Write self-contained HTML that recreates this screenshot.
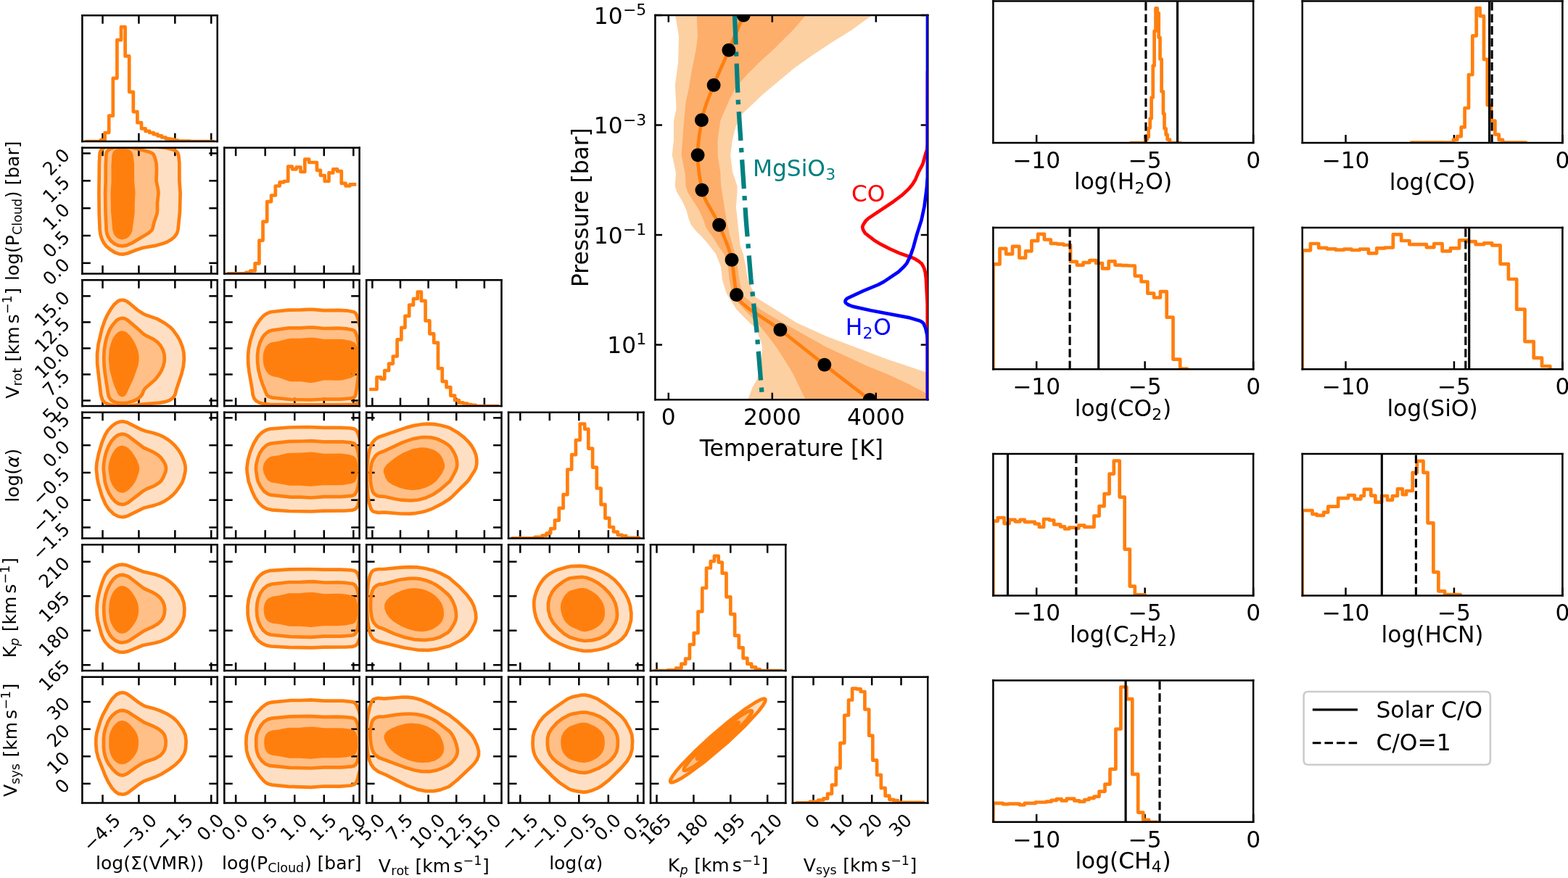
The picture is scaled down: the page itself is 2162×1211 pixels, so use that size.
<!DOCTYPE html>
<html><head><meta charset="utf-8"><title>Retrieval results</title>
<style>html,body{margin:0;padding:0;background:#fff;overflow:hidden;}svg{display:block;}</style>
</head><body>
<svg width="2162" height="1211" viewBox="0 0 2162 1211" version="1.1">
<defs>
<style type="text/css">*{stroke-linejoin: round; stroke-linecap: butt}</style>
</defs>
<g id="figure_1">
<g id="patch_1">
<path d="M0 1211L2162 1211L2162 0L0 0Z" style="fill: #ffffff"/>
</g>
<g id="axes_1">
<g id="patch_2">
<path d="M113.4 195.1L299.7 195.1L299.7 21.3L113.4 21.3Z" style="fill: #ffffff"/>
</g>
<g id="matplotlib.axis_1">
<g id="xtick_1">
<g id="line2d_1">

<g>
<path d="M0 0L0 -11.4" transform="translate(141.511339 195.1)" style="stroke: #000000; stroke-width: 2.5"/>
</g>
</g>
<g id="line2d_2">

<g>
<path d="M0 0L0 11.4" transform="translate(141.511339 21.3)" style="stroke: #000000; stroke-width: 2.5"/>
</g>
</g>
</g>
<g id="xtick_2">
<g id="line2d_3">
<g>
<path d="M0 0L0 -11.4" transform="translate(191.413125 195.1)" style="stroke: #000000; stroke-width: 2.5"/>
</g>
</g>
<g id="line2d_4">
<g>
<path d="M0 0L0 11.4" transform="translate(191.413125 21.3)" style="stroke: #000000; stroke-width: 2.5"/>
</g>
</g>
</g>
<g id="xtick_3">
<g id="line2d_5">
<g>
<path d="M0 0L0 -11.4" transform="translate(241.314911 195.1)" style="stroke: #000000; stroke-width: 2.5"/>
</g>
</g>
<g id="line2d_6">
<g>
<path d="M0 0L0 11.4" transform="translate(241.314911 21.3)" style="stroke: #000000; stroke-width: 2.5"/>
</g>
</g>
</g>
<g id="xtick_4">
<g id="line2d_7">
<g>
<path d="M0 0L0 -11.4" transform="translate(291.216696 195.1)" style="stroke: #000000; stroke-width: 2.5"/>
</g>
</g>
<g id="line2d_8">
<g>
<path d="M0 0L0 11.4" transform="translate(291.216696 21.3)" style="stroke: #000000; stroke-width: 2.5"/>
</g>
</g>
</g>
</g>
<g id="matplotlib.axis_2"/>
<g id="line2d_9">
<path d="M119.9 195.1L139 195.1L139 193.1L144.6 193.1L144.6 183L150.2 183L150.2 159.7L155.8 159.7L155.8 107.8L161.4 107.8L161.4 55.2L167 55.2L167 37.2L172.6 37.2L172.6 77.4L178.2 77.4L178.2 126.8L183.8 126.8L183.8 154.1L189.4 154.1L189.4 169.2L195 169.2L195 177.4L200.6 177.4L200.6 180.9L206.2 180.9L206.2 183L211.8 183L211.8 185.2L217.4 185.2L217.4 187.4L223 187.4L223 189.5L228.6 189.5L228.6 191.3L234.2 191.3L234.2 192.1L239.8 192.1L239.8 193.7L245.4 193.7L245.4 194.5L262 194.5L262 195.1L293.4 195.1" clip-path="url(#p1be38e4489)" style="fill: none; stroke: #ff7f0e; stroke-width: 4.7; stroke-linecap: square"/>
</g>
<g id="patch_3">
<path d="M113.4 195.1L113.4 21.3" style="fill: none; stroke: #000000; stroke-width: 2.5; stroke-linejoin: miter; stroke-linecap: square"/>
</g>
<g id="patch_4">
<path d="M299.7 195.1L299.7 21.3" style="fill: none; stroke: #000000; stroke-width: 2.5; stroke-linejoin: miter; stroke-linecap: square"/>
</g>
<g id="patch_5">
<path d="M113.4 195.1L299.7 195.1" style="fill: none; stroke: #000000; stroke-width: 2.5; stroke-linejoin: miter; stroke-linecap: square"/>
</g>
<g id="patch_6">
<path d="M113.4 21.3L299.7 21.3" style="fill: none; stroke: #000000; stroke-width: 2.5; stroke-linejoin: miter; stroke-linecap: square"/>
</g>
</g>
<g id="axes_2">
<g id="patch_7">
<path d="M113.4 377.6L299.7 377.6L299.7 203.8L113.4 203.8Z" style="fill: #ffffff"/>
</g>
<g id="QuadContourSet_1">
<path d="M160.7 199.3L173.4 199L198.6 201.6L216.9 202.6L228.9 204L236.4 205.7L241.7 207.7L245 210.6L246.3 214.3L247.2 223.3L247.4 249.6L248.6 266.1L247.9 292.3L245.5 316.3L244.6 320.1L243.2 323.1L240.3 326.8L236.4 330.2L231.2 333.3L225.9 335.5L215.4 338.6L197.1 341.8L187.8 344.8L175.7 349.5L171.2 350.6L165.2 350.5L159.9 348.9L153.2 345L147.2 340.1L143.7 335.8L140.5 329.8L138.6 323.8L137.7 317.1L136.7 294.6L136.4 266.8L136.9 224.8L137.6 211.3L138.3 209.1L139.6 206.8L144.2 203.2L150.2 201.1L160.6 199.3ZM165.5 202.3L157.7 203.4L152 205.3L148.6 207.6L147.5 209.1L146.6 211.3L145.7 224.1L145.7 249.6L145.1 264.6L145.5 293.8L146.8 318.6L147.7 323.1L149.6 327.6L153.6 332.8L158.4 336.6L164.4 339L169.7 339.4L176.4 337.9L184.7 333.8L204.8 321.6L207.7 319.3L209.4 317.3L210.6 314.8L212.3 307.3L216.6 294.6L217 290.1L217 279.6L218.5 266.1L218 261.6L215.5 249.6L216 233.1L215.5 225.6L213.8 218.1L211.5 212.8L209.8 211.3L206.5 209.8L188.4 205L175.7 202.7L165.9 202.3Z" clip-path="url(#p639ee60610)" style="fill: #ff7f0e; fill-opacity: 0.25"/>
<path d="M165.9 202.3L175.7 202.7L188.4 205L206.5 209.8L209.8 211.3L211.5 212.8L213.8 218.1L215.5 225.6L216 233.1L215.5 249.6L218 261.6L218.5 266.1L217 279.6L217 290.1L216.6 294.6L212.3 307.3L210.6 314.8L209.4 317.3L207.7 319.3L204.8 321.6L184.7 333.8L176.4 337.9L169.7 339.4L164.4 339L158.4 336.6L153.6 332.8L149.6 327.6L147.7 323.1L146.8 318.6L145.5 293.8L145.1 264.6L145.7 249.6L145.7 224.1L146.6 211.3L147.5 209.1L148.6 207.6L152 205.3L157.7 203.4L165.5 202.3ZM164.7 206.8L160.7 208.1L158.5 209.8L157.3 212.1L156.6 216.6L155.8 229.3L155.9 250.3L154.9 266.1L155.5 293.1L157.4 315.6L158.6 320.8L160.3 323.8L162.9 326.4L165.9 327.7L169.7 328L173.4 326.7L176.4 324.4L179 320.8L180.2 317.1L183.3 293.8L183.4 280.3L184.2 265.3L182.7 249.6L182.7 226.3L181 212.8L179.2 209.8L175.7 207.7L170.4 206.6L165.2 206.7Z" clip-path="url(#p639ee60610)" style="fill: #ff7f0e; fill-opacity: 0.5"/>
<path d="M165.2 206.7L170.4 206.6L175.7 207.7L179.2 209.8L181 212.8L182.7 226.3L182.7 249.6L184.2 265.3L183.4 280.3L183.3 293.8L180.2 317.1L179 320.8L176.4 324.4L173.4 326.7L169.7 328L165.9 327.7L162.9 326.4L160.3 323.8L158.6 320.8L157.4 315.6L155.5 293.1L154.9 266.1L155.9 250.3L155.8 229.3L156.6 216.6L157.3 212.1L158.5 209.8L160.7 208.1L164.7 206.8Z" clip-path="url(#p639ee60610)" style="fill: #ff7f0e"/>
</g>
<g id="matplotlib.axis_3">
<g id="xtick_5">
<g id="line2d_10">
<g>
<path d="M0 0L0 -11.4" transform="translate(141.511339 377.6)" style="stroke: #000000; stroke-width: 2.5"/>
</g>
</g>
<g id="line2d_11">
<g>
<path d="M0 0L0 11.4" transform="translate(141.511339 203.8)" style="stroke: #000000; stroke-width: 2.5"/>
</g>
</g>
</g>
<g id="xtick_6">
<g id="line2d_12">
<g>
<path d="M0 0L0 -11.4" transform="translate(191.413125 377.6)" style="stroke: #000000; stroke-width: 2.5"/>
</g>
</g>
<g id="line2d_13">
<g>
<path d="M0 0L0 11.4" transform="translate(191.413125 203.8)" style="stroke: #000000; stroke-width: 2.5"/>
</g>
</g>
</g>
<g id="xtick_7">
<g id="line2d_14">
<g>
<path d="M0 0L0 -11.4" transform="translate(241.314911 377.6)" style="stroke: #000000; stroke-width: 2.5"/>
</g>
</g>
<g id="line2d_15">
<g>
<path d="M0 0L0 11.4" transform="translate(241.314911 203.8)" style="stroke: #000000; stroke-width: 2.5"/>
</g>
</g>
</g>
<g id="xtick_8">
<g id="line2d_16">
<g>
<path d="M0 0L0 -11.4" transform="translate(291.216696 377.6)" style="stroke: #000000; stroke-width: 2.5"/>
</g>
</g>
<g id="line2d_17">
<g>
<path d="M0 0L0 11.4" transform="translate(291.216696 203.8)" style="stroke: #000000; stroke-width: 2.5"/>
</g>
</g>
</g>
</g>
<g id="matplotlib.axis_4">
<g id="ytick_1">
<g id="line2d_18">

<g>
<path d="M0 0L11.4 0" transform="translate(113.4 362.845538)" style="stroke: #000000; stroke-width: 2.5"/>
</g>
</g>
<g id="line2d_19">

<g>
<path d="M0 0L-11.4 0" transform="translate(299.7 362.845538)" style="stroke: #000000; stroke-width: 2.5"/>
</g>
</g>
<g id="text_1">
<text style="font-size: 25px; font-family: 'DejaVu Sans', sans-serif" transform="translate(69.610578 394.892776) rotate(-45)">0.0</text>
</g>
</g>
<g id="ytick_2">
<g id="line2d_20">
<g>
<path d="M0 0L11.4 0" transform="translate(113.4 325.013583)" style="stroke: #000000; stroke-width: 2.5"/>
</g>
</g>
<g id="line2d_21">
<g>
<path d="M0 0L-11.4 0" transform="translate(299.7 325.013583)" style="stroke: #000000; stroke-width: 2.5"/>
</g>
</g>
<g id="text_2">
<text style="font-size: 25px; font-family: 'DejaVu Sans', sans-serif" transform="translate(69.610578 357.060822) rotate(-45)">0.5</text>
</g>
</g>
<g id="ytick_3">
<g id="line2d_22">
<g>
<path d="M0 0L11.4 0" transform="translate(113.4 287.181628)" style="stroke: #000000; stroke-width: 2.5"/>
</g>
</g>
<g id="line2d_23">
<g>
<path d="M0 0L-11.4 0" transform="translate(299.7 287.181628)" style="stroke: #000000; stroke-width: 2.5"/>
</g>
</g>
<g id="text_3">
<text style="font-size: 25px; font-family: 'DejaVu Sans', sans-serif" transform="translate(69.610578 319.228867) rotate(-45)">1.0</text>
</g>
</g>
<g id="ytick_4">
<g id="line2d_24">
<g>
<path d="M0 0L11.4 0" transform="translate(113.4 249.349673)" style="stroke: #000000; stroke-width: 2.5"/>
</g>
</g>
<g id="line2d_25">
<g>
<path d="M0 0L-11.4 0" transform="translate(299.7 249.349673)" style="stroke: #000000; stroke-width: 2.5"/>
</g>
</g>
<g id="text_4">
<text style="font-size: 25px; font-family: 'DejaVu Sans', sans-serif" transform="translate(69.610578 281.396912) rotate(-45)">1.5</text>
</g>
</g>
<g id="ytick_5">
<g id="line2d_26">
<g>
<path d="M0 0L11.4 0" transform="translate(113.4 211.517719)" style="stroke: #000000; stroke-width: 2.5"/>
</g>
</g>
<g id="line2d_27">
<g>
<path d="M0 0L-11.4 0" transform="translate(299.7 211.517719)" style="stroke: #000000; stroke-width: 2.5"/>
</g>
</g>
<g id="text_5">
<text style="font-size: 25px; font-family: 'DejaVu Sans', sans-serif" transform="translate(69.610578 243.564957) rotate(-45)">2.0</text>
</g>
</g>
</g>
<g id="QuadContourSet_2">
<path d="M160.7 199.3L173.4 199L198.6 201.6L217.7 202.7L228.9 204L237.2 205.9L242.4 208.1L245 210.6L246.4 215.1L247.3 224.8L247.4 249.6L248.6 266.1L247.9 293.1L245.4 317.1L244.3 320.8L242.7 323.8L240.2 327L236.4 330.2L231.2 333.3L225.9 335.5L215.4 338.6L197.1 341.8L187.8 344.8L175.7 349.5L169.7 350.7L164.4 350.4L158.4 348.2L151.7 343.9L146.6 339.6L143.2 335.1L140.2 329.1L138.5 323.1L137.6 316.3L136.7 294.6L136.4 266.8L136.9 224.8L137.6 211.3L138.3 209.1L139.6 206.8L144.2 203.2L150.2 201.1L160.7 199.3Z" clip-path="url(#p639ee60610)" style="fill: none; stroke: #ff7f0e; stroke-width: 4.7"/>
<path d="M165.9 202.3L175.7 202.7L188.4 205L206.5 209.8L209.8 211.3L211.5 212.8L213.8 218.1L215.5 225.6L216 233.1L215.5 249.6L218 261.6L218.5 266.1L217 279.6L217 290.1L216.6 294.6L212.3 307.3L210.6 314.8L209.1 317.8L204.8 321.6L183.2 334.6L174.9 338.4L168.9 339.4L162.9 338.6L157.7 336.2L152.8 332.1L149.2 326.8L147.5 322.3L146.7 317.8L145.5 293.1L145.1 266.1L145.7 249.6L145.7 228.6L146.6 211.3L147.5 209.1L148.6 207.6L152.4 205.1L158.4 203.2L165.9 202.3Z" clip-path="url(#p639ee60610)" style="fill: none; stroke: #ff7f0e; stroke-width: 4.7"/>
<path d="M165.2 206.7L170.4 206.6L175.7 207.7L179.2 209.8L181 212.8L182.7 226.3L182.7 249.6L184.2 265.3L183.4 280.3L183.3 293.8L180.1 317.8L178.6 321.6L175.7 325.2L172.7 327.1L168.9 328.1L165.9 327.7L162.9 326.4L160.3 323.8L158.6 320.8L157.4 315.6L155.4 292.3L154.9 265.3L155.9 250.3L155.8 229.3L156.6 215.8L157.3 212.1L158.5 209.8L161.4 207.7L165.2 206.7Z" clip-path="url(#p639ee60610)" style="fill: none; stroke: #ff7f0e; stroke-width: 4.7"/>
</g>
<g id="patch_8">
<path d="M113.4 377.6L113.4 203.8" style="fill: none; stroke: #000000; stroke-width: 2.5; stroke-linejoin: miter; stroke-linecap: square"/>
</g>
<g id="patch_9">
<path d="M299.7 377.6L299.7 203.8" style="fill: none; stroke: #000000; stroke-width: 2.5; stroke-linejoin: miter; stroke-linecap: square"/>
</g>
<g id="patch_10">
<path d="M113.4 377.6L299.7 377.6" style="fill: none; stroke: #000000; stroke-width: 2.5; stroke-linejoin: miter; stroke-linecap: square"/>
</g>
<g id="patch_11">
<path d="M113.4 203.8L299.7 203.8" style="fill: none; stroke: #000000; stroke-width: 2.5; stroke-linejoin: miter; stroke-linecap: square"/>
</g>
</g>
<g id="axes_3">
<g id="patch_12">
<path d="M309.3 377.6L495.6 377.6L495.6 203.8L309.3 203.8Z" style="fill: #ffffff"/>
</g>
<g id="matplotlib.axis_5">
<g id="xtick_9">
<g id="line2d_28">
<g>
<path d="M0 0L0 -11.4" transform="translate(325.115629 377.6)" style="stroke: #000000; stroke-width: 2.5"/>
</g>
</g>
<g id="line2d_29">
<g>
<path d="M0 0L0 11.4" transform="translate(325.115629 203.8)" style="stroke: #000000; stroke-width: 2.5"/>
</g>
</g>
</g>
<g id="xtick_10">
<g id="line2d_30">
<g>
<path d="M0 0L0 -11.4" transform="translate(365.668524 377.6)" style="stroke: #000000; stroke-width: 2.5"/>
</g>
</g>
<g id="line2d_31">
<g>
<path d="M0 0L0 11.4" transform="translate(365.668524 203.8)" style="stroke: #000000; stroke-width: 2.5"/>
</g>
</g>
</g>
<g id="xtick_11">
<g id="line2d_32">
<g>
<path d="M0 0L0 -11.4" transform="translate(406.221419 377.6)" style="stroke: #000000; stroke-width: 2.5"/>
</g>
</g>
<g id="line2d_33">
<g>
<path d="M0 0L0 11.4" transform="translate(406.221419 203.8)" style="stroke: #000000; stroke-width: 2.5"/>
</g>
</g>
</g>
<g id="xtick_12">
<g id="line2d_34">
<g>
<path d="M0 0L0 -11.4" transform="translate(446.774314 377.6)" style="stroke: #000000; stroke-width: 2.5"/>
</g>
</g>
<g id="line2d_35">
<g>
<path d="M0 0L0 11.4" transform="translate(446.774314 203.8)" style="stroke: #000000; stroke-width: 2.5"/>
</g>
</g>
</g>
<g id="xtick_13">
<g id="line2d_36">
<g>
<path d="M0 0L0 -11.4" transform="translate(487.327209 377.6)" style="stroke: #000000; stroke-width: 2.5"/>
</g>
</g>
<g id="line2d_37">
<g>
<path d="M0 0L0 11.4" transform="translate(487.327209 203.8)" style="stroke: #000000; stroke-width: 2.5"/>
</g>
</g>
</g>
</g>
<g id="matplotlib.axis_6"/>
<g id="line2d_38">
<path d="M315.5 377.4L339.3 377.4L339.3 375.9L345.1 375.9L345.1 373.5L351.6 373.5L351.6 363.4L357.4 363.4L357.4 331.6L362.5 331.6L362.5 305.6L368.2 305.6L368.2 278.1L374 278.1L374 269.5L379.8 269.5L379.8 256.5L385.6 256.5L385.6 251.4L391.4 251.4L391.4 250L397.2 250L397.2 229.7L402.9 229.7L402.9 233.3L408.7 233.3L408.7 230.5L414.5 230.5L414.5 237L420.3 237L420.3 219.6L426.1 219.6L426.1 224L436.9 224L436.9 234.8L441.9 234.8L441.9 242L447.7 242L447.7 250L453.5 250L453.5 238.4L459.3 238.4L459.3 233.3L465.1 233.3L465.1 236.2L470.8 236.2L470.8 252.9L476.6 252.9L476.6 256.5L482.4 256.5L482.4 254.3L488.9 254.3" clip-path="url(#p97ba4817ba)" style="fill: none; stroke: #ff7f0e; stroke-width: 4.7; stroke-linecap: square"/>
</g>
<g id="patch_13">
<path d="M309.3 377.6L309.3 203.8" style="fill: none; stroke: #000000; stroke-width: 2.5; stroke-linejoin: miter; stroke-linecap: square"/>
</g>
<g id="patch_14">
<path d="M495.6 377.6L495.6 203.8" style="fill: none; stroke: #000000; stroke-width: 2.5; stroke-linejoin: miter; stroke-linecap: square"/>
</g>
<g id="patch_15">
<path d="M309.3 377.6L495.6 377.6" style="fill: none; stroke: #000000; stroke-width: 2.5; stroke-linejoin: miter; stroke-linecap: square"/>
</g>
<g id="patch_16">
<path d="M309.3 203.8L495.6 203.8" style="fill: none; stroke: #000000; stroke-width: 2.5; stroke-linejoin: miter; stroke-linecap: square"/>
</g>
</g>
<g id="axes_4">
<g id="patch_17">
<path d="M113.4 560.1L299.7 560.1L299.7 386.3L113.4 386.3Z" style="fill: #ffffff"/>
</g>
<g id="QuadContourSet_3">
<path d="M165.9 414L169.7 413.8L174.2 415.3L177.9 417.8L189.6 427.6L196.7 432.3L201.2 434.5L216.9 439.9L227.4 445.9L234.2 450.8L238.1 454.6L245.1 464.3L248.8 471.1L252 480.1L253.7 489.8L253.6 499.6L251.9 510.1L248.9 520.5L243.2 537.2L241 545.3L239 548.3L236.5 550.5L234 552L230 553.5L224.4 554.9L216.2 556L199 557.3L176.4 560L166.7 560.4L159.2 559.8L149.4 557.7L144.1 555L141 551.3L139.1 544.5L134.1 501.8L134 488.3L135.6 474.8L140.6 453.1L144.6 441.8L147.6 435.1L151.9 427.6L157.4 420.1L161.4 416.2L165.8 414.1ZM168 438.8L163.7 440L159.2 443.4L153.3 450.8L150.5 456.1L147 465.8L144.7 475.6L143.5 486.1L143.3 497.3L143.8 507.1L145.2 518.3L149.2 543.8L150.7 548.3L153.4 552L157.7 554.5L164.4 556L171.2 556.1L178.7 554.9L185.1 552.8L190.5 549.8L194.6 546L196.2 543.8L197.8 539.3L199.7 536.2L202.7 533.1L213.2 524.2L217 519.8L220.6 514.5L223.4 509.3L225.4 504.1L226.6 498.8L226.9 493.6L226.2 487.6L224.5 482.3L221.6 477.1L217.7 472.4L211.7 467.9L201.9 463.2L197.7 460.6L189.6 453.1L175.7 441.4L171.9 439.4L168.2 438.8Z" clip-path="url(#paacbe56d17)" style="fill: #ff7f0e; fill-opacity: 0.25"/>
<path d="M168.2 438.8L171.9 439.4L175.7 441.4L189.6 453.1L197.7 460.6L201.9 463.2L211.7 467.9L217.7 472.4L221.6 477.1L224.5 482.3L226.2 487.6L226.9 493.6L226.6 498.8L225.4 504.1L223.4 509.3L220.6 514.5L217 519.8L213.2 524.2L202.7 533.1L199.7 536.2L197.8 539.3L196.2 543.8L194.6 546L190.5 549.8L185.1 552.8L178.7 554.9L171.2 556.1L164.4 556L157.7 554.5L153.4 552L150.7 548.3L149.2 543.8L145.2 518.3L143.8 507.1L143.3 497.3L143.5 486.1L144.7 475.6L147 465.8L150.5 456.1L153.3 450.8L159.2 443.4L163.7 440L168 438.8ZM166.2 459.1L163.7 460.4L160.7 463.3L158 467.3L155.7 472.6L154.1 477.8L152.7 484.6L152.2 497.3L152.8 504.8L154.3 513L159 529.5L165.2 543.3L167.4 544.8L169.7 544.7L171.2 543.8L172.2 542.3L178.8 528.8L184.4 515.3L188.2 503.3L189 498.1L189.2 492.8L188.5 486.8L186.8 480.8L184.2 474.8L180.3 468.1L176.8 463.6L173.4 460.5L169.7 458.8L166.7 458.9Z" clip-path="url(#paacbe56d17)" style="fill: #ff7f0e; fill-opacity: 0.5"/>
<path d="M166.7 458.9L169.7 458.8L173.4 460.5L176.8 463.6L180.3 468.1L184.2 474.8L186.8 480.8L188.5 486.8L189.2 492.8L189 498.1L188.2 503.3L184.4 515.3L178.8 528.8L172.2 542.3L171.2 543.8L169.7 544.7L167.4 544.8L165.2 543.3L159 529.5L154.3 513L152.8 504.8L152.2 497.3L152.7 484.6L154.1 477.8L155.7 472.6L158 467.3L160.7 463.3L163.7 460.4L166.2 459.1Z" clip-path="url(#paacbe56d17)" style="fill: #ff7f0e"/>
</g>
<g id="matplotlib.axis_7">
<g id="xtick_14">
<g id="line2d_39">
<g>
<path d="M0 0L0 -11.4" transform="translate(141.511339 560.1)" style="stroke: #000000; stroke-width: 2.5"/>
</g>
</g>
<g id="line2d_40">
<g>
<path d="M0 0L0 11.4" transform="translate(141.511339 386.3)" style="stroke: #000000; stroke-width: 2.5"/>
</g>
</g>
</g>
<g id="xtick_15">
<g id="line2d_41">
<g>
<path d="M0 0L0 -11.4" transform="translate(191.413125 560.1)" style="stroke: #000000; stroke-width: 2.5"/>
</g>
</g>
<g id="line2d_42">
<g>
<path d="M0 0L0 11.4" transform="translate(191.413125 386.3)" style="stroke: #000000; stroke-width: 2.5"/>
</g>
</g>
</g>
<g id="xtick_16">
<g id="line2d_43">
<g>
<path d="M0 0L0 -11.4" transform="translate(241.314911 560.1)" style="stroke: #000000; stroke-width: 2.5"/>
</g>
</g>
<g id="line2d_44">
<g>
<path d="M0 0L0 11.4" transform="translate(241.314911 386.3)" style="stroke: #000000; stroke-width: 2.5"/>
</g>
</g>
</g>
<g id="xtick_17">
<g id="line2d_45">
<g>
<path d="M0 0L0 -11.4" transform="translate(291.216696 560.1)" style="stroke: #000000; stroke-width: 2.5"/>
</g>
</g>
<g id="line2d_46">
<g>
<path d="M0 0L0 11.4" transform="translate(291.216696 386.3)" style="stroke: #000000; stroke-width: 2.5"/>
</g>
</g>
</g>
</g>
<g id="matplotlib.axis_8">
<g id="ytick_6">
<g id="line2d_47">
<g>
<path d="M0 0L11.4 0" transform="translate(113.4 552.462023)" style="stroke: #000000; stroke-width: 2.5"/>
</g>
</g>
<g id="line2d_48">
<g>
<path d="M0 0L-11.4 0" transform="translate(299.7 552.462023)" style="stroke: #000000; stroke-width: 2.5"/>
</g>
</g>
<g id="text_6">
<text style="font-size: 25px; font-family: 'DejaVu Sans', sans-serif" transform="translate(69.610578 584.509262) rotate(-45)">5.0</text>
</g>
</g>
<g id="ytick_7">
<g id="line2d_49">
<g>
<path d="M0 0L11.4 0" transform="translate(113.4 516.433831)" style="stroke: #000000; stroke-width: 2.5"/>
</g>
</g>
<g id="line2d_50">
<g>
<path d="M0 0L-11.4 0" transform="translate(299.7 516.433831)" style="stroke: #000000; stroke-width: 2.5"/>
</g>
</g>
<g id="text_7">
<text style="font-size: 25px; font-family: 'DejaVu Sans', sans-serif" transform="translate(69.610578 548.48107) rotate(-45)">7.5</text>
</g>
</g>
<g id="ytick_8">
<g id="line2d_51">
<g>
<path d="M0 0L11.4 0" transform="translate(113.4 480.405638)" style="stroke: #000000; stroke-width: 2.5"/>
</g>
</g>
<g id="line2d_52">
<g>
<path d="M0 0L-11.4 0" transform="translate(299.7 480.405638)" style="stroke: #000000; stroke-width: 2.5"/>
</g>
</g>
<g id="text_8">
<text style="font-size: 25px; font-family: 'DejaVu Sans', sans-serif" transform="translate(58.363161 523.700294) rotate(-45)">10.0</text>
</g>
</g>
<g id="ytick_9">
<g id="line2d_53">
<g>
<path d="M0 0L11.4 0" transform="translate(113.4 444.377446)" style="stroke: #000000; stroke-width: 2.5"/>
</g>
</g>
<g id="line2d_54">
<g>
<path d="M0 0L-11.4 0" transform="translate(299.7 444.377446)" style="stroke: #000000; stroke-width: 2.5"/>
</g>
</g>
<g id="text_9">
<text style="font-size: 25px; font-family: 'DejaVu Sans', sans-serif" transform="translate(58.363161 487.672102) rotate(-45)">12.5</text>
</g>
</g>
<g id="ytick_10">
<g id="line2d_55">
<g>
<path d="M0 0L11.4 0" transform="translate(113.4 408.349254)" style="stroke: #000000; stroke-width: 2.5"/>
</g>
</g>
<g id="line2d_56">
<g>
<path d="M0 0L-11.4 0" transform="translate(299.7 408.349254)" style="stroke: #000000; stroke-width: 2.5"/>
</g>
</g>
<g id="text_10">
<text style="font-size: 25px; font-family: 'DejaVu Sans', sans-serif" transform="translate(58.363161 451.64391) rotate(-45)">15.0</text>
</g>
</g>
</g>
<g id="QuadContourSet_4">
<path d="M165.9 414L169.7 413.8L174.2 415.3L177.9 417.8L189.6 427.6L196.7 432.3L201.2 434.5L216.9 439.9L227.4 445.9L234.2 450.8L238.1 454.6L244.1 462.8L248.1 469.6L251.6 478.6L253.4 486.8L253.8 495.8L252.8 505.6L250.3 516L243.2 537.2L241.4 544.5L238.3 549L234 552L228.2 554.1L219.9 555.6L198.9 557.3L176.4 560L168.2 560.4L159.2 559.8L149.4 557.7L144.1 555L141 551.3L139.1 544.5L134.1 501.8L134 488.3L135.6 474.8L140.6 453.1L144.6 441.8L147.6 435.1L152.9 426.1L157.7 419.7L162.2 415.7L165.9 414Z" clip-path="url(#paacbe56d17)" style="fill: none; stroke: #ff7f0e; stroke-width: 4.7"/>
<path d="M168.2 438.8L171.9 439.4L175.7 441.4L189.6 453.1L197.7 460.6L201.9 463.2L211.7 467.9L217.7 472.4L221.6 477.1L224.5 482.3L226.4 488.3L226.9 494.3L226.5 499.6L225.2 504.8L223.1 510.1L220.2 515.3L216.9 519.9L213.2 524.2L200.2 535.5L198.1 538.5L196.2 543.8L193.9 546.8L189.5 550.5L183.1 553.5L175.7 555.6L168.2 556.2L161.4 555.6L156.2 553.8L152.6 551.3L150.3 547.5L149.2 543.8L144.7 514.5L143.6 504.1L143.2 494.3L143.7 483.1L145.3 472.6L147.4 464.3L151.2 454.6L154.7 448.9L159.9 442.7L163.7 440L168.2 438.8Z" clip-path="url(#paacbe56d17)" style="fill: none; stroke: #ff7f0e; stroke-width: 4.7"/>
<path d="M166.7 458.9L169.7 458.8L173.4 460.5L177.2 463.9L180.8 468.8L184.2 474.8L187.1 481.6L188.7 487.6L189.3 493.6L189 498.8L187.8 504.8L182 521.3L171.9 542.9L170.4 544.4L168.2 544.9L166.7 544.5L165 543L159.9 531.7L157.5 525L153.5 509.3L152.1 495.1L153 483.1L154.3 477.1L156.3 471.1L158.4 466.6L161.1 462.8L163.7 460.4L166.7 458.9Z" clip-path="url(#paacbe56d17)" style="fill: none; stroke: #ff7f0e; stroke-width: 4.7"/>
</g>
<g id="patch_18">
<path d="M113.4 560.1L113.4 386.3" style="fill: none; stroke: #000000; stroke-width: 2.5; stroke-linejoin: miter; stroke-linecap: square"/>
</g>
<g id="patch_19">
<path d="M299.7 560.1L299.7 386.3" style="fill: none; stroke: #000000; stroke-width: 2.5; stroke-linejoin: miter; stroke-linecap: square"/>
</g>
<g id="patch_20">
<path d="M113.4 560.1L299.7 560.1" style="fill: none; stroke: #000000; stroke-width: 2.5; stroke-linejoin: miter; stroke-linecap: square"/>
</g>
<g id="patch_21">
<path d="M113.4 386.3L299.7 386.3" style="fill: none; stroke: #000000; stroke-width: 2.5; stroke-linejoin: miter; stroke-linecap: square"/>
</g>
</g>
<g id="axes_5">
<g id="patch_22">
<path d="M309.3 560.1L495.6 560.1L495.6 386.3L309.3 386.3Z" style="fill: #ffffff"/>
</g>
<g id="QuadContourSet_5">
<path d="M424.8 426.8L431.6 426.8L447.3 428.1L469.8 427.9L481.8 428.9L486.3 429.6L488.6 430.6L490.2 432.1L492 435.1L494.1 441.1L496.5 451.6L498.5 470.3L499.4 492.1L498.8 516L497.4 545.3L496.5 551.3L495.3 554.3L493.1 556.5L490.1 557.6L487.1 558L427.1 558.6L370.1 557.8L362.6 556.8L356.6 555L352.8 552.7L350.1 549L348.6 544.5L347.6 536.3L343.3 511.6L342.1 500.3L342 490.6L343.2 478.6L345.6 468.1L350.2 454.6L353.8 447.8L358.3 441.1L362.6 436.2L367.1 432.8L371.6 430.8L375.3 430L397.8 427.6L414.3 427.4L424.7 426.8ZM425.8 451.6L414.3 452.3L398.6 452.4L374.6 455.6L370.8 457L367.8 458.9L364.8 461.7L361.8 465.7L358.4 472.6L356.1 480.8L355 489.8L355 498.8L356.1 508.6L358.5 519L361.3 528L365.6 538.5L367.1 543.2L369.3 546.1L373.8 548.1L397.1 550.8L428.6 551.5L447.3 550.5L470.6 550.6L480.3 549.9L486.3 548.9L489.3 546.9L490.6 543.8L494.2 517.5L495.4 494.3L495.1 483.1L494.2 473.3L492.7 465.1L490.8 459.6L489.3 457.1L487.1 455.3L479.6 453.7L466.8 452.8L446.6 453L432.3 451.7L426.3 451.5Z" clip-path="url(#pcf2dee9362)" style="fill: #ff7f0e; fill-opacity: 0.25"/>
<path d="M426.3 451.5L432.3 451.7L446.6 453L466.8 452.8L479.6 453.7L487.1 455.3L489.3 457.1L490.8 459.6L492.7 465.1L494.2 473.3L495.1 483.1L495.4 494.3L494.2 517.5L490.6 543.8L489.3 546.9L486.3 548.9L480.3 549.9L470.6 550.6L447.3 550.5L428.6 551.5L397.1 550.8L373.8 548.1L369.3 546.1L367.1 543.2L365.6 538.5L361.3 528L358.5 519L356.1 508.6L355 498.8L355 489.8L356.1 480.8L358.4 472.6L361.8 465.7L364.8 461.7L367.8 458.9L370.8 457L374.6 455.6L398.6 452.4L414.3 452.3L425.8 451.6ZM425.1 468.1L414.3 469.2L398.6 469.4L385.1 472.8L376.8 474L373.8 475L369.9 477.8L366.7 483.1L365.1 489.8L365 497.3L366.2 504.1L368.6 509.9L371.6 513.9L375.3 516.3L385.1 518.5L394.8 522.3L399.3 523.4L413.6 523.6L424.8 525.4L430.1 525.5L446.6 521.9L463.8 522.5L471.3 522L479.6 520.3L485.6 518L487.1 516.8L488.6 514.6L490.4 508.6L491.6 498.3L491.4 487.6L490.4 480.8L488.9 476.3L487.1 474.1L483.3 472.4L477.3 471.1L470.6 470.2L463.1 470L447.3 470.4L432.3 468.2L425.6 468Z" clip-path="url(#pcf2dee9362)" style="fill: #ff7f0e; fill-opacity: 0.5"/>
<path d="M425.6 468L432.3 468.2L447.3 470.4L463.1 470L470.6 470.2L477.3 471.1L483.3 472.4L487.1 474.1L488.9 476.3L490.4 480.8L491.4 487.6L491.6 498.3L490.4 508.6L488.6 514.6L487.1 516.8L485.6 518L479.6 520.3L471.3 522L463.8 522.5L446.6 521.9L430.1 525.5L424.8 525.4L413.6 523.6L399.3 523.4L394.8 522.3L385.1 518.5L375.3 516.3L371.6 513.9L368.6 509.9L366.2 504.1L365 497.3L365.1 489.8L366.7 483.1L369.9 477.8L373.8 475L376.8 474L385.1 472.8L398.6 469.4L414.3 469.2L425.1 468.1Z" clip-path="url(#pcf2dee9362)" style="fill: #ff7f0e"/>
</g>
<g id="matplotlib.axis_9">
<g id="xtick_18">
<g id="line2d_57">
<g>
<path d="M0 0L0 -11.4" transform="translate(325.115629 560.1)" style="stroke: #000000; stroke-width: 2.5"/>
</g>
</g>
<g id="line2d_58">
<g>
<path d="M0 0L0 11.4" transform="translate(325.115629 386.3)" style="stroke: #000000; stroke-width: 2.5"/>
</g>
</g>
</g>
<g id="xtick_19">
<g id="line2d_59">
<g>
<path d="M0 0L0 -11.4" transform="translate(365.668524 560.1)" style="stroke: #000000; stroke-width: 2.5"/>
</g>
</g>
<g id="line2d_60">
<g>
<path d="M0 0L0 11.4" transform="translate(365.668524 386.3)" style="stroke: #000000; stroke-width: 2.5"/>
</g>
</g>
</g>
<g id="xtick_20">
<g id="line2d_61">
<g>
<path d="M0 0L0 -11.4" transform="translate(406.221419 560.1)" style="stroke: #000000; stroke-width: 2.5"/>
</g>
</g>
<g id="line2d_62">
<g>
<path d="M0 0L0 11.4" transform="translate(406.221419 386.3)" style="stroke: #000000; stroke-width: 2.5"/>
</g>
</g>
</g>
<g id="xtick_21">
<g id="line2d_63">
<g>
<path d="M0 0L0 -11.4" transform="translate(446.774314 560.1)" style="stroke: #000000; stroke-width: 2.5"/>
</g>
</g>
<g id="line2d_64">
<g>
<path d="M0 0L0 11.4" transform="translate(446.774314 386.3)" style="stroke: #000000; stroke-width: 2.5"/>
</g>
</g>
</g>
<g id="xtick_22">
<g id="line2d_65">
<g>
<path d="M0 0L0 -11.4" transform="translate(487.327209 560.1)" style="stroke: #000000; stroke-width: 2.5"/>
</g>
</g>
<g id="line2d_66">
<g>
<path d="M0 0L0 11.4" transform="translate(487.327209 386.3)" style="stroke: #000000; stroke-width: 2.5"/>
</g>
</g>
</g>
</g>
<g id="matplotlib.axis_10">
<g id="ytick_11">
<g id="line2d_67">
<g>
<path d="M0 0L11.4 0" transform="translate(309.3 552.462023)" style="stroke: #000000; stroke-width: 2.5"/>
</g>
</g>
<g id="line2d_68">
<g>
<path d="M0 0L-11.4 0" transform="translate(495.6 552.462023)" style="stroke: #000000; stroke-width: 2.5"/>
</g>
</g>
</g>
<g id="ytick_12">
<g id="line2d_69">
<g>
<path d="M0 0L11.4 0" transform="translate(309.3 516.433831)" style="stroke: #000000; stroke-width: 2.5"/>
</g>
</g>
<g id="line2d_70">
<g>
<path d="M0 0L-11.4 0" transform="translate(495.6 516.433831)" style="stroke: #000000; stroke-width: 2.5"/>
</g>
</g>
</g>
<g id="ytick_13">
<g id="line2d_71">
<g>
<path d="M0 0L11.4 0" transform="translate(309.3 480.405638)" style="stroke: #000000; stroke-width: 2.5"/>
</g>
</g>
<g id="line2d_72">
<g>
<path d="M0 0L-11.4 0" transform="translate(495.6 480.405638)" style="stroke: #000000; stroke-width: 2.5"/>
</g>
</g>
</g>
<g id="ytick_14">
<g id="line2d_73">
<g>
<path d="M0 0L11.4 0" transform="translate(309.3 444.377446)" style="stroke: #000000; stroke-width: 2.5"/>
</g>
</g>
<g id="line2d_74">
<g>
<path d="M0 0L-11.4 0" transform="translate(495.6 444.377446)" style="stroke: #000000; stroke-width: 2.5"/>
</g>
</g>
</g>
<g id="ytick_15">
<g id="line2d_75">
<g>
<path d="M0 0L11.4 0" transform="translate(309.3 408.349254)" style="stroke: #000000; stroke-width: 2.5"/>
</g>
</g>
<g id="line2d_76">
<g>
<path d="M0 0L-11.4 0" transform="translate(495.6 408.349254)" style="stroke: #000000; stroke-width: 2.5"/>
</g>
</g>
</g>
</g>
<g id="QuadContourSet_6">
<path d="M424.8 426.8L431.6 426.8L446.6 428.1L466.8 427.9L480.3 428.7L487.8 430.2L490.1 431.9L491.6 434.1L494.3 441.8L497 455.3L498.7 472.6L499.4 492.1L498.9 515.3L497.3 546.8L495.7 553.5L494.6 555.2L492.3 556.9L487.8 557.9L470.6 558.3L401.6 558.4L371.6 557.8L363.3 556.9L357.3 555.3L352.9 552.8L350.5 549.8L348.6 544.5L347.6 536.3L343.4 512.3L342.2 501.1L342 491.3L342.8 481.6L345 470.3L350.2 454.6L353.3 448.6L358.1 441.4L362.6 436.2L367.1 432.8L371.6 430.8L375.3 430L397.8 427.6L414.3 427.4L424.8 426.8Z" clip-path="url(#pcf2dee9362)" style="fill: none; stroke: #ff7f0e; stroke-width: 4.7"/>
<path d="M426.3 451.5L432.3 451.7L446.6 453L466.1 452.7L477.3 453.4L486.3 455L488.6 456.3L490.1 458.2L492.5 464.3L494.3 474.1L495.2 486.1L495.3 500.3L494 519.8L490.8 543L489.8 546L487.8 548.3L481.8 549.7L469.8 550.6L447.3 550.5L428.6 551.5L400.8 551L374.6 548.3L370.3 546.8L367.8 544.5L361.6 528.8L358.9 520.5L356.4 510.1L355.1 500.3L354.9 490.6L356.1 480.8L358.4 472.6L361.8 465.7L364.8 461.7L367.8 458.9L370.8 457L374.6 455.6L398.6 452.4L414.3 452.3L426.3 451.5Z" clip-path="url(#pcf2dee9362)" style="fill: none; stroke: #ff7f0e; stroke-width: 4.7"/>
<path d="M425.6 468L432.3 468.2L447.3 470.4L463.8 470L472.1 470.4L481.8 472L487.1 474.1L488.9 476.3L490.2 480.1L491.3 486.1L491.6 492.8L490.8 506.3L489.3 512.8L487.8 515.8L486.3 517.4L483.3 519L472.8 521.8L464.6 522.5L446.6 521.9L433.1 525.1L427.8 525.6L414.3 523.7L403.1 523.8L398.6 523.3L385.1 518.5L376.1 516.6L372.3 514.6L369.3 511.1L367.2 507.1L365.6 501.8L364.9 495.8L365.1 489.8L366.2 484.6L368.2 480.1L370.8 476.9L373.1 475.3L376.1 474.2L385.1 472.8L397.8 469.6L403.1 469.1L414.3 469.2L425.6 468Z" clip-path="url(#pcf2dee9362)" style="fill: none; stroke: #ff7f0e; stroke-width: 4.7"/>
</g>
<g id="patch_23">
<path d="M309.3 560.1L309.3 386.3" style="fill: none; stroke: #000000; stroke-width: 2.5; stroke-linejoin: miter; stroke-linecap: square"/>
</g>
<g id="patch_24">
<path d="M495.6 560.1L495.6 386.3" style="fill: none; stroke: #000000; stroke-width: 2.5; stroke-linejoin: miter; stroke-linecap: square"/>
</g>
<g id="patch_25">
<path d="M309.3 560.1L495.6 560.1" style="fill: none; stroke: #000000; stroke-width: 2.5; stroke-linejoin: miter; stroke-linecap: square"/>
</g>
<g id="patch_26">
<path d="M309.3 386.3L495.6 386.3" style="fill: none; stroke: #000000; stroke-width: 2.5; stroke-linejoin: miter; stroke-linecap: square"/>
</g>
</g>
<g id="axes_6">
<g id="patch_27">
<path d="M505.2 560.1L691.5 560.1L691.5 386.3L505.2 386.3Z" style="fill: #ffffff"/>
</g>
<g id="matplotlib.axis_11">
<g id="xtick_23">
<g id="line2d_77">
<g>
<path d="M0 0L0 -11.4" transform="translate(513.387313 560.1)" style="stroke: #000000; stroke-width: 2.5"/>
</g>
</g>
<g id="line2d_78">
<g>
<path d="M0 0L0 11.4" transform="translate(513.387313 386.3)" style="stroke: #000000; stroke-width: 2.5"/>
</g>
</g>
</g>
<g id="xtick_24">
<g id="line2d_79">
<g>
<path d="M0 0L0 -11.4" transform="translate(552.006716 560.1)" style="stroke: #000000; stroke-width: 2.5"/>
</g>
</g>
<g id="line2d_80">
<g>
<path d="M0 0L0 11.4" transform="translate(552.006716 386.3)" style="stroke: #000000; stroke-width: 2.5"/>
</g>
</g>
</g>
<g id="xtick_25">
<g id="line2d_81">
<g>
<path d="M0 0L0 -11.4" transform="translate(590.626119 560.1)" style="stroke: #000000; stroke-width: 2.5"/>
</g>
</g>
<g id="line2d_82">
<g>
<path d="M0 0L0 11.4" transform="translate(590.626119 386.3)" style="stroke: #000000; stroke-width: 2.5"/>
</g>
</g>
</g>
<g id="xtick_26">
<g id="line2d_83">
<g>
<path d="M0 0L0 -11.4" transform="translate(629.245522 560.1)" style="stroke: #000000; stroke-width: 2.5"/>
</g>
</g>
<g id="line2d_84">
<g>
<path d="M0 0L0 11.4" transform="translate(629.245522 386.3)" style="stroke: #000000; stroke-width: 2.5"/>
</g>
</g>
</g>
<g id="xtick_27">
<g id="line2d_85">
<g>
<path d="M0 0L0 -11.4" transform="translate(667.864925 560.1)" style="stroke: #000000; stroke-width: 2.5"/>
</g>
</g>
<g id="line2d_86">
<g>
<path d="M0 0L0 11.4" transform="translate(667.864925 386.3)" style="stroke: #000000; stroke-width: 2.5"/>
</g>
</g>
</g>
</g>
<g id="matplotlib.axis_12"/>
<g id="line2d_87">
<path d="M511.5 537L519.5 537L519.5 520.4L525.2 520.4L525.2 522.6L530.3 522.6L530.3 511L536.1 511L536.1 501.6L541.8 501.6L541.8 491.5L547.6 491.5L547.6 468.4L553.4 468.4L553.4 451.8L558.5 451.8L558.5 435.9L564.2 435.9L564.2 420.7L570 420.7L570 412L575.8 412L575.8 402.6L580.9 402.6L580.9 414.9L586.6 414.9L586.6 442.4L592.4 442.4L592.4 460.4L598.2 460.4L598.2 472.7L604 472.7L604 508.1L609.8 508.1L609.8 526.2L615.5 526.2L615.5 534.1L621.3 534.1L621.3 545.7L627.1 545.7L627.1 552.2L632.9 552.2L632.9 555.4L638.7 555.4L638.7 556.5L644.5 556.5L644.5 558L650.2 558L650.2 558.9L656 558.9L656 560L685.6 560" clip-path="url(#p2f7e1b8e32)" style="fill: none; stroke: #ff7f0e; stroke-width: 4.7; stroke-linecap: square"/>
</g>
<g id="patch_28">
<path d="M505.2 560.1L505.2 386.3" style="fill: none; stroke: #000000; stroke-width: 2.5; stroke-linejoin: miter; stroke-linecap: square"/>
</g>
<g id="patch_29">
<path d="M691.5 560.1L691.5 386.3" style="fill: none; stroke: #000000; stroke-width: 2.5; stroke-linejoin: miter; stroke-linecap: square"/>
</g>
<g id="patch_30">
<path d="M505.2 560.1L691.5 560.1" style="fill: none; stroke: #000000; stroke-width: 2.5; stroke-linejoin: miter; stroke-linecap: square"/>
</g>
<g id="patch_31">
<path d="M505.2 386.3L691.5 386.3" style="fill: none; stroke: #000000; stroke-width: 2.5; stroke-linejoin: miter; stroke-linecap: square"/>
</g>
</g>
<g id="axes_7">
<g id="patch_32">
<path d="M113.4 742.6L299.7 742.6L299.7 568.8L113.4 568.8Z" style="fill: #ffffff"/>
</g>
<g id="QuadContourSet_7">
<path d="M165.9 581.5L170.4 581.4L175.7 582.8L195.6 592.8L200.4 594.5L211.7 597.2L218.4 599.4L225.2 602.4L231.9 606.5L236.4 610.1L240.9 614.4L248.5 624.3L250.9 628.8L253.4 634.8L255 640L255.7 645.3L254.8 653.5L253 661L251.2 665.5L243 677.5L238.9 682L234.2 686.3L227.4 690.9L220.7 694.2L213.2 696.9L197.8 700.8L191.1 703.8L177.2 711.1L171.2 713L167.4 713.2L164.4 712.7L158.4 710.1L151.7 704.3L146.2 697L143.5 691.8L140.9 685L135.6 667L134.2 660.3L132.8 647.5L133.3 639.3L136.2 625L140.7 610L144.7 600.3L148.8 593.5L154.7 587.3L159.9 583.6L165.7 581.5ZM166.8 598.8L162.2 600.3L157.7 603.8L153.7 608.5L149.7 615.3L146.6 622.8L144.6 630.3L143.1 640L142.7 647.5L144.7 664.8L147.8 674.5L151.3 682L155.4 688.2L159.9 692.7L164.4 695.2L169.7 695.7L174.2 694.5L177.9 692.4L198.9 676.2L213.2 669.8L219.8 665.5L222.7 662.5L224.9 658.8L228.4 650.5L229 646L228.2 641.5L225.6 636.3L221.7 631L217.7 627.4L211.7 623.7L198 617.5L176.4 601.2L171.9 599.2L167.4 598.7Z" clip-path="url(#pd17db7706b)" style="fill: #ff7f0e; fill-opacity: 0.25"/>
<path d="M167.4 598.7L171.9 599.2L176.4 601.2L198 617.5L211.7 623.7L217.7 627.4L221.7 631L225.6 636.3L228.2 641.5L229 646L228.4 650.5L224.9 658.8L222.7 662.5L219.8 665.5L213.2 669.8L198.9 676.2L177.9 692.4L174.2 694.5L169.7 695.7L164.4 695.2L159.9 692.7L155.4 688.2L151.3 682L147.8 674.5L144.7 664.8L142.7 647.5L143.1 640L144.6 630.3L146.6 622.8L149.7 615.3L153.7 608.5L157.7 603.8L162.2 600.3L166.8 598.8ZM165.2 617.5L162.2 619.4L159.9 621.8L155.8 628.8L152.4 640L151.8 644.5L151.9 649L154.4 662.5L156 666.3L158.4 670.4L161.4 674.1L164.4 676.4L167.4 677.4L171.2 676.9L174.2 675.3L177.2 672.7L184.1 664L185.9 660.3L189.1 651.3L189.9 645.3L188.9 640.8L186.7 635.5L182.9 628.8L178.7 623.1L174.9 619.5L171.9 617.7L168.9 616.9L165.9 617.3Z" clip-path="url(#pd17db7706b)" style="fill: #ff7f0e; fill-opacity: 0.5"/>
<path d="M165.9 617.3L168.9 616.9L171.9 617.7L174.9 619.5L178.7 623.1L182.9 628.8L186.7 635.5L188.9 640.8L189.9 645.3L189.1 651.3L185.9 660.3L184.1 664L177.2 672.7L174.2 675.3L171.2 676.9L167.4 677.4L164.4 676.4L161.4 674.1L158.4 670.4L156 666.3L154.4 662.5L151.9 649L151.8 644.5L152.4 640L155.8 628.8L159.9 621.8L162.2 619.4L165.2 617.5Z" clip-path="url(#pd17db7706b)" style="fill: #ff7f0e"/>
</g>
<g id="matplotlib.axis_13">
<g id="xtick_28">
<g id="line2d_88">
<g>
<path d="M0 0L0 -11.4" transform="translate(141.511339 742.6)" style="stroke: #000000; stroke-width: 2.5"/>
</g>
</g>
<g id="line2d_89">
<g>
<path d="M0 0L0 11.4" transform="translate(141.511339 568.8)" style="stroke: #000000; stroke-width: 2.5"/>
</g>
</g>
</g>
<g id="xtick_29">
<g id="line2d_90">
<g>
<path d="M0 0L0 -11.4" transform="translate(191.413125 742.6)" style="stroke: #000000; stroke-width: 2.5"/>
</g>
</g>
<g id="line2d_91">
<g>
<path d="M0 0L0 11.4" transform="translate(191.413125 568.8)" style="stroke: #000000; stroke-width: 2.5"/>
</g>
</g>
</g>
<g id="xtick_30">
<g id="line2d_92">
<g>
<path d="M0 0L0 -11.4" transform="translate(241.314911 742.6)" style="stroke: #000000; stroke-width: 2.5"/>
</g>
</g>
<g id="line2d_93">
<g>
<path d="M0 0L0 11.4" transform="translate(241.314911 568.8)" style="stroke: #000000; stroke-width: 2.5"/>
</g>
</g>
</g>
<g id="xtick_31">
<g id="line2d_94">
<g>
<path d="M0 0L0 -11.4" transform="translate(291.216696 742.6)" style="stroke: #000000; stroke-width: 2.5"/>
</g>
</g>
<g id="line2d_95">
<g>
<path d="M0 0L0 11.4" transform="translate(291.216696 568.8)" style="stroke: #000000; stroke-width: 2.5"/>
</g>
</g>
</g>
</g>
<g id="matplotlib.axis_14">
<g id="ytick_16">
<g id="line2d_96">
<g>
<path d="M0 0L11.4 0" transform="translate(113.4 727.486957)" style="stroke: #000000; stroke-width: 2.5"/>
</g>
</g>
<g id="line2d_97">
<g>
<path d="M0 0L-11.4 0" transform="translate(299.7 727.486957)" style="stroke: #000000; stroke-width: 2.5"/>
</g>
</g>
<g id="text_11">
<text style="font-size: 25px; font-family: 'DejaVu Sans', sans-serif" transform="translate(54.797244 774.34753) rotate(-45)">−1.5</text>
</g>
</g>
<g id="ytick_17">
<g id="line2d_98">
<g>
<path d="M0 0L11.4 0" transform="translate(113.4 689.704348)" style="stroke: #000000; stroke-width: 2.5"/>
</g>
</g>
<g id="line2d_99">
<g>
<path d="M0 0L-11.4 0" transform="translate(299.7 689.704348)" style="stroke: #000000; stroke-width: 2.5"/>
</g>
</g>
<g id="text_12">
<text style="font-size: 25px; font-family: 'DejaVu Sans', sans-serif" transform="translate(54.797244 736.564921) rotate(-45)">−1.0</text>
</g>
</g>
<g id="ytick_18">
<g id="line2d_100">
<g>
<path d="M0 0L11.4 0" transform="translate(113.4 651.921739)" style="stroke: #000000; stroke-width: 2.5"/>
</g>
</g>
<g id="line2d_101">
<g>
<path d="M0 0L-11.4 0" transform="translate(299.7 651.921739)" style="stroke: #000000; stroke-width: 2.5"/>
</g>
</g>
<g id="text_13">
<text style="font-size: 25px; font-family: 'DejaVu Sans', sans-serif" transform="translate(54.797244 698.782312) rotate(-45)">−0.5</text>
</g>
</g>
<g id="ytick_19">
<g id="line2d_102">
<g>
<path d="M0 0L11.4 0" transform="translate(113.4 614.13913)" style="stroke: #000000; stroke-width: 2.5"/>
</g>
</g>
<g id="line2d_103">
<g>
<path d="M0 0L-11.4 0" transform="translate(299.7 614.13913)" style="stroke: #000000; stroke-width: 2.5"/>
</g>
</g>
<g id="text_14">
<text style="font-size: 25px; font-family: 'DejaVu Sans', sans-serif" transform="translate(69.610578 646.186369) rotate(-45)">0.0</text>
</g>
</g>
<g id="ytick_20">
<g id="line2d_104">
<g>
<path d="M0 0L11.4 0" transform="translate(113.4 576.356522)" style="stroke: #000000; stroke-width: 2.5"/>
</g>
</g>
<g id="line2d_105">
<g>
<path d="M0 0L-11.4 0" transform="translate(299.7 576.356522)" style="stroke: #000000; stroke-width: 2.5"/>
</g>
</g>
<g id="text_15">
<text style="font-size: 25px; font-family: 'DejaVu Sans', sans-serif" transform="translate(69.610578 608.40376) rotate(-45)">0.5</text>
</g>
</g>
</g>
<g id="QuadContourSet_8">
<path d="M165.9 581.5L170.4 581.4L175.7 582.8L195.6 592.8L200.4 594.5L211.7 597.2L218.4 599.4L225.2 602.4L231.9 606.5L236.4 610.1L241 614.5L245.4 619.8L248.9 625L251.6 630.3L253.9 636.3L255.3 641.5L255.7 646L255.4 650.5L253.4 659.5L251.2 665.5L247.4 671.5L242.4 678.3L238.2 682.8L233.4 686.9L226.7 691.3L219.9 694.6L213.2 696.9L197.8 700.8L176.4 711.4L172.7 712.7L168.9 713.2L162.9 712.3L156.9 709L150.2 702.6L145.4 695.5L140.6 684.3L135.4 666.3L134.1 659.5L132.8 646.8L133.4 638.5L136.2 625L140.7 610L144.7 600.3L148.8 593.5L154.7 587.3L159.9 583.6L165.9 581.5Z" clip-path="url(#pd17db7706b)" style="fill: none; stroke: #ff7f0e; stroke-width: 4.7"/>
<path d="M167.4 598.7L171.9 599.2L176.4 601.2L198 617.5L211.7 623.7L217.7 627.4L221.7 631L225.6 636.3L228.2 641.5L229 646L228.4 650.5L224.9 658.8L222.7 662.5L219.8 665.5L213.2 669.8L202 674.5L198.2 676.7L176.4 693.3L171.9 695.3L168.2 695.8L163.7 694.9L159.2 692.1L154.7 687.2L150.4 680.5L147.5 673.8L144.7 664.8L142.7 646.8L143.1 640L144.6 630.3L146.6 622.8L149.7 615.3L153.7 608.5L158.4 603.1L162.9 600L167.4 598.7Z" clip-path="url(#pd17db7706b)" style="fill: none; stroke: #ff7f0e; stroke-width: 4.7"/>
<path d="M165.9 617.3L168.9 616.9L171.9 617.7L174.9 619.5L178.7 623.1L182.9 628.8L186.7 635.5L188.9 640.8L189.9 645.3L189.8 648.3L188.9 652L185.6 661L183.6 664.8L179.6 670L175.7 674.1L171.9 676.6L168.9 677.4L165.9 677L162.9 675.4L159.9 672.4L156.8 667.8L154 661L151.8 647.5L151.9 643L152.7 638.5L154.4 632.5L156.5 627.3L160.7 620.9L162.9 618.8L165.9 617.3Z" clip-path="url(#pd17db7706b)" style="fill: none; stroke: #ff7f0e; stroke-width: 4.7"/>
</g>
<g id="patch_33">
<path d="M113.4 742.6L113.4 568.8" style="fill: none; stroke: #000000; stroke-width: 2.5; stroke-linejoin: miter; stroke-linecap: square"/>
</g>
<g id="patch_34">
<path d="M299.7 742.6L299.7 568.8" style="fill: none; stroke: #000000; stroke-width: 2.5; stroke-linejoin: miter; stroke-linecap: square"/>
</g>
<g id="patch_35">
<path d="M113.4 742.6L299.7 742.6" style="fill: none; stroke: #000000; stroke-width: 2.5; stroke-linejoin: miter; stroke-linecap: square"/>
</g>
<g id="patch_36">
<path d="M113.4 568.8L299.7 568.8" style="fill: none; stroke: #000000; stroke-width: 2.5; stroke-linejoin: miter; stroke-linecap: square"/>
</g>
</g>
<g id="axes_8">
<g id="patch_37">
<path d="M309.3 742.6L495.6 742.6L495.6 568.8L309.3 568.8Z" style="fill: #ffffff"/>
</g>
<g id="QuadContourSet_9">
<path d="M424.1 589L447.3 589.9L469.8 589.8L484.8 590.7L487.8 591.3L490.1 592.5L491.7 594.3L493.4 597.3L495.6 604L497.3 613L498.7 625L499.6 639.3L499.2 662.5L497.9 676.8L496.4 686.5L493.5 697L491.8 700L490.1 702L487.8 703.2L485.6 703.7L472.8 704.6L447.3 704.6L426.3 705.5L398.6 705L371.6 702.8L364.8 700.3L358.5 695.5L353.2 688.8L348.1 679L342.4 662.5L340.5 649.8L340.6 642.3L342.7 631L346.6 619L351 609.3L356.6 601.1L360.3 597.3L364.1 594.6L368.6 592.5L372.3 591.6L398.6 589.5L423.9 589ZM418.4 608.5L398.6 608.9L374.6 611.5L370.8 612.5L367.8 613.9L362.6 618.5L359 623.5L356 630.3L353.7 638.5L352.9 646L353.3 652L355.5 663.3L357.8 668.5L361.6 674.5L366.3 679.5L371.6 682.2L376.1 683.2L397.1 685.5L428.6 686.5L446.6 685.1L464.6 685.3L474.3 685L484.8 683.8L488.6 682.5L490.1 681L491.6 678.4L494 670L495.1 663.3L495.8 653.5L495.8 638.5L494.9 629.5L493.5 622L491.9 616.8L490.1 613.4L488.6 612L486.3 611L474.3 609.5L446.6 609.4L429.3 608.1L418.8 608.5Z" clip-path="url(#pf4d4a8c978)" style="fill: #ff7f0e; fill-opacity: 0.25"/>
<path d="M418.8 608.5L429.3 608.1L446.6 609.4L474.3 609.5L486.3 611L488.6 612L490.1 613.4L491.9 616.8L493.5 622L494.9 629.5L495.8 638.5L495.8 653.5L495.1 663.3L494 670L491.6 678.4L490.1 681L488.6 682.5L484.8 683.8L474.3 685L464.6 685.3L446.6 685.1L428.6 686.5L397.1 685.5L376.1 683.2L371.6 682.2L366.3 679.5L361.6 674.5L357.8 668.5L355.5 663.3L353.3 652L352.9 646L353.7 638.5L356 630.3L359 623.5L362.6 618.5L367.8 613.9L370.8 612.5L374.6 611.5L398.6 608.9L418.4 608.5ZM419.3 626.5L397.1 627.4L385.1 630.3L376.1 631.6L373.1 632.6L370.8 634L368.5 636.3L366.3 639.9L365.2 643L364.9 646.8L365.5 650.5L367.1 654.4L370 659.5L372.3 661.8L376.8 663.5L385.1 664.6L395.6 666.9L401.6 667.5L413.6 667.5L428.6 668.5L446.6 666.6L465.3 666.9L475.1 666.3L485.6 664.2L487.8 662.8L489.3 660.2L491.3 651.3L491.5 643.8L490.1 636.1L488.6 633L487.1 631.5L484.8 630.4L481.1 629.4L470.6 627.9L446.6 628.1L429.3 625.9L419.6 626.5Z" clip-path="url(#pf4d4a8c978)" style="fill: #ff7f0e; fill-opacity: 0.5"/>
<path d="M419.6 626.5L429.3 625.9L446.6 628.1L470.6 627.9L481.1 629.4L484.8 630.4L487.1 631.5L488.6 633L490.1 636.1L491.5 643.8L491.3 651.3L489.3 660.2L487.8 662.8L485.6 664.2L475.1 666.3L465.3 666.9L446.6 666.6L428.6 668.5L413.6 667.5L401.6 667.5L395.6 666.9L385.1 664.6L376.8 663.5L372.3 661.8L370 659.5L367.1 654.4L365.5 650.5L364.9 646.8L365.2 643L366.3 639.9L368.5 636.3L370.8 634L373.1 632.6L376.1 631.6L385.1 630.3L397.1 627.4L419.3 626.5Z" clip-path="url(#pf4d4a8c978)" style="fill: #ff7f0e"/>
</g>
<g id="matplotlib.axis_15">
<g id="xtick_32">
<g id="line2d_106">
<g>
<path d="M0 0L0 -11.4" transform="translate(325.115629 742.6)" style="stroke: #000000; stroke-width: 2.5"/>
</g>
</g>
<g id="line2d_107">
<g>
<path d="M0 0L0 11.4" transform="translate(325.115629 568.8)" style="stroke: #000000; stroke-width: 2.5"/>
</g>
</g>
</g>
<g id="xtick_33">
<g id="line2d_108">
<g>
<path d="M0 0L0 -11.4" transform="translate(365.668524 742.6)" style="stroke: #000000; stroke-width: 2.5"/>
</g>
</g>
<g id="line2d_109">
<g>
<path d="M0 0L0 11.4" transform="translate(365.668524 568.8)" style="stroke: #000000; stroke-width: 2.5"/>
</g>
</g>
</g>
<g id="xtick_34">
<g id="line2d_110">
<g>
<path d="M0 0L0 -11.4" transform="translate(406.221419 742.6)" style="stroke: #000000; stroke-width: 2.5"/>
</g>
</g>
<g id="line2d_111">
<g>
<path d="M0 0L0 11.4" transform="translate(406.221419 568.8)" style="stroke: #000000; stroke-width: 2.5"/>
</g>
</g>
</g>
<g id="xtick_35">
<g id="line2d_112">
<g>
<path d="M0 0L0 -11.4" transform="translate(446.774314 742.6)" style="stroke: #000000; stroke-width: 2.5"/>
</g>
</g>
<g id="line2d_113">
<g>
<path d="M0 0L0 11.4" transform="translate(446.774314 568.8)" style="stroke: #000000; stroke-width: 2.5"/>
</g>
</g>
</g>
<g id="xtick_36">
<g id="line2d_114">
<g>
<path d="M0 0L0 -11.4" transform="translate(487.327209 742.6)" style="stroke: #000000; stroke-width: 2.5"/>
</g>
</g>
<g id="line2d_115">
<g>
<path d="M0 0L0 11.4" transform="translate(487.327209 568.8)" style="stroke: #000000; stroke-width: 2.5"/>
</g>
</g>
</g>
</g>
<g id="matplotlib.axis_16">
<g id="ytick_21">
<g id="line2d_116">
<g>
<path d="M0 0L11.4 0" transform="translate(309.3 727.486957)" style="stroke: #000000; stroke-width: 2.5"/>
</g>
</g>
<g id="line2d_117">
<g>
<path d="M0 0L-11.4 0" transform="translate(495.6 727.486957)" style="stroke: #000000; stroke-width: 2.5"/>
</g>
</g>
</g>
<g id="ytick_22">
<g id="line2d_118">
<g>
<path d="M0 0L11.4 0" transform="translate(309.3 689.704348)" style="stroke: #000000; stroke-width: 2.5"/>
</g>
</g>
<g id="line2d_119">
<g>
<path d="M0 0L-11.4 0" transform="translate(495.6 689.704348)" style="stroke: #000000; stroke-width: 2.5"/>
</g>
</g>
</g>
<g id="ytick_23">
<g id="line2d_120">
<g>
<path d="M0 0L11.4 0" transform="translate(309.3 651.921739)" style="stroke: #000000; stroke-width: 2.5"/>
</g>
</g>
<g id="line2d_121">
<g>
<path d="M0 0L-11.4 0" transform="translate(495.6 651.921739)" style="stroke: #000000; stroke-width: 2.5"/>
</g>
</g>
</g>
<g id="ytick_24">
<g id="line2d_122">
<g>
<path d="M0 0L11.4 0" transform="translate(309.3 614.13913)" style="stroke: #000000; stroke-width: 2.5"/>
</g>
</g>
<g id="line2d_123">
<g>
<path d="M0 0L-11.4 0" transform="translate(495.6 614.13913)" style="stroke: #000000; stroke-width: 2.5"/>
</g>
</g>
</g>
<g id="ytick_25">
<g id="line2d_124">
<g>
<path d="M0 0L11.4 0" transform="translate(309.3 576.356522)" style="stroke: #000000; stroke-width: 2.5"/>
</g>
</g>
<g id="line2d_125">
<g>
<path d="M0 0L-11.4 0" transform="translate(495.6 576.356522)" style="stroke: #000000; stroke-width: 2.5"/>
</g>
</g>
</g>
</g>
<g id="QuadContourSet_10">
<path d="M424.1 589L447.3 589.9L469.8 589.8L482.6 590.5L488.6 591.6L490.8 593.1L492.3 595.1L494 598.8L495.6 604L497.9 617.5L499.4 635.5L499.6 652L498.8 668.5L496.4 686.5L493.5 697L491.6 700.5L489.3 702.6L485.6 703.7L475.8 704.5L446.6 704.7L428.6 705.5L399.3 705L374.6 703.3L367.8 701.7L361.8 698.4L356.6 693.4L351.8 686.5L347.2 676.8L342.7 664L340.7 651.3L340.4 645.3L341.8 634.8L344.9 623.5L349.5 612.3L354.8 603.3L358.7 598.8L362.6 595.6L367.1 593.1L371.6 591.7L398.6 589.5L424.1 589Z" clip-path="url(#pf4d4a8c978)" style="fill: none; stroke: #ff7f0e; stroke-width: 4.7"/>
<path d="M418.8 608.5L429.3 608.1L446.6 609.4L472.8 609.4L484.8 610.7L487.1 611.2L489.3 612.6L491.9 616.8L494 624.3L495.5 635.5L496 646L495.4 660.3L494.3 668.5L491.9 677.5L489.3 681.9L487.1 683.2L484.8 683.8L470.6 685.2L446.6 685.1L428.6 686.5L414.3 685.7L400.8 685.7L373.1 682.7L368.6 680.9L364.1 677.5L360.1 672.3L356.1 664.8L354.6 659.5L352.9 647.5L353.3 640.8L355.5 631.8L358.2 625L361.8 619.4L367.1 614.4L370.1 612.8L373.8 611.6L398.6 608.9L418.8 608.5Z" clip-path="url(#pf4d4a8c978)" style="fill: none; stroke: #ff7f0e; stroke-width: 4.7"/>
<path d="M419.6 626.5L429.3 625.9L446.6 628.1L469.8 627.9L479.6 629.1L486.3 631L488.6 633L489.9 635.5L491.5 643.8L491 652.8L489.9 658L488.6 661.8L487.1 663.4L484.8 664.5L475.1 666.3L465.3 666.9L446.6 666.6L428.6 668.5L414.3 667.5L398.6 667.3L385.1 664.6L376.8 663.5L373.1 662.2L370.8 660.5L368.6 657.3L366 652L364.9 647.5L365.1 643.8L366.2 640L368.5 636.3L370.8 634L373.1 632.6L376.1 631.6L385.1 630.3L397.1 627.4L419.6 626.5Z" clip-path="url(#pf4d4a8c978)" style="fill: none; stroke: #ff7f0e; stroke-width: 4.7"/>
</g>
<g id="patch_38">
<path d="M309.3 742.6L309.3 568.8" style="fill: none; stroke: #000000; stroke-width: 2.5; stroke-linejoin: miter; stroke-linecap: square"/>
</g>
<g id="patch_39">
<path d="M495.6 742.6L495.6 568.8" style="fill: none; stroke: #000000; stroke-width: 2.5; stroke-linejoin: miter; stroke-linecap: square"/>
</g>
<g id="patch_40">
<path d="M309.3 742.6L495.6 742.6" style="fill: none; stroke: #000000; stroke-width: 2.5; stroke-linejoin: miter; stroke-linecap: square"/>
</g>
<g id="patch_41">
<path d="M309.3 568.8L495.6 568.8" style="fill: none; stroke: #000000; stroke-width: 2.5; stroke-linejoin: miter; stroke-linecap: square"/>
</g>
</g>
<g id="axes_9">
<g id="patch_42">
<path d="M505.2 742.6L691.5 742.6L691.5 568.8L505.2 568.8Z" style="fill: #ffffff"/>
</g>
<g id="QuadContourSet_11">
<path d="M581.7 585.2L589.2 584.7L596 584.9L602.7 585.6L609.5 587L620 590.1L633.5 598.2L639.1 602.5L643.8 607L648.3 612.3L651.9 617.5L654.6 622.8L656.4 628L657.3 633.3L657.4 639.3L656.6 643.8L654.9 648.3L645.8 662.5L632.8 676L620.7 687.4L607.2 696.1L596.7 701.3L584.7 705.5L572 708L557 708.7L530 706.8L521.7 707.1L516.5 706.3L513.5 704.6L511.7 702.3L509.9 697.8L508.5 691.8L507.1 682.8L505.7 663.3L506.1 642.3L507.9 628L510.8 616L514.2 609.4L518.7 605L522.5 602.8L557 590.8L569.7 587.2L581 585.3ZM580.3 603.3L570.5 605L560 608.3L548 613.3L528.5 622.6L521.7 625.3L517.8 628.8L514.3 634L512.1 640L511 646.8L510.7 661L511.5 669.3L513.7 677.5L515 679.9L517.2 682.2L521.7 684.4L529.2 684.8L551.7 689.4L562.2 690.4L572 690.1L581 688.5L590 685.5L599 680.9L607.2 675.1L617.7 666.4L620.7 663.1L628 649.8L630.1 643L629.9 635.5L627.8 628L623.4 619.8L618.5 614.1L608.7 608L601.2 605L591.5 603.2L581 603.2Z" clip-path="url(#pb583dfc140)" style="fill: #ff7f0e; fill-opacity: 0.25"/>
<path d="M581 603.2L591.5 603.2L601.2 605L608.7 608L618.5 614.1L623.4 619.8L627.8 628L629.9 635.5L630.1 643L628 649.8L620.7 663.1L617.7 666.4L607.2 675.1L599 680.9L590 685.5L581 688.5L572 690.1L562.2 690.4L551.7 689.4L529.2 684.8L521.7 684.4L517.2 682.2L515 679.9L513.7 677.5L511.5 669.3L510.7 661L511 646.8L512.1 640L514.3 634L517.8 628.8L521.7 625.3L528.5 622.6L548 613.3L560 608.3L570.5 605L580.3 603.3ZM578.1 619.8L571.2 621.1L564.5 623.3L557.7 626.3L551 630.1L542.7 635.8L535.6 641.5L532.5 645.3L531.1 649L531.6 652.8L534.7 660.3L537.2 663.3L540.4 665.5L548.7 669.4L557.7 672.2L566 673.5L573.5 673.4L579.5 672.4L586.2 670.3L592.2 667.6L597.7 664L601.4 660.3L607.9 651.3L609.9 647.5L610.7 643.8L610.4 639.3L608.2 633.3L605.3 628.8L602 625.6L596.7 622.4L591.5 620.6L585.5 619.6L578.7 619.7Z" clip-path="url(#pb583dfc140)" style="fill: #ff7f0e; fill-opacity: 0.5"/>
<path d="M578.7 619.7L585.5 619.6L591.5 620.6L596.7 622.4L602 625.6L605.3 628.8L608.2 633.3L610.4 639.3L610.7 643.8L609.9 647.5L607.9 651.3L601.4 660.3L597.7 664L592.2 667.6L586.2 670.3L579.5 672.4L573.5 673.4L566 673.5L557.7 672.2L548.7 669.4L540.4 665.5L537.2 663.3L534.7 660.3L531.6 652.8L531.1 649L532.5 645.3L535.6 641.5L542.7 635.8L551 630.1L557.7 626.3L564.5 623.3L571.2 621.1L578.1 619.8Z" clip-path="url(#pb583dfc140)" style="fill: #ff7f0e"/>
</g>
<g id="matplotlib.axis_17">
<g id="xtick_37">
<g id="line2d_126">
<g>
<path d="M0 0L0 -11.4" transform="translate(513.387313 742.6)" style="stroke: #000000; stroke-width: 2.5"/>
</g>
</g>
<g id="line2d_127">
<g>
<path d="M0 0L0 11.4" transform="translate(513.387313 568.8)" style="stroke: #000000; stroke-width: 2.5"/>
</g>
</g>
</g>
<g id="xtick_38">
<g id="line2d_128">
<g>
<path d="M0 0L0 -11.4" transform="translate(552.006716 742.6)" style="stroke: #000000; stroke-width: 2.5"/>
</g>
</g>
<g id="line2d_129">
<g>
<path d="M0 0L0 11.4" transform="translate(552.006716 568.8)" style="stroke: #000000; stroke-width: 2.5"/>
</g>
</g>
</g>
<g id="xtick_39">
<g id="line2d_130">
<g>
<path d="M0 0L0 -11.4" transform="translate(590.626119 742.6)" style="stroke: #000000; stroke-width: 2.5"/>
</g>
</g>
<g id="line2d_131">
<g>
<path d="M0 0L0 11.4" transform="translate(590.626119 568.8)" style="stroke: #000000; stroke-width: 2.5"/>
</g>
</g>
</g>
<g id="xtick_40">
<g id="line2d_132">
<g>
<path d="M0 0L0 -11.4" transform="translate(629.245522 742.6)" style="stroke: #000000; stroke-width: 2.5"/>
</g>
</g>
<g id="line2d_133">
<g>
<path d="M0 0L0 11.4" transform="translate(629.245522 568.8)" style="stroke: #000000; stroke-width: 2.5"/>
</g>
</g>
</g>
<g id="xtick_41">
<g id="line2d_134">
<g>
<path d="M0 0L0 -11.4" transform="translate(667.864925 742.6)" style="stroke: #000000; stroke-width: 2.5"/>
</g>
</g>
<g id="line2d_135">
<g>
<path d="M0 0L0 11.4" transform="translate(667.864925 568.8)" style="stroke: #000000; stroke-width: 2.5"/>
</g>
</g>
</g>
</g>
<g id="matplotlib.axis_18">
<g id="ytick_26">
<g id="line2d_136">
<g>
<path d="M0 0L11.4 0" transform="translate(505.2 727.486957)" style="stroke: #000000; stroke-width: 2.5"/>
</g>
</g>
<g id="line2d_137">
<g>
<path d="M0 0L-11.4 0" transform="translate(691.5 727.486957)" style="stroke: #000000; stroke-width: 2.5"/>
</g>
</g>
</g>
<g id="ytick_27">
<g id="line2d_138">
<g>
<path d="M0 0L11.4 0" transform="translate(505.2 689.704348)" style="stroke: #000000; stroke-width: 2.5"/>
</g>
</g>
<g id="line2d_139">
<g>
<path d="M0 0L-11.4 0" transform="translate(691.5 689.704348)" style="stroke: #000000; stroke-width: 2.5"/>
</g>
</g>
</g>
<g id="ytick_28">
<g id="line2d_140">
<g>
<path d="M0 0L11.4 0" transform="translate(505.2 651.921739)" style="stroke: #000000; stroke-width: 2.5"/>
</g>
</g>
<g id="line2d_141">
<g>
<path d="M0 0L-11.4 0" transform="translate(691.5 651.921739)" style="stroke: #000000; stroke-width: 2.5"/>
</g>
</g>
</g>
<g id="ytick_29">
<g id="line2d_142">
<g>
<path d="M0 0L11.4 0" transform="translate(505.2 614.13913)" style="stroke: #000000; stroke-width: 2.5"/>
</g>
</g>
<g id="line2d_143">
<g>
<path d="M0 0L-11.4 0" transform="translate(691.5 614.13913)" style="stroke: #000000; stroke-width: 2.5"/>
</g>
</g>
</g>
<g id="ytick_30">
<g id="line2d_144">
<g>
<path d="M0 0L11.4 0" transform="translate(505.2 576.356522)" style="stroke: #000000; stroke-width: 2.5"/>
</g>
</g>
<g id="line2d_145">
<g>
<path d="M0 0L-11.4 0" transform="translate(691.5 576.356522)" style="stroke: #000000; stroke-width: 2.5"/>
</g>
</g>
</g>
</g>
<g id="QuadContourSet_12">
<path d="M581.7 585.2L590.7 584.7L599 585.1L607.2 586.5L617.7 589.3L621.5 590.9L630.5 596.2L640.2 603.6L645.9 609.3L650.5 615.3L653.9 621.3L656.2 627.3L657.3 633.3L657.3 640L656.2 645.3L654.1 649.8L647.4 660.3L643.9 664.8L622.2 686.1L618.5 689.1L608.7 695.2L595.2 702L588.5 704.4L581 706.5L573.5 707.8L565.2 708.6L552.5 708.5L529.2 706.7L521.7 707.1L515 705.7L512.7 703.8L511.4 701.5L508.6 692.5L506.9 681.3L505.7 663.3L505.9 647.5L507.1 633.3L509.5 620.5L512.7 611.8L516.5 606.9L519.5 604.5L522.5 602.8L560.7 589.6L571.2 586.9L581.7 585.2Z" clip-path="url(#pb583dfc140)" style="fill: none; stroke: #ff7f0e; stroke-width: 4.7"/>
<path d="M581 603.2L587.7 603L593.7 603.4L599.7 604.6L605 606.3L610.2 608.8L617.7 613.5L620.7 616.2L623.8 620.5L626.8 625.8L628.9 631L630.1 637L630.2 642.3L629.5 646L628 649.8L622 661L620 664L606.5 675.7L597.5 681.8L587 686.7L576.5 689.5L566 690.4L554 689.7L545 688.2L529.2 684.8L521.7 684.4L519.5 683.5L516.5 681.6L515 679.9L513.7 677.5L511.8 670.8L510.8 663.3L510.7 652L511.2 645.3L512.3 639.3L514.2 634.2L517.2 629.5L520.2 626.4L522.5 624.9L529.2 622.3L554.7 610.4L569 605.4L581 603.2Z" clip-path="url(#pb583dfc140)" style="fill: none; stroke: #ff7f0e; stroke-width: 4.7"/>
<path d="M578.7 619.7L584 619.5L588.5 620L596.7 622.4L600.5 624.5L603.5 626.9L605.9 629.5L608.2 633.3L610.5 640L610.8 643L610.3 646L607.4 652L599.7 662.2L593.7 666.7L585.5 670.6L577.2 672.9L569 673.7L560.7 672.9L551.7 670.5L541.8 666.3L536.4 662.5L533.9 658.8L531.1 650.5L531.7 646.8L534.9 642.3L545.7 633.6L557 626.6L568.2 621.9L578.7 619.7Z" clip-path="url(#pb583dfc140)" style="fill: none; stroke: #ff7f0e; stroke-width: 4.7"/>
</g>
<g id="patch_43">
<path d="M505.2 742.6L505.2 568.8" style="fill: none; stroke: #000000; stroke-width: 2.5; stroke-linejoin: miter; stroke-linecap: square"/>
</g>
<g id="patch_44">
<path d="M691.5 742.6L691.5 568.8" style="fill: none; stroke: #000000; stroke-width: 2.5; stroke-linejoin: miter; stroke-linecap: square"/>
</g>
<g id="patch_45">
<path d="M505.2 742.6L691.5 742.6" style="fill: none; stroke: #000000; stroke-width: 2.5; stroke-linejoin: miter; stroke-linecap: square"/>
</g>
<g id="patch_46">
<path d="M505.2 568.8L691.5 568.8" style="fill: none; stroke: #000000; stroke-width: 2.5; stroke-linejoin: miter; stroke-linecap: square"/>
</g>
</g>
<g id="axes_10">
<g id="patch_47">
<path d="M701.1 742.6L887.4 742.6L887.4 568.8L701.1 568.8Z" style="fill: #ffffff"/>
</g>
<g id="matplotlib.axis_19">
<g id="xtick_42">
<g id="line2d_146">
<g>
<path d="M0 0L0 -11.4" transform="translate(717.3 742.6)" style="stroke: #000000; stroke-width: 2.5"/>
</g>
</g>
<g id="line2d_147">
<g>
<path d="M0 0L0 11.4" transform="translate(717.3 568.8)" style="stroke: #000000; stroke-width: 2.5"/>
</g>
</g>
</g>
<g id="xtick_43">
<g id="line2d_148">
<g>
<path d="M0 0L0 -11.4" transform="translate(757.8 742.6)" style="stroke: #000000; stroke-width: 2.5"/>
</g>
</g>
<g id="line2d_149">
<g>
<path d="M0 0L0 11.4" transform="translate(757.8 568.8)" style="stroke: #000000; stroke-width: 2.5"/>
</g>
</g>
</g>
<g id="xtick_44">
<g id="line2d_150">
<g>
<path d="M0 0L0 -11.4" transform="translate(798.3 742.6)" style="stroke: #000000; stroke-width: 2.5"/>
</g>
</g>
<g id="line2d_151">
<g>
<path d="M0 0L0 11.4" transform="translate(798.3 568.8)" style="stroke: #000000; stroke-width: 2.5"/>
</g>
</g>
</g>
<g id="xtick_45">
<g id="line2d_152">
<g>
<path d="M0 0L0 -11.4" transform="translate(838.8 742.6)" style="stroke: #000000; stroke-width: 2.5"/>
</g>
</g>
<g id="line2d_153">
<g>
<path d="M0 0L0 11.4" transform="translate(838.8 568.8)" style="stroke: #000000; stroke-width: 2.5"/>
</g>
</g>
</g>
<g id="xtick_46">
<g id="line2d_154">
<g>
<path d="M0 0L0 -11.4" transform="translate(879.3 742.6)" style="stroke: #000000; stroke-width: 2.5"/>
</g>
</g>
<g id="line2d_155">
<g>
<path d="M0 0L0 11.4" transform="translate(879.3 568.8)" style="stroke: #000000; stroke-width: 2.5"/>
</g>
</g>
</g>
</g>
<g id="matplotlib.axis_20"/>
<g id="line2d_156">
<path d="M707.2 742.4L737.6 742.4L737.6 740.9L747.7 740.9L747.7 738.5L753.5 738.5L753.5 735.6L759.2 735.6L759.2 729.1L765 729.1L765 717.6L770.8 717.6L770.8 700.9L776.6 700.9L776.6 682.2L782.4 682.2L782.4 647.5L788.2 647.5L788.2 627.2L793.9 627.2L793.9 607L799.7 607L799.7 584.6L806.2 584.6L806.2 591.8L811.3 591.8L811.3 618.6L817.1 618.6L817.1 644.6L822.8 644.6L822.8 673.5L828.6 673.5L828.6 695.9L834.4 695.9L834.4 714.7L840.2 714.7L840.2 727L846 727L846 733.5L851.7 733.5L851.7 737.8L857.5 737.8L857.5 739.2L863.3 739.2L863.3 741.8L880.6 741.8" clip-path="url(#p5c2c47b434)" style="fill: none; stroke: #ff7f0e; stroke-width: 4.7; stroke-linecap: square"/>
</g>
<g id="patch_48">
<path d="M701.1 742.6L701.1 568.8" style="fill: none; stroke: #000000; stroke-width: 2.5; stroke-linejoin: miter; stroke-linecap: square"/>
</g>
<g id="patch_49">
<path d="M887.4 742.6L887.4 568.8" style="fill: none; stroke: #000000; stroke-width: 2.5; stroke-linejoin: miter; stroke-linecap: square"/>
</g>
<g id="patch_50">
<path d="M701.1 742.6L887.4 742.6" style="fill: none; stroke: #000000; stroke-width: 2.5; stroke-linejoin: miter; stroke-linecap: square"/>
</g>
<g id="patch_51">
<path d="M701.1 568.8L887.4 568.8" style="fill: none; stroke: #000000; stroke-width: 2.5; stroke-linejoin: miter; stroke-linecap: square"/>
</g>
</g>
<g id="axes_11">
<g id="patch_52">
<path d="M113.4 925.1L299.7 925.1L299.7 751.3L113.4 751.3Z" style="fill: #ffffff"/>
</g>
<g id="QuadContourSet_13">
<path d="M164.4 779L169.7 778.7L174.9 779.6L198.2 788.8L212.4 791.9L218.4 793.6L224.4 796.1L229.7 799L234.9 802.9L239.1 806.8L243.8 812L247.5 817.3L250.4 822.5L252.5 827.8L253.8 833L254.3 837.5L253.9 848.8L252.9 853.3L251.3 857.8L247.9 863.8L243.8 869.8L240.5 873.5L236.4 877.1L229.7 881.2L222.2 884.4L213.9 886.7L197.2 890L177.2 898.1L172.7 899.4L165.9 899.7L159.9 897.9L152.4 893.1L146.2 887L142.4 881L139.2 872.8L135 857L133.8 848L133.6 836.8L134.8 826.3L138.5 811.3L143.1 797.8L146.8 791L151.7 785.8L157.7 781.6L164.4 779ZM164.6 793.3L159.9 795.6L155.4 800L151.3 806L147.5 814.3L145.2 821.8L143.7 830.8L143.2 840.5L143.6 851L144.8 858.5L147.5 867.5L150.6 874.3L153.8 878.8L158.4 883L162.9 885.4L167.4 886.3L172.7 885.8L179.4 882.9L198.9 869.9L212.4 863.7L219.2 859.3L222.8 855.5L225.4 851L226.9 845L227.1 839L226.2 833.8L224.3 829.3L221.1 824.8L216.9 821L211.7 817.7L198.2 811.5L180.9 798L176.4 795L170.4 792.9L165.2 793.1Z" clip-path="url(#pd31951fc2e)" style="fill: #ff7f0e; fill-opacity: 0.25"/>
<path d="M165.2 793.1L170.4 792.9L176.4 795L180.9 798L198.2 811.5L211.7 817.7L216.9 821L221.1 824.8L224.3 829.3L226.2 833.8L227.1 839L226.9 845L225.4 851L222.8 855.5L219.2 859.3L212.4 863.7L198.9 869.9L179.4 882.9L172.7 885.8L167.4 886.3L162.9 885.4L158.4 883L153.8 878.8L150.6 874.3L147.5 867.5L144.8 858.5L143.6 851L143.2 840.5L143.7 830.8L145.2 821.8L147.5 814.3L151.3 806L155.4 800L159.9 795.6L164.6 793.3ZM166.4 810.5L163.7 811.8L160.7 814.3L157.9 818L155.4 823.3L153.7 828.5L152.7 833.8L152.5 845.8L153.2 851.8L154.4 856.3L156.3 860.8L159.2 865.6L161.4 868.3L164.4 870.5L167.4 871.5L170.4 871.3L173.4 870L177.2 866.9L181.6 861.5L185.1 856.3L186.8 852.5L187.9 848.8L188.7 843.5L188.8 839L188 833.8L186.5 829.3L183.4 823.3L179.9 818L176.4 814.2L173.4 811.8L169.7 810.4L166.7 810.5Z" clip-path="url(#pd31951fc2e)" style="fill: #ff7f0e; fill-opacity: 0.5"/>
<path d="M166.7 810.5L169.7 810.4L173.4 811.8L176.4 814.2L179.9 818L183.4 823.3L186.5 829.3L188 833.8L188.8 839L188.7 843.5L187.9 848.8L186.8 852.5L185.1 856.3L181.6 861.5L177.2 866.9L173.4 870L170.4 871.3L167.4 871.5L164.4 870.5L161.4 868.3L159.2 865.6L156.3 860.8L154.4 856.3L153.2 851.8L152.5 845.8L152.7 833.8L153.7 828.5L155.4 823.3L157.9 818L160.7 814.3L163.7 811.8L166.4 810.5Z" clip-path="url(#pd31951fc2e)" style="fill: #ff7f0e"/>
</g>
<g id="matplotlib.axis_21">
<g id="xtick_47">
<g id="line2d_157">
<g>
<path d="M0 0L0 -11.4" transform="translate(141.511339 925.1)" style="stroke: #000000; stroke-width: 2.5"/>
</g>
</g>
<g id="line2d_158">
<g>
<path d="M0 0L0 11.4" transform="translate(141.511339 751.3)" style="stroke: #000000; stroke-width: 2.5"/>
</g>
</g>
</g>
<g id="xtick_48">
<g id="line2d_159">
<g>
<path d="M0 0L0 -11.4" transform="translate(191.413125 925.1)" style="stroke: #000000; stroke-width: 2.5"/>
</g>
</g>
<g id="line2d_160">
<g>
<path d="M0 0L0 11.4" transform="translate(191.413125 751.3)" style="stroke: #000000; stroke-width: 2.5"/>
</g>
</g>
</g>
<g id="xtick_49">
<g id="line2d_161">
<g>
<path d="M0 0L0 -11.4" transform="translate(241.314911 925.1)" style="stroke: #000000; stroke-width: 2.5"/>
</g>
</g>
<g id="line2d_162">
<g>
<path d="M0 0L0 11.4" transform="translate(241.314911 751.3)" style="stroke: #000000; stroke-width: 2.5"/>
</g>
</g>
</g>
<g id="xtick_50">
<g id="line2d_163">
<g>
<path d="M0 0L0 -11.4" transform="translate(291.216696 925.1)" style="stroke: #000000; stroke-width: 2.5"/>
</g>
</g>
<g id="line2d_164">
<g>
<path d="M0 0L0 11.4" transform="translate(291.216696 751.3)" style="stroke: #000000; stroke-width: 2.5"/>
</g>
</g>
</g>
</g>
<g id="matplotlib.axis_22">
<g id="ytick_31">
<g id="line2d_165">
<g>
<path d="M0 0L11.4 0" transform="translate(113.4 917.18561)" style="stroke: #000000; stroke-width: 2.5"/>
</g>
</g>
<g id="line2d_166">
<g>
<path d="M0 0L-11.4 0" transform="translate(299.7 917.18561)" style="stroke: #000000; stroke-width: 2.5"/>
</g>
</g>
<g id="text_16">
<text style="font-size: 25px; font-family: 'DejaVu Sans', sans-serif" transform="translate(63.981345 954.862082) rotate(-45)">165</text>
</g>
</g>
<g id="ytick_32">
<g id="line2d_167">
<g>
<path d="M0 0L11.4 0" transform="translate(113.4 869.699271)" style="stroke: #000000; stroke-width: 2.5"/>
</g>
</g>
<g id="line2d_168">
<g>
<path d="M0 0L-11.4 0" transform="translate(299.7 869.699271)" style="stroke: #000000; stroke-width: 2.5"/>
</g>
</g>
<g id="text_17">
<text style="font-size: 25px; font-family: 'DejaVu Sans', sans-serif" transform="translate(63.981345 907.375743) rotate(-45)">180</text>
</g>
</g>
<g id="ytick_33">
<g id="line2d_169">
<g>
<path d="M0 0L11.4 0" transform="translate(113.4 822.212933)" style="stroke: #000000; stroke-width: 2.5"/>
</g>
</g>
<g id="line2d_170">
<g>
<path d="M0 0L-11.4 0" transform="translate(299.7 822.212933)" style="stroke: #000000; stroke-width: 2.5"/>
</g>
</g>
<g id="text_18">
<text style="font-size: 25px; font-family: 'DejaVu Sans', sans-serif" transform="translate(63.981345 859.889404) rotate(-45)">195</text>
</g>
</g>
<g id="ytick_34">
<g id="line2d_171">
<g>
<path d="M0 0L11.4 0" transform="translate(113.4 774.726594)" style="stroke: #000000; stroke-width: 2.5"/>
</g>
</g>
<g id="line2d_172">
<g>
<path d="M0 0L-11.4 0" transform="translate(299.7 774.726594)" style="stroke: #000000; stroke-width: 2.5"/>
</g>
</g>
<g id="text_19">
<text style="font-size: 25px; font-family: 'DejaVu Sans', sans-serif" transform="translate(63.981345 812.403065) rotate(-45)">210</text>
</g>
</g>
</g>
<g id="QuadContourSet_14">
<path d="M164.4 779L169.7 778.7L174.9 779.6L197.4 788.5L213.9 792.2L222.2 795.1L228.9 798.5L234.9 802.9L240.6 808.3L245.5 814.3L250.4 822.5L253.3 830.8L254.4 839L253.9 848.8L251.9 856.3L247.9 863.8L241.9 872L235.7 877.6L229.7 881.2L222.2 884.4L213.9 886.7L197.2 890L177.2 898.1L170.4 899.7L164.4 899.4L158.4 897.2L150.9 891.9L145.1 885.5L142.4 881L139.9 875L134.7 855.5L133.8 848.8L133.5 840.5L133.9 833L134.8 826.3L137 816.5L140.8 803.8L143.1 797.8L145.8 792.5L149.3 788L153.9 784L159.2 780.8L164.4 779Z" clip-path="url(#pd31951fc2e)" style="fill: none; stroke: #ff7f0e; stroke-width: 4.7"/>
<path d="M165.2 793.1L170.4 792.9L176.4 795L180.9 798L198.2 811.5L211.7 817.7L216.9 821L221.1 824.8L224.3 829.3L226.4 834.5L227.2 839.8L226.7 846.5L225.1 851.8L222.2 856.3L218.4 859.9L211.7 864.1L198.9 869.9L178.7 883.3L174.2 885.3L168.9 886.3L164.4 885.8L159.2 883.5L154.7 879.7L151.1 875L148.1 869L145.4 860.8L143.9 853.3L143.3 845.8L143.2 836.8L144 828.5L145.8 819.5L148.4 812L152.2 804.5L156.2 799.1L160.7 795.1L165.2 793.1Z" clip-path="url(#pd31951fc2e)" style="fill: none; stroke: #ff7f0e; stroke-width: 4.7"/>
<path d="M166.7 810.5L169.7 810.4L173.4 811.8L177.2 814.9L180.4 818.8L183.9 824L186.5 829.3L188.2 834.5L188.8 839.8L188.7 844.3L187.8 849.5L186.5 853.3L184.2 857.8L179.8 863.8L175.7 868.3L171.9 870.8L168.9 871.5L165.9 871.2L162.9 869.6L160.1 866.8L157.5 863L155.2 858.5L153.7 854L152.4 843.5L153 832.3L154.1 827L156 821.8L157.9 818L160.7 814.3L163.7 811.8L166.7 810.5Z" clip-path="url(#pd31951fc2e)" style="fill: none; stroke: #ff7f0e; stroke-width: 4.7"/>
</g>
<g id="patch_53">
<path d="M113.4 925.1L113.4 751.3" style="fill: none; stroke: #000000; stroke-width: 2.5; stroke-linejoin: miter; stroke-linecap: square"/>
</g>
<g id="patch_54">
<path d="M299.7 925.1L299.7 751.3" style="fill: none; stroke: #000000; stroke-width: 2.5; stroke-linejoin: miter; stroke-linecap: square"/>
</g>
<g id="patch_55">
<path d="M113.4 925.1L299.7 925.1" style="fill: none; stroke: #000000; stroke-width: 2.5; stroke-linejoin: miter; stroke-linecap: square"/>
</g>
<g id="patch_56">
<path d="M113.4 751.3L299.7 751.3" style="fill: none; stroke: #000000; stroke-width: 2.5; stroke-linejoin: miter; stroke-linecap: square"/>
</g>
</g>
<g id="axes_12">
<g id="patch_57">
<path d="M309.3 925.1L495.6 925.1L495.6 751.3L309.3 751.3Z" style="fill: #ffffff"/>
</g>
<g id="QuadContourSet_15">
<path d="M424.8 785L447.3 785.7L470.6 785.7L484.8 786.4L487.8 786.9L490.1 787.9L491.8 789.5L493.6 792.5L495.6 798.5L497.3 807.5L498.7 820.3L499.4 832.3L499.2 854.8L498 869L496.5 878L493.8 886.1L492.3 888.5L490.1 890.6L485.6 891.9L472.8 892.6L446.6 892.6L426.3 893.3L397.8 892.9L371.6 891.2L364.1 889L358.1 885.3L352.5 879.5L348.6 872.8L344.9 863L342.5 854L341.5 843.5L341.7 833.8L343.4 824L346.4 814.3L351 803.8L355.9 796.3L359.6 792.7L363.3 790.1L367.1 788.4L372.3 787.1L398.6 785.4L424.5 785ZM423.4 802.3L414.3 802.9L399.3 803L375.3 805.6L369.3 807.4L364.1 811.3L360 816.5L357 822.5L354.9 830L353.9 837.5L354.1 846.5L355.2 854L357.6 860.8L361.1 866.9L365.6 872L370.8 874.9L375.3 875.9L395.6 877.8L428.6 878.8L446.6 877.6L474.3 877.5L484.8 876.5L488.6 875.3L490.1 874L491.6 871.6L493.5 865.3L494.9 857.8L495.5 851L495.5 832.3L493.7 817.3L492.3 812.2L490.5 808.3L489.3 806.9L487.1 805.4L477.3 803.9L466.1 803.3L446.6 803.5L431.6 802.2L424.1 802.3Z" clip-path="url(#p104d18492d)" style="fill: #ff7f0e; fill-opacity: 0.25"/>
<path d="M424.1 802.3L431.6 802.2L446.6 803.5L466.1 803.3L477.3 803.9L487.1 805.4L489.3 806.9L490.5 808.3L492.3 812.2L493.7 817.3L495.5 832.3L495.5 851L494.9 857.8L493.5 865.3L491.6 871.6L490.1 874L488.6 875.3L484.8 876.5L474.3 877.5L446.6 877.6L428.6 878.8L395.6 877.8L375.3 875.9L370.8 874.9L365.6 872L361.1 866.9L357.6 860.8L355.2 854L354.1 846.5L353.9 837.5L354.9 830L357 822.5L360 816.5L364.1 811.3L369.3 807.4L375.3 805.6L399.3 803L414.3 802.9L423.4 802.3ZM422.8 819.5L414.3 820.4L397.8 820.7L385.1 823.7L376.1 825.1L371.6 827L369.3 829.3L367.6 832.3L366.4 836L366 839.8L366.2 844.3L367.1 848.9L368.6 852.3L370.8 854.9L373.1 856.4L376.1 857.3L384.3 858.4L395.6 860.9L400.8 861.5L414.3 861.5L428.6 862.6L446.6 860.6L464.6 860.9L474.3 860.4L485.6 858.2L487.8 856.8L489.6 854L491 846.5L491 836L489.5 828.5L488.6 826.5L487.1 824.9L481.8 823L471.3 821.4L463.8 821.1L447.3 821.5L431.6 819.4L423.3 819.5Z" clip-path="url(#p104d18492d)" style="fill: #ff7f0e; fill-opacity: 0.5"/>
<path d="M423.3 819.5L431.6 819.4L447.3 821.5L463.8 821.1L471.3 821.4L481.8 823L487.1 824.9L488.6 826.5L489.5 828.5L491 836L491 846.5L489.6 854L487.8 856.8L485.6 858.2L474.3 860.4L464.6 860.9L446.6 860.6L428.6 862.6L414.3 861.5L400.8 861.5L395.6 860.9L384.3 858.4L376.1 857.3L373.1 856.4L370.8 854.9L368.6 852.3L367.1 848.9L366.2 844.3L366 839.8L366.4 836L367.6 832.3L369.3 829.3L371.6 827L376.1 825.1L385.1 823.7L397.8 820.7L414.3 820.4L422.8 819.5Z" clip-path="url(#p104d18492d)" style="fill: #ff7f0e"/>
</g>
<g id="matplotlib.axis_23">
<g id="xtick_51">
<g id="line2d_173">
<g>
<path d="M0 0L0 -11.4" transform="translate(325.115629 925.1)" style="stroke: #000000; stroke-width: 2.5"/>
</g>
</g>
<g id="line2d_174">
<g>
<path d="M0 0L0 11.4" transform="translate(325.115629 751.3)" style="stroke: #000000; stroke-width: 2.5"/>
</g>
</g>
</g>
<g id="xtick_52">
<g id="line2d_175">
<g>
<path d="M0 0L0 -11.4" transform="translate(365.668524 925.1)" style="stroke: #000000; stroke-width: 2.5"/>
</g>
</g>
<g id="line2d_176">
<g>
<path d="M0 0L0 11.4" transform="translate(365.668524 751.3)" style="stroke: #000000; stroke-width: 2.5"/>
</g>
</g>
</g>
<g id="xtick_53">
<g id="line2d_177">
<g>
<path d="M0 0L0 -11.4" transform="translate(406.221419 925.1)" style="stroke: #000000; stroke-width: 2.5"/>
</g>
</g>
<g id="line2d_178">
<g>
<path d="M0 0L0 11.4" transform="translate(406.221419 751.3)" style="stroke: #000000; stroke-width: 2.5"/>
</g>
</g>
</g>
<g id="xtick_54">
<g id="line2d_179">
<g>
<path d="M0 0L0 -11.4" transform="translate(446.774314 925.1)" style="stroke: #000000; stroke-width: 2.5"/>
</g>
</g>
<g id="line2d_180">
<g>
<path d="M0 0L0 11.4" transform="translate(446.774314 751.3)" style="stroke: #000000; stroke-width: 2.5"/>
</g>
</g>
</g>
<g id="xtick_55">
<g id="line2d_181">
<g>
<path d="M0 0L0 -11.4" transform="translate(487.327209 925.1)" style="stroke: #000000; stroke-width: 2.5"/>
</g>
</g>
<g id="line2d_182">
<g>
<path d="M0 0L0 11.4" transform="translate(487.327209 751.3)" style="stroke: #000000; stroke-width: 2.5"/>
</g>
</g>
</g>
</g>
<g id="matplotlib.axis_24">
<g id="ytick_35">
<g id="line2d_183">
<g>
<path d="M0 0L11.4 0" transform="translate(309.3 917.18561)" style="stroke: #000000; stroke-width: 2.5"/>
</g>
</g>
<g id="line2d_184">
<g>
<path d="M0 0L-11.4 0" transform="translate(495.6 917.18561)" style="stroke: #000000; stroke-width: 2.5"/>
</g>
</g>
</g>
<g id="ytick_36">
<g id="line2d_185">
<g>
<path d="M0 0L11.4 0" transform="translate(309.3 869.699271)" style="stroke: #000000; stroke-width: 2.5"/>
</g>
</g>
<g id="line2d_186">
<g>
<path d="M0 0L-11.4 0" transform="translate(495.6 869.699271)" style="stroke: #000000; stroke-width: 2.5"/>
</g>
</g>
</g>
<g id="ytick_37">
<g id="line2d_187">
<g>
<path d="M0 0L11.4 0" transform="translate(309.3 822.212933)" style="stroke: #000000; stroke-width: 2.5"/>
</g>
</g>
<g id="line2d_188">
<g>
<path d="M0 0L-11.4 0" transform="translate(495.6 822.212933)" style="stroke: #000000; stroke-width: 2.5"/>
</g>
</g>
</g>
<g id="ytick_38">
<g id="line2d_189">
<g>
<path d="M0 0L11.4 0" transform="translate(309.3 774.726594)" style="stroke: #000000; stroke-width: 2.5"/>
</g>
</g>
<g id="line2d_190">
<g>
<path d="M0 0L-11.4 0" transform="translate(495.6 774.726594)" style="stroke: #000000; stroke-width: 2.5"/>
</g>
</g>
</g>
</g>
<g id="QuadContourSet_16">
<path d="M424.8 785L447.3 785.7L469.8 785.7L484.1 786.3L489.3 787.4L491.6 789.2L492.9 791L494.2 794L495.8 799.3L498 813.5L499.4 831.5L499.4 850.3L498 868.3L496.4 878.8L493.7 886.3L492.3 888.5L490.1 890.6L486.3 891.8L476.6 892.5L446.6 892.6L429.3 893.3L398.6 892.9L373.8 891.5L367.1 890.1L361.1 887.4L355.8 883.3L351 877.3L347 869L342.8 855.5L341.6 847.3L341.5 836.8L342.7 827L345.6 816.5L350.3 805.3L355.3 797L358.8 793.3L362.6 790.5L367.1 788.4L371.6 787.2L398.6 785.4L424.8 785Z" clip-path="url(#p104d18492d)" style="fill: none; stroke: #ff7f0e; stroke-width: 4.7"/>
<path d="M424.1 802.3L431.6 802.2L447.3 803.5L464.6 803.3L474.3 803.6L485.6 805L487.8 805.8L489.3 806.9L492 811.3L494 818.8L495.2 827.8L495.7 840.5L495.4 852.5L494.1 862.3L492 870.5L490.8 873L489.3 874.8L487.1 876L484.8 876.5L470.6 877.7L446.6 877.6L428.6 878.8L400.1 878.1L373.1 875.5L367.8 873.5L363.3 869.8L359.1 863.8L355.8 856.3L354.4 849.5L353.9 840.5L354.5 832.3L356.2 824.8L359.1 818L363.3 812.1L368.6 807.8L374.6 805.7L398.6 803L414.3 802.9L424.1 802.3Z" clip-path="url(#p104d18492d)" style="fill: none; stroke: #ff7f0e; stroke-width: 4.7"/>
<path d="M423.3 819.5L431.6 819.4L447.3 821.5L463.8 821.1L471.3 821.4L480.3 822.7L486.3 824.5L487.8 825.6L489.3 827.9L490.9 835.3L490.9 847.3L490.2 851.8L489.2 854.8L487.8 856.8L485.6 858.2L475.8 860.2L465.3 860.9L446.6 860.6L428.6 862.6L414.3 861.5L398.6 861.3L385.1 858.5L376.1 857.3L372.3 856L369.9 854L367.8 850.9L366.5 846.5L366 841.3L366.3 836.8L367.2 833L369.3 829.3L371.6 827.1L376.1 825.1L385.1 823.7L397.8 820.7L414.3 820.4L423.3 819.5Z" clip-path="url(#p104d18492d)" style="fill: none; stroke: #ff7f0e; stroke-width: 4.7"/>
</g>
<g id="patch_58">
<path d="M309.3 925.1L309.3 751.3" style="fill: none; stroke: #000000; stroke-width: 2.5; stroke-linejoin: miter; stroke-linecap: square"/>
</g>
<g id="patch_59">
<path d="M495.6 925.1L495.6 751.3" style="fill: none; stroke: #000000; stroke-width: 2.5; stroke-linejoin: miter; stroke-linecap: square"/>
</g>
<g id="patch_60">
<path d="M309.3 925.1L495.6 925.1" style="fill: none; stroke: #000000; stroke-width: 2.5; stroke-linejoin: miter; stroke-linecap: square"/>
</g>
<g id="patch_61">
<path d="M309.3 751.3L495.6 751.3" style="fill: none; stroke: #000000; stroke-width: 2.5; stroke-linejoin: miter; stroke-linecap: square"/>
</g>
</g>
<g id="axes_13">
<g id="patch_62">
<path d="M505.2 925.1L691.5 925.1L691.5 751.3L505.2 751.3Z" style="fill: #ffffff"/>
</g>
<g id="QuadContourSet_17">
<path d="M550.2 782.8L567.5 782.1L582.5 783.3L590 784.8L597.5 786.8L604.2 789.3L611.7 792.8L621.5 798.5L637.6 813.5L647.2 824.8L651 830.8L653.4 836L655.1 841.3L656.2 847.3L656.4 851.8L656 855.5L654.2 860.8L651.3 866.8L648 872L644.8 875.8L640.6 879.5L635.7 883L620.7 890.7L605.7 894.8L595.2 896.4L582.5 896.8L569 895.5L554.7 892.8L522.5 885.3L518.7 883.8L515 881.3L512.7 878.8L510.8 875L508.6 866.8L507 857L506.2 847.3L505.8 833L506.2 820.3L507.2 809L508.6 799.3L510.8 791.8L513.5 787.7L515.7 786.4L518.7 785.5L522.5 785L530 784.9L550.2 782.8ZM564.3 797.8L551.7 799.5L529.2 805.3L522.5 806.1L519.5 807.4L516.4 809.8L514.2 812.8L513 815.8L511.8 821L511.1 827L511.1 840.5L511.9 848L513 853.3L515.7 859.3L521 864.5L529.2 867.7L545 874.7L556.2 878.6L567.5 881.4L578 882.7L587.7 882.8L597.5 881.5L605.7 879L614 874.8L620 870.1L625.5 861.5L628.6 854L629.1 847.3L627.7 838.3L624.6 830L620 822.3L611 813.9L602.7 807.8L593.7 802.9L584.7 799.7L575 798L564.5 797.8Z" clip-path="url(#pd84e1abe8b)" style="fill: #ff7f0e; fill-opacity: 0.25"/>
<path d="M564.5 797.8L575 798L584.7 799.7L593.7 802.9L602.7 807.8L611 813.9L620 822.3L624.6 830L627.7 838.3L629.1 847.3L628.6 854L625.5 861.5L620 870.1L614 874.8L605.7 879L597.5 881.5L587.7 882.8L578 882.7L567.5 881.4L556.2 878.6L545 874.7L529.2 867.7L521 864.5L515.7 859.3L513 853.3L511.9 848L511.1 840.5L511.1 827L511.8 821L513 815.8L514.2 812.8L516.4 809.8L519.5 807.4L522.5 806.1L529.2 805.3L551.7 799.5L564.3 797.8ZM563.6 814.3L556.2 816.1L549.5 818.7L542.7 822.4L537.6 826.3L534.3 830L532.6 833.8L532.4 838.3L533.7 842.8L537.1 848.8L541.3 853.3L547.5 857.8L555.5 862.1L563.7 865.6L572 868L579.5 868.9L587 868.4L593 866.8L598.2 864.3L603.5 860.5L607.1 856.3L609.1 851.8L609.8 847.3L609.4 841.3L607.7 835.3L604.8 830L601 825.5L596 821.4L590 817.9L584 815.6L577.2 814.1L570.5 813.7L563.7 814.3Z" clip-path="url(#pd84e1abe8b)" style="fill: #ff7f0e; fill-opacity: 0.5"/>
<path d="M563.7 814.3L570.5 813.7L577.2 814.1L584 815.6L590 817.9L596 821.4L601 825.5L604.8 830L607.7 835.3L609.4 841.3L609.8 847.3L609.1 851.8L607.1 856.3L603.5 860.5L598.2 864.3L593 866.8L587 868.4L579.5 868.9L572 868L563.7 865.6L555.5 862.1L547.5 857.8L541.3 853.3L537.1 848.8L533.7 842.8L532.4 838.3L532.6 833.8L534.3 830L537.6 826.3L542.7 822.4L549.5 818.7L556.2 816.1L563.6 814.3Z" clip-path="url(#pd84e1abe8b)" style="fill: #ff7f0e"/>
</g>
<g id="matplotlib.axis_25">
<g id="xtick_56">
<g id="line2d_191">
<g>
<path d="M0 0L0 -11.4" transform="translate(513.387313 925.1)" style="stroke: #000000; stroke-width: 2.5"/>
</g>
</g>
<g id="line2d_192">
<g>
<path d="M0 0L0 11.4" transform="translate(513.387313 751.3)" style="stroke: #000000; stroke-width: 2.5"/>
</g>
</g>
</g>
<g id="xtick_57">
<g id="line2d_193">
<g>
<path d="M0 0L0 -11.4" transform="translate(552.006716 925.1)" style="stroke: #000000; stroke-width: 2.5"/>
</g>
</g>
<g id="line2d_194">
<g>
<path d="M0 0L0 11.4" transform="translate(552.006716 751.3)" style="stroke: #000000; stroke-width: 2.5"/>
</g>
</g>
</g>
<g id="xtick_58">
<g id="line2d_195">
<g>
<path d="M0 0L0 -11.4" transform="translate(590.626119 925.1)" style="stroke: #000000; stroke-width: 2.5"/>
</g>
</g>
<g id="line2d_196">
<g>
<path d="M0 0L0 11.4" transform="translate(590.626119 751.3)" style="stroke: #000000; stroke-width: 2.5"/>
</g>
</g>
</g>
<g id="xtick_59">
<g id="line2d_197">
<g>
<path d="M0 0L0 -11.4" transform="translate(629.245522 925.1)" style="stroke: #000000; stroke-width: 2.5"/>
</g>
</g>
<g id="line2d_198">
<g>
<path d="M0 0L0 11.4" transform="translate(629.245522 751.3)" style="stroke: #000000; stroke-width: 2.5"/>
</g>
</g>
</g>
<g id="xtick_60">
<g id="line2d_199">
<g>
<path d="M0 0L0 -11.4" transform="translate(667.864925 925.1)" style="stroke: #000000; stroke-width: 2.5"/>
</g>
</g>
<g id="line2d_200">
<g>
<path d="M0 0L0 11.4" transform="translate(667.864925 751.3)" style="stroke: #000000; stroke-width: 2.5"/>
</g>
</g>
</g>
</g>
<g id="matplotlib.axis_26">
<g id="ytick_39">
<g id="line2d_201">
<g>
<path d="M0 0L11.4 0" transform="translate(505.2 917.18561)" style="stroke: #000000; stroke-width: 2.5"/>
</g>
</g>
<g id="line2d_202">
<g>
<path d="M0 0L-11.4 0" transform="translate(691.5 917.18561)" style="stroke: #000000; stroke-width: 2.5"/>
</g>
</g>
</g>
<g id="ytick_40">
<g id="line2d_203">
<g>
<path d="M0 0L11.4 0" transform="translate(505.2 869.699271)" style="stroke: #000000; stroke-width: 2.5"/>
</g>
</g>
<g id="line2d_204">
<g>
<path d="M0 0L-11.4 0" transform="translate(691.5 869.699271)" style="stroke: #000000; stroke-width: 2.5"/>
</g>
</g>
</g>
<g id="ytick_41">
<g id="line2d_205">
<g>
<path d="M0 0L11.4 0" transform="translate(505.2 822.212933)" style="stroke: #000000; stroke-width: 2.5"/>
</g>
</g>
<g id="line2d_206">
<g>
<path d="M0 0L-11.4 0" transform="translate(691.5 822.212933)" style="stroke: #000000; stroke-width: 2.5"/>
</g>
</g>
</g>
<g id="ytick_42">
<g id="line2d_207">
<g>
<path d="M0 0L11.4 0" transform="translate(505.2 774.726594)" style="stroke: #000000; stroke-width: 2.5"/>
</g>
</g>
<g id="line2d_208">
<g>
<path d="M0 0L-11.4 0" transform="translate(691.5 774.726594)" style="stroke: #000000; stroke-width: 2.5"/>
</g>
</g>
</g>
</g>
<g id="QuadContourSet_18">
<path d="M550.2 782.8L563 782.1L575 782.4L586.2 784L597.5 786.8L607.2 790.6L619.2 796.9L633.9 809.8L643.7 820.3L649.7 828.5L653.4 836L655.8 845L656.4 852.5L655.1 858.5L650.4 868.3L644.8 875.8L640.6 879.5L635.7 883L620 891L604.2 895.1L590 896.8L575 896.3L557.7 893.5L521.7 885L517.2 882.9L514.2 880.6L511.4 876.5L509.2 869.8L507.1 857.8L506.2 846.5L505.8 832.3L506.4 818L508 803L510.2 793.3L512.7 788.5L515 786.7L517.2 785.9L521.7 785L529.2 785L550.2 782.8Z" clip-path="url(#pd84e1abe8b)" style="fill: none; stroke: #ff7f0e; stroke-width: 4.7"/>
<path d="M564.5 797.8L572.7 797.8L580.2 798.7L587.7 800.6L594.5 803.2L601.2 806.8L608 811.5L617.7 819.9L621.2 824L624.6 830L627.3 836.8L628.7 843.5L629 851L627.9 856.3L625.5 861.5L620.8 869L617 872.8L607.2 878.4L597.5 881.5L585.5 882.8L572 882.1L558.5 879.3L543.5 874.1L528.9 867.5L521.7 865L518.7 862.7L515.7 859.3L513.7 855.5L512.3 850.3L511.3 842.8L510.9 833.8L511.2 826.3L512.1 819.5L513.5 814.6L515.7 810.5L519.5 807.4L522.5 806.1L529.2 805.3L551.7 799.5L564.5 797.8Z" clip-path="url(#pd84e1abe8b)" style="fill: none; stroke: #ff7f0e; stroke-width: 4.7"/>
<path d="M563.7 814.3L569.7 813.7L575 813.8L580.2 814.6L585.5 816L590.7 818.3L595.2 820.9L599.4 824L603 827.8L606.2 832.3L608.2 836.8L609.4 841.3L609.8 846.5L609.3 851L608 854.8L606 857.8L602.7 861.1L596 865.5L589.2 867.9L581.7 868.9L573.5 868.2L563.7 865.6L553.2 861L544.1 855.5L538.3 850.3L534.7 845L532.5 839L532.6 833.8L534.9 829.3L539.3 824.8L546.5 820.2L555.5 816.4L563.7 814.3Z" clip-path="url(#pd84e1abe8b)" style="fill: none; stroke: #ff7f0e; stroke-width: 4.7"/>
</g>
<g id="patch_63">
<path d="M505.2 925.1L505.2 751.3" style="fill: none; stroke: #000000; stroke-width: 2.5; stroke-linejoin: miter; stroke-linecap: square"/>
</g>
<g id="patch_64">
<path d="M691.5 925.1L691.5 751.3" style="fill: none; stroke: #000000; stroke-width: 2.5; stroke-linejoin: miter; stroke-linecap: square"/>
</g>
<g id="patch_65">
<path d="M505.2 925.1L691.5 925.1" style="fill: none; stroke: #000000; stroke-width: 2.5; stroke-linejoin: miter; stroke-linecap: square"/>
</g>
<g id="patch_66">
<path d="M505.2 751.3L691.5 751.3" style="fill: none; stroke: #000000; stroke-width: 2.5; stroke-linejoin: miter; stroke-linecap: square"/>
</g>
</g>
<g id="axes_14">
<g id="patch_67">
<path d="M701.1 925.1L887.4 925.1L887.4 751.3L701.1 751.3Z" style="fill: #ffffff"/>
</g>
<g id="QuadContourSet_19">
<path d="M786.6 781.2L801.6 780.7L810.6 781.9L824.9 786.2L831.6 789.2L838.4 793L843.6 796.7L848.1 800.6L856.8 810.5L863.5 821L866.3 827L868.1 832.3L870.2 843.5L870.5 849.5L870.2 854.8L868.9 860.8L866.6 867.5L864.2 872.8L861.8 876.5L858.6 880.3L855.1 883.3L845.9 889.1L833.1 894.1L826.4 895.9L819.6 897.1L811.4 897.8L805.4 897.7L790.4 894.9L781.4 892L765.6 884.6L757.1 878.8L750.5 872L742.6 860L738.8 851L737.4 845L736.4 838.3L736.2 832.3L736.7 826.3L738 820.3L739.8 815L742.6 809L746.1 803L749.6 798.5L752.9 795.2L761.1 789.4L766.4 786.9L772.4 784.7L786.1 781.3ZM794.5 796.3L786.6 797.3L779.9 800.2L770.9 806.2L763.6 813.5L758.9 821L756.4 828.5L755.7 836L756.7 844.3L759.1 852.5L763 859.3L771 868.3L779.9 875.5L786.6 879.4L798.6 882.8L805.4 883.9L812.1 883.7L821.9 882L829.4 879.3L836.6 875L842 869.8L847.4 861.5L850.2 854.8L851 847.3L850.1 838.3L847.6 830L842.9 821.8L836.6 814.3L827.9 806.5L819.6 801.3L809.9 797.2L803.1 795.8L794.9 796.3Z" clip-path="url(#p919ea310ab)" style="fill: #ff7f0e; fill-opacity: 0.25"/>
<path d="M794.9 796.3L803.1 795.8L809.9 797.2L819.6 801.3L827.9 806.5L836.6 814.3L842.9 821.8L847.6 830L850.1 838.3L851 847.3L850.2 854.8L847.4 861.5L842 869.8L836.6 875L829.4 879.3L821.9 882L812.1 883.7L805.4 883.9L798.6 882.8L786.6 879.4L779.9 875.5L771 868.3L763 859.3L759.1 852.5L756.7 844.3L755.7 836L756.4 828.5L758.9 821L763.6 813.5L770.9 806.2L779.9 800.2L786.6 797.3L794.5 796.3ZM799.1 813.5L787.4 816.7L784.4 818.6L781.2 821.8L778.2 826.3L776 831.5L775.3 836.8L775.8 842.8L777.2 848L779.5 853.3L782.2 857L785.9 860.6L789.6 862.9L800.9 867.9L805.4 868.8L809.9 868.5L815.1 866.8L820.4 864.2L824.9 860.9L828.3 857L830.4 853.3L831.4 849.5L831.7 844.3L831.2 839L829.7 833.8L827.4 829.3L824 824.8L820 821L813.6 816.8L808.4 814.3L803.9 813.3L799.4 813.5Z" clip-path="url(#p919ea310ab)" style="fill: #ff7f0e; fill-opacity: 0.5"/>
<path d="M799.4 813.5L803.9 813.3L808.4 814.3L813.6 816.8L820 821L824 824.8L827.4 829.3L829.7 833.8L831.2 839L831.7 844.3L831.4 849.5L830.4 853.3L828.3 857L824.9 860.9L820.4 864.2L815.1 866.8L809.9 868.5L805.4 868.8L800.9 867.9L789.6 862.9L785.9 860.6L782.2 857L779.5 853.3L777.2 848L775.8 842.8L775.3 836.8L776 831.5L778.2 826.3L781.2 821.8L784.4 818.6L787.4 816.7L799.1 813.5Z" clip-path="url(#p919ea310ab)" style="fill: #ff7f0e"/>
</g>
<g id="matplotlib.axis_27">
<g id="xtick_61">
<g id="line2d_209">
<g>
<path d="M0 0L0 -11.4" transform="translate(717.3 925.1)" style="stroke: #000000; stroke-width: 2.5"/>
</g>
</g>
<g id="line2d_210">
<g>
<path d="M0 0L0 11.4" transform="translate(717.3 751.3)" style="stroke: #000000; stroke-width: 2.5"/>
</g>
</g>
</g>
<g id="xtick_62">
<g id="line2d_211">
<g>
<path d="M0 0L0 -11.4" transform="translate(757.8 925.1)" style="stroke: #000000; stroke-width: 2.5"/>
</g>
</g>
<g id="line2d_212">
<g>
<path d="M0 0L0 11.4" transform="translate(757.8 751.3)" style="stroke: #000000; stroke-width: 2.5"/>
</g>
</g>
</g>
<g id="xtick_63">
<g id="line2d_213">
<g>
<path d="M0 0L0 -11.4" transform="translate(798.3 925.1)" style="stroke: #000000; stroke-width: 2.5"/>
</g>
</g>
<g id="line2d_214">
<g>
<path d="M0 0L0 11.4" transform="translate(798.3 751.3)" style="stroke: #000000; stroke-width: 2.5"/>
</g>
</g>
</g>
<g id="xtick_64">
<g id="line2d_215">
<g>
<path d="M0 0L0 -11.4" transform="translate(838.8 925.1)" style="stroke: #000000; stroke-width: 2.5"/>
</g>
</g>
<g id="line2d_216">
<g>
<path d="M0 0L0 11.4" transform="translate(838.8 751.3)" style="stroke: #000000; stroke-width: 2.5"/>
</g>
</g>
</g>
<g id="xtick_65">
<g id="line2d_217">
<g>
<path d="M0 0L0 -11.4" transform="translate(879.3 925.1)" style="stroke: #000000; stroke-width: 2.5"/>
</g>
</g>
<g id="line2d_218">
<g>
<path d="M0 0L0 11.4" transform="translate(879.3 751.3)" style="stroke: #000000; stroke-width: 2.5"/>
</g>
</g>
</g>
</g>
<g id="matplotlib.axis_28">
<g id="ytick_43">
<g id="line2d_219">
<g>
<path d="M0 0L11.4 0" transform="translate(701.1 917.18561)" style="stroke: #000000; stroke-width: 2.5"/>
</g>
</g>
<g id="line2d_220">
<g>
<path d="M0 0L-11.4 0" transform="translate(887.4 917.18561)" style="stroke: #000000; stroke-width: 2.5"/>
</g>
</g>
</g>
<g id="ytick_44">
<g id="line2d_221">
<g>
<path d="M0 0L11.4 0" transform="translate(701.1 869.699271)" style="stroke: #000000; stroke-width: 2.5"/>
</g>
</g>
<g id="line2d_222">
<g>
<path d="M0 0L-11.4 0" transform="translate(887.4 869.699271)" style="stroke: #000000; stroke-width: 2.5"/>
</g>
</g>
</g>
<g id="ytick_45">
<g id="line2d_223">
<g>
<path d="M0 0L11.4 0" transform="translate(701.1 822.212933)" style="stroke: #000000; stroke-width: 2.5"/>
</g>
</g>
<g id="line2d_224">
<g>
<path d="M0 0L-11.4 0" transform="translate(887.4 822.212933)" style="stroke: #000000; stroke-width: 2.5"/>
</g>
</g>
</g>
<g id="ytick_46">
<g id="line2d_225">
<g>
<path d="M0 0L11.4 0" transform="translate(701.1 774.726594)" style="stroke: #000000; stroke-width: 2.5"/>
</g>
</g>
<g id="line2d_226">
<g>
<path d="M0 0L-11.4 0" transform="translate(887.4 774.726594)" style="stroke: #000000; stroke-width: 2.5"/>
</g>
</g>
</g>
</g>
<g id="QuadContourSet_20">
<path d="M786.6 781.2L800.1 780.7L807.6 781.3L820.4 784.6L830.1 788.5L839.1 793.5L847.4 799.9L854.4 807.5L861.4 817.3L866 826.3L868.9 835.3L870.4 845.8L870.1 855.5L867.1 866L862.9 875L857.8 881L850.4 886.6L839.1 892L830.9 894.7L824.1 896.3L817.4 897.3L809.1 897.9L803.9 897.6L797.9 896.5L788.1 894.3L782.9 892.6L770.9 887.3L762.6 882.8L757.1 878.8L752.4 874.3L748.8 869.8L744.4 863L741.1 857L738.8 851L737 842.8L736.2 835.3L736.4 828.5L737.5 822.5L739.6 815.8L742.6 809L745.6 803.8L749.6 798.5L753.6 794.6L758.9 790.7L764.1 787.9L770.1 785.4L780.6 782.4L786.6 781.2Z" clip-path="url(#p919ea310ab)" style="fill: none; stroke: #ff7f0e; stroke-width: 4.7"/>
<path d="M794.9 796.3L802.4 795.8L808.4 796.7L816.6 799.8L824.9 804.4L832.7 810.5L840 818L844.9 824.8L848.5 832.3L850.2 839L851 847.3L850.5 853.3L848.6 859.3L844.2 866.8L839.2 872.8L833.9 876.9L826.4 880.6L816.6 883.1L806.1 884L798.6 882.8L785.9 879.1L777.6 873.9L769.4 866.6L762.5 858.5L758.5 851L756.1 841.3L755.9 832.3L757.7 824L761.4 816.5L764.8 812L768.4 808.3L776.9 802L782.1 799L785.9 797.5L794.9 796.3Z" clip-path="url(#p919ea310ab)" style="fill: none; stroke: #ff7f0e; stroke-width: 4.7"/>
<path d="M799.4 813.5L803.9 813.3L808.4 814.3L813.6 816.8L820 821L824 824.8L827.4 829.3L829.7 833.8L831.2 839L831.7 844.3L831.4 849.5L830.1 854L827.9 857.7L824.1 861.5L819.6 864.6L814.4 867.1L809.1 868.6L804.6 868.8L800.9 867.9L789.6 862.9L785.9 860.6L782.2 857L779.5 853.3L777.2 848L775.8 842.8L775.3 836.8L776 831.5L778.2 826.3L781.2 821.8L784.4 818.6L787.4 816.7L799.4 813.5Z" clip-path="url(#p919ea310ab)" style="fill: none; stroke: #ff7f0e; stroke-width: 4.7"/>
</g>
<g id="patch_68">
<path d="M701.1 925.1L701.1 751.3" style="fill: none; stroke: #000000; stroke-width: 2.5; stroke-linejoin: miter; stroke-linecap: square"/>
</g>
<g id="patch_69">
<path d="M887.4 925.1L887.4 751.3" style="fill: none; stroke: #000000; stroke-width: 2.5; stroke-linejoin: miter; stroke-linecap: square"/>
</g>
<g id="patch_70">
<path d="M701.1 925.1L887.4 925.1" style="fill: none; stroke: #000000; stroke-width: 2.5; stroke-linejoin: miter; stroke-linecap: square"/>
</g>
<g id="patch_71">
<path d="M701.1 751.3L887.4 751.3" style="fill: none; stroke: #000000; stroke-width: 2.5; stroke-linejoin: miter; stroke-linecap: square"/>
</g>
</g>
<g id="axes_15">
<g id="patch_72">
<path d="M897 925.1L1083.3 925.1L1083.3 751.3L897 751.3Z" style="fill: #ffffff"/>
</g>
<g id="matplotlib.axis_29">
<g id="xtick_66">
<g id="line2d_227">
<g>
<path d="M0 0L0 -11.4" transform="translate(905.483607 925.1)" style="stroke: #000000; stroke-width: 2.5"/>
</g>
</g>
<g id="line2d_228">
<g>
<path d="M0 0L0 11.4" transform="translate(905.483607 751.3)" style="stroke: #000000; stroke-width: 2.5"/>
</g>
</g>
</g>
<g id="xtick_67">
<g id="line2d_229">
<g>
<path d="M0 0L0 -11.4" transform="translate(956.385246 925.1)" style="stroke: #000000; stroke-width: 2.5"/>
</g>
</g>
<g id="line2d_230">
<g>
<path d="M0 0L0 11.4" transform="translate(956.385246 751.3)" style="stroke: #000000; stroke-width: 2.5"/>
</g>
</g>
</g>
<g id="xtick_68">
<g id="line2d_231">
<g>
<path d="M0 0L0 -11.4" transform="translate(1007.286885 925.1)" style="stroke: #000000; stroke-width: 2.5"/>
</g>
</g>
<g id="line2d_232">
<g>
<path d="M0 0L0 11.4" transform="translate(1007.286885 751.3)" style="stroke: #000000; stroke-width: 2.5"/>
</g>
</g>
</g>
<g id="xtick_69">
<g id="line2d_233">
<g>
<path d="M0 0L0 -11.4" transform="translate(1058.188525 925.1)" style="stroke: #000000; stroke-width: 2.5"/>
</g>
</g>
<g id="line2d_234">
<g>
<path d="M0 0L0 11.4" transform="translate(1058.188525 751.3)" style="stroke: #000000; stroke-width: 2.5"/>
</g>
</g>
</g>
</g>
<g id="matplotlib.axis_30"/>
<g id="line2d_235">
<path d="M903.2 925.1L920.6 925.1L920.6 924.4L932.1 924.4L932.1 921.5L939.4 921.5L939.4 915.7L945.1 915.7L945.1 908.5L950.9 908.5L950.9 889L956.7 889L956.7 873.1L962.5 873.1L962.5 843.5L968.3 843.5L968.3 811L974 811L974 783.5L979.8 783.5L979.8 774.1L984.9 774.1L984.9 766.9L990.7 766.9L990.7 775.6L995.7 775.6L995.7 790.7L1001.5 790.7L1001.5 823.3L1007.3 823.3L1007.3 847.1L1013.1 847.1L1013.1 876.7L1018.8 876.7L1018.8 893.3L1024.6 893.3L1024.6 907.8L1030.4 907.8L1030.4 915.7L1036.2 915.7L1036.2 920.1L1042 920.1L1042 923L1047.7 923L1047.7 925.1L1076.6 925.1" clip-path="url(#p958466ab37)" style="fill: none; stroke: #ff7f0e; stroke-width: 4.7; stroke-linecap: square"/>
</g>
<g id="patch_73">
<path d="M897 925.1L897 751.3" style="fill: none; stroke: #000000; stroke-width: 2.5; stroke-linejoin: miter; stroke-linecap: square"/>
</g>
<g id="patch_74">
<path d="M1083.3 925.1L1083.3 751.3" style="fill: none; stroke: #000000; stroke-width: 2.5; stroke-linejoin: miter; stroke-linecap: square"/>
</g>
<g id="patch_75">
<path d="M897 925.1L1083.3 925.1" style="fill: none; stroke: #000000; stroke-width: 2.5; stroke-linejoin: miter; stroke-linecap: square"/>
</g>
<g id="patch_76">
<path d="M897 751.3L1083.3 751.3" style="fill: none; stroke: #000000; stroke-width: 2.5; stroke-linejoin: miter; stroke-linecap: square"/>
</g>
</g>
<g id="axes_16">
<g id="patch_77">
<path d="M113.4 1107.6L299.7 1107.6L299.7 933.8L113.4 933.8Z" style="fill: #ffffff"/>
</g>
<g id="QuadContourSet_21">
<path d="M165.9 955.5L169.7 955.3L174.2 956.6L178.7 959.4L191.4 969.1L197.3 972.8L201.2 974.4L213.2 977.6L221.4 980.5L229.7 984.3L237.2 988.9L244.3 995.3L251.9 1005.8L255.4 1013.3L256.5 1020.8L256.1 1031.3L254.3 1038.8L250 1046.3L243.2 1053.5L233.4 1061L221.4 1068.3L214.7 1071.5L201.9 1075.9L196.7 1078.4L177.9 1092.4L171.9 1095.4L168.9 1095.8L165.9 1095.6L160.7 1093.2L155.6 1088.3L150.4 1080.8L146 1071.8L136.3 1047.8L133.5 1038L132.4 1029L132.4 1018.5L133.3 1011.8L137.8 996L141.6 986.3L148.9 972.8L154.8 963.8L160.7 957.9L165.8 955.5ZM164.5 980.3L159.2 983.1L154.7 987L150.7 992.3L147.7 998.3L144.6 1007.3L143.3 1014L142.8 1021.5L143 1032L143.9 1038.8L145.7 1045.5L148.5 1051.5L151.9 1056.8L157.7 1063.6L162.2 1067.3L166.7 1069.2L171.2 1069L175.7 1066.9L187.4 1058.3L195.9 1053L200.6 1050.8L213.9 1046.3L221.2 1041.8L224.8 1038L227.2 1033.5L228.4 1028.3L228.6 1020.8L227.7 1016.3L226 1012.5L222.8 1008.8L218.4 1005.4L211.7 1001.7L198.9 996.5L175.7 981.6L170.4 979.9L165.2 980.1Z" clip-path="url(#pf7a11a838c)" style="fill: #ff7f0e; fill-opacity: 0.25"/>
<path d="M165.2 980.1L170.4 979.9L175.7 981.6L198.9 996.5L211.7 1001.7L218.4 1005.4L222.8 1008.8L226 1012.5L227.7 1016.3L228.6 1020.8L228.4 1028.3L227.2 1033.5L224.8 1038L221.2 1041.8L213.9 1046.3L200.6 1050.8L195.9 1053L187.4 1058.3L175.7 1066.9L171.2 1069L166.7 1069.2L162.2 1067.3L157.7 1063.6L151.9 1056.8L148.5 1051.5L145.7 1045.5L143.9 1038.8L143 1032L142.8 1021.5L143.3 1014L144.6 1007.3L147.7 998.3L150.7 992.3L154.7 987L159.2 983.1L164.5 980.3ZM165.2 996.8L162.2 998.6L159.2 1001.8L156 1006.5L154 1011L152.5 1019.3L152.8 1032L153.6 1036.5L155.2 1041L157.3 1044.8L159.9 1048L162.9 1050.3L165.9 1051.5L168.9 1051.8L171.9 1051.2L175.7 1049.3L179.3 1046.3L182.6 1042.5L185.6 1038L187.2 1034.3L188.2 1030.5L188.7 1025.3L188.6 1020L187.7 1015.5L186.1 1011.8L183.1 1007.3L178.6 1002L174.9 998.7L171.9 996.9L168.9 996.2L165.9 996.5Z" clip-path="url(#pf7a11a838c)" style="fill: #ff7f0e; fill-opacity: 0.5"/>
<path d="M165.9 996.5L168.9 996.2L171.9 996.9L174.9 998.7L178.6 1002L183.1 1007.3L186.1 1011.8L187.7 1015.5L188.6 1020L188.7 1025.3L188.2 1030.5L187.2 1034.3L185.6 1038L182.6 1042.5L179.3 1046.3L175.7 1049.3L171.9 1051.2L168.9 1051.8L165.9 1051.5L162.9 1050.3L159.9 1048L157.3 1044.8L155.2 1041L153.6 1036.5L152.8 1032L152.5 1019.3L154 1011L156 1006.5L159.2 1001.8L162.2 998.6L165.2 996.8Z" clip-path="url(#pf7a11a838c)" style="fill: #ff7f0e"/>
</g>
<g id="matplotlib.axis_31">
<g id="xtick_70">
<g id="line2d_236">
<g>
<path d="M0 0L0 -11.4" transform="translate(141.511339 1107.6)" style="stroke: #000000; stroke-width: 2.5"/>
</g>
</g>
<g id="line2d_237">
<g>
<path d="M0 0L0 11.4" transform="translate(141.511339 933.8)" style="stroke: #000000; stroke-width: 2.5"/>
</g>
</g>
<g id="text_20">
<text style="font-size: 25px; font-family: 'DejaVu Sans', sans-serif" transform="translate(124.926094 1175.95862) rotate(-45)">−4.5</text>
</g>
</g>
<g id="xtick_71">
<g id="line2d_238">
<g>
<path d="M0 0L0 -11.4" transform="translate(191.413125 1107.6)" style="stroke: #000000; stroke-width: 2.5"/>
</g>
</g>
<g id="line2d_239">
<g>
<path d="M0 0L0 11.4" transform="translate(191.413125 933.8)" style="stroke: #000000; stroke-width: 2.5"/>
</g>
</g>
<g id="text_21">
<text style="font-size: 25px; font-family: 'DejaVu Sans', sans-serif" transform="translate(174.82788 1175.95862) rotate(-45)">−3.0</text>
</g>
</g>
<g id="xtick_72">
<g id="line2d_240">
<g>
<path d="M0 0L0 -11.4" transform="translate(241.314911 1107.6)" style="stroke: #000000; stroke-width: 2.5"/>
</g>
</g>
<g id="line2d_241">
<g>
<path d="M0 0L0 11.4" transform="translate(241.314911 933.8)" style="stroke: #000000; stroke-width: 2.5"/>
</g>
</g>
<g id="text_22">
<text style="font-size: 25px; font-family: 'DejaVu Sans', sans-serif" transform="translate(224.729666 1175.95862) rotate(-45)">−1.5</text>
</g>
</g>
<g id="xtick_73">
<g id="line2d_242">
<g>
<path d="M0 0L0 -11.4" transform="translate(291.216696 1107.6)" style="stroke: #000000; stroke-width: 2.5"/>
</g>
</g>
<g id="line2d_243">
<g>
<path d="M0 0L0 11.4" transform="translate(291.216696 933.8)" style="stroke: #000000; stroke-width: 2.5"/>
</g>
</g>
<g id="text_23">
<text style="font-size: 25px; font-family: 'DejaVu Sans', sans-serif" transform="translate(282.038119 1161.145286) rotate(-45)">0.0</text>
</g>
</g>
</g>
<g id="matplotlib.axis_32">
<g id="ytick_47">
<g id="line2d_244">
<g>
<path d="M0 0L11.4 0" transform="translate(113.4 1080.890476)" style="stroke: #000000; stroke-width: 2.5"/>
</g>
</g>
<g id="line2d_245">
<g>
<path d="M0 0L-11.4 0" transform="translate(299.7 1080.890476)" style="stroke: #000000; stroke-width: 2.5"/>
</g>
</g>
<g id="text_24">
<text style="font-size: 25px; font-family: 'DejaVu Sans', sans-serif" transform="translate(86.47618 1096.072113) rotate(-45)">0</text>
</g>
</g>
<g id="ytick_48">
<g id="line2d_246">
<g>
<path d="M0 0L11.4 0" transform="translate(113.4 1043.271429)" style="stroke: #000000; stroke-width: 2.5"/>
</g>
</g>
<g id="line2d_247">
<g>
<path d="M0 0L-11.4 0" transform="translate(299.7 1043.271429)" style="stroke: #000000; stroke-width: 2.5"/>
</g>
</g>
<g id="text_25">
<text style="font-size: 25px; font-family: 'DejaVu Sans', sans-serif" transform="translate(75.228763 1069.700483) rotate(-45)">10</text>
</g>
</g>
<g id="ytick_49">
<g id="line2d_248">
<g>
<path d="M0 0L11.4 0" transform="translate(113.4 1005.652381)" style="stroke: #000000; stroke-width: 2.5"/>
</g>
</g>
<g id="line2d_249">
<g>
<path d="M0 0L-11.4 0" transform="translate(299.7 1005.652381)" style="stroke: #000000; stroke-width: 2.5"/>
</g>
</g>
<g id="text_26">
<text style="font-size: 25px; font-family: 'DejaVu Sans', sans-serif" transform="translate(75.228763 1032.081435) rotate(-45)">20</text>
</g>
</g>
<g id="ytick_50">
<g id="line2d_250">
<g>
<path d="M0 0L11.4 0" transform="translate(113.4 968.033333)" style="stroke: #000000; stroke-width: 2.5"/>
</g>
</g>
<g id="line2d_251">
<g>
<path d="M0 0L-11.4 0" transform="translate(299.7 968.033333)" style="stroke: #000000; stroke-width: 2.5"/>
</g>
</g>
<g id="text_27">
<text style="font-size: 25px; font-family: 'DejaVu Sans', sans-serif" transform="translate(75.228763 994.462388) rotate(-45)">30</text>
</g>
</g>
</g>
<g id="QuadContourSet_22">
<path d="M165.9 955.5L169.7 955.3L174.2 956.6L178.7 959.4L191.4 969.1L197.3 972.8L201.2 974.4L213.2 977.6L221.4 980.5L229.7 984.3L237.2 988.9L241.4 992.3L244.9 996L252.4 1006.5L255.6 1014L256.6 1022.3L256 1032L255 1036.5L253.6 1040.3L248.8 1047.8L241.7 1054.8L233.4 1061L223.7 1067.1L214.7 1071.5L198.2 1077.5L191.9 1081.5L176.4 1093.3L172.7 1095.1L168.9 1095.8L163.7 1094.9L159.2 1092L154.4 1086.8L149.2 1078.5L145.3 1070.3L135.5 1045.5L133.2 1036.5L132.3 1026.8L132.4 1017.8L133.4 1011L138.6 993.8L141.6 986.3L148.9 972.8L154.8 963.8L160.7 957.9L165.9 955.5Z" clip-path="url(#pf7a11a838c)" style="fill: none; stroke: #ff7f0e; stroke-width: 4.7"/>
<path d="M165.2 980.1L170.4 979.9L175.7 981.6L198.9 996.5L211.7 1001.7L218.4 1005.4L222.8 1008.8L226 1012.5L227.7 1016.3L228.6 1021.5L228.4 1028.3L227.2 1033.5L224.8 1038L220.7 1042.3L213.2 1046.6L201.2 1050.6L196.7 1052.6L187.4 1058.3L175.7 1066.9L171.9 1068.7L168.9 1069.4L164.4 1068.6L160.7 1066.3L155.4 1061.1L149.8 1053.8L146.9 1048.5L144.8 1042.5L143.6 1037.3L142.9 1029.8L142.9 1019.3L143.6 1011.8L145.2 1005L148.3 996.8L151.1 991.5L155.4 986.3L160.7 982.1L165.2 980.1Z" clip-path="url(#pf7a11a838c)" style="fill: none; stroke: #ff7f0e; stroke-width: 4.7"/>
<path d="M165.9 996.5L168.9 996.2L172.7 997.3L175.7 999.2L179.4 1002.9L183.7 1008L186.5 1012.5L188.1 1017L188.7 1021.5L188.6 1027.5L187.9 1032L186.7 1035.8L184.2 1040.3L180.7 1044.8L176.4 1048.8L172.7 1050.9L168.9 1051.8L165.9 1051.5L162.9 1050.3L159.9 1048L157.7 1045.3L155.6 1041.8L154.1 1038L153 1033.5L152.5 1028.3L152.7 1017L153.5 1012.5L154.9 1008.8L157.3 1004.3L159.9 1000.9L162.9 998.1L165.9 996.5Z" clip-path="url(#pf7a11a838c)" style="fill: none; stroke: #ff7f0e; stroke-width: 4.7"/>
</g>
<g id="patch_78">
<path d="M113.4 1107.6L113.4 933.8" style="fill: none; stroke: #000000; stroke-width: 2.5; stroke-linejoin: miter; stroke-linecap: square"/>
</g>
<g id="patch_79">
<path d="M299.7 1107.6L299.7 933.8" style="fill: none; stroke: #000000; stroke-width: 2.5; stroke-linejoin: miter; stroke-linecap: square"/>
</g>
<g id="patch_80">
<path d="M113.4 1107.6L299.7 1107.6" style="fill: none; stroke: #000000; stroke-width: 2.5; stroke-linejoin: miter; stroke-linecap: square"/>
</g>
<g id="patch_81">
<path d="M113.4 933.8L299.7 933.8" style="fill: none; stroke: #000000; stroke-width: 2.5; stroke-linejoin: miter; stroke-linecap: square"/>
</g>
</g>
<g id="axes_17">
<g id="patch_82">
<path d="M309.3 1107.6L495.6 1107.6L495.6 933.8L309.3 933.8Z" style="fill: #ffffff"/>
</g>
<g id="QuadContourSet_23">
<path d="M401.6 966L414.3 966L428.6 965.4L446.6 966.7L465.3 966.4L475.8 966.9L487.1 968.4L489.3 969.6L491.6 972.4L494.8 980.3L497.1 988.5L499.6 1009.5L500 1023L499.6 1038.8L498.7 1048.5L497.1 1058.3L493.3 1074L491.6 1078.4L489.3 1081.4L487.1 1082.7L484.1 1083.4L469.1 1084.6L446.6 1084.5L428.6 1085.8L414.3 1085.1L401.6 1085.1L372.3 1082L366.3 1079.3L361.3 1074.8L355.5 1067.3L347.8 1055.3L343.6 1047L341 1039.5L339.6 1032L339.3 1021.5L339.8 1014.8L341.2 1008.8L345.6 996.8L349.4 989.3L353.8 983.3L359.6 977.1L364.8 972.6L369.3 970.1L375.3 968.5L401.2 966ZM426.3 987.8L399.3 988.4L375.3 990.6L369.3 992.1L364.8 994.8L361.1 998.8L357.1 1005L354.8 1010.3L353.4 1016.3L353.1 1025.3L353.8 1034.3L355.3 1040.3L357.9 1045.5L361.4 1050L365.6 1053.4L370.1 1055.5L375.3 1056.7L399.3 1058.8L427.1 1059.5L447.3 1058.3L469.1 1058.4L481.1 1057.7L487.8 1056.5L490.8 1054.2L493.2 1049.3L494.7 1043.3L495.6 1036.5L495.9 1016.3L494.1 1002.8L492.5 996.8L490.8 993.3L489.3 991.6L487.1 990.4L479.6 989.4L466.8 988.7L446.6 988.9L426.3 987.8Z" clip-path="url(#p263a6c56a1)" style="fill: #ff7f0e; fill-opacity: 0.25"/>
<path d="M426.3 987.8L446.6 988.9L466.8 988.7L479.6 989.4L487.1 990.4L489.3 991.6L490.8 993.3L492.5 996.8L494.1 1002.8L495.9 1016.3L495.6 1036.5L494.7 1043.3L493.2 1049.3L490.8 1054.2L487.8 1056.5L481.1 1057.7L469.1 1058.4L447.3 1058.3L427.1 1059.5L399.3 1058.8L375.3 1056.7L370.1 1055.5L365.6 1053.4L361.4 1050L357.9 1045.5L355.3 1040.3L353.8 1034.3L353.1 1025.3L353.4 1016.3L354.8 1010.3L357.1 1005L361.1 998.8L364.8 994.8L369.3 992.1L375.3 990.6L399.3 988.4L426.3 987.8ZM422.8 1005L414.3 1005.8L397.8 1006L385.1 1008.5L376.1 1009.6L371.6 1011.3L369.3 1013.3L367.5 1016.3L366.8 1019.3L366.5 1023.8L366.9 1029L367.8 1032.6L369.3 1035.4L371.6 1037.6L376.1 1039.4L400.8 1043.4L413.6 1043.4L428.6 1044.4L446.6 1042.6L464.6 1042.9L473.6 1042.4L480.3 1041.5L485.6 1040.3L487.8 1039L489.3 1036.7L490.8 1029.8L490.9 1019.3L490.1 1014L489.2 1011.8L487.8 1010.1L486.3 1009.1L483.3 1008.2L472.1 1006.7L463.8 1006.4L447.3 1006.7L431.6 1004.9L423.3 1005Z" clip-path="url(#p263a6c56a1)" style="fill: #ff7f0e; fill-opacity: 0.5"/>
<path d="M423.3 1005L431.6 1004.9L447.3 1006.7L463.8 1006.4L472.1 1006.7L483.3 1008.2L486.3 1009.1L487.8 1010.1L489.2 1011.8L490.1 1014L490.9 1019.3L490.8 1029.8L489.3 1036.7L487.8 1039L485.6 1040.3L480.3 1041.5L473.6 1042.4L464.6 1042.9L446.6 1042.6L428.6 1044.4L413.6 1043.4L400.8 1043.4L376.1 1039.4L371.6 1037.6L369.3 1035.4L367.8 1032.6L366.9 1029L366.5 1023.8L366.8 1019.3L367.5 1016.3L369.3 1013.3L371.6 1011.3L376.1 1009.6L385.1 1008.5L397.8 1006L414.3 1005.8L422.8 1005Z" clip-path="url(#p263a6c56a1)" style="fill: #ff7f0e"/>
</g>
<g id="matplotlib.axis_33">
<g id="xtick_74">
<g id="line2d_252">
<g>
<path d="M0 0L0 -11.4" transform="translate(325.115629 1107.6)" style="stroke: #000000; stroke-width: 2.5"/>
</g>
</g>
<g id="line2d_253">
<g>
<path d="M0 0L0 11.4" transform="translate(325.115629 933.8)" style="stroke: #000000; stroke-width: 2.5"/>
</g>
</g>
<g id="text_28">
<text style="font-size: 25px; font-family: 'DejaVu Sans', sans-serif" transform="translate(315.937052 1161.145286) rotate(-45)">0.0</text>
</g>
</g>
<g id="xtick_75">
<g id="line2d_254">
<g>
<path d="M0 0L0 -11.4" transform="translate(365.668524 1107.6)" style="stroke: #000000; stroke-width: 2.5"/>
</g>
</g>
<g id="line2d_255">
<g>
<path d="M0 0L0 11.4" transform="translate(365.668524 933.8)" style="stroke: #000000; stroke-width: 2.5"/>
</g>
</g>
<g id="text_29">
<text style="font-size: 25px; font-family: 'DejaVu Sans', sans-serif" transform="translate(356.489947 1161.145286) rotate(-45)">0.5</text>
</g>
</g>
<g id="xtick_76">
<g id="line2d_256">
<g>
<path d="M0 0L0 -11.4" transform="translate(406.221419 1107.6)" style="stroke: #000000; stroke-width: 2.5"/>
</g>
</g>
<g id="line2d_257">
<g>
<path d="M0 0L0 11.4" transform="translate(406.221419 933.8)" style="stroke: #000000; stroke-width: 2.5"/>
</g>
</g>
<g id="text_30">
<text style="font-size: 25px; font-family: 'DejaVu Sans', sans-serif" transform="translate(397.042842 1161.145286) rotate(-45)">1.0</text>
</g>
</g>
<g id="xtick_77">
<g id="line2d_258">
<g>
<path d="M0 0L0 -11.4" transform="translate(446.774314 1107.6)" style="stroke: #000000; stroke-width: 2.5"/>
</g>
</g>
<g id="line2d_259">
<g>
<path d="M0 0L0 11.4" transform="translate(446.774314 933.8)" style="stroke: #000000; stroke-width: 2.5"/>
</g>
</g>
<g id="text_31">
<text style="font-size: 25px; font-family: 'DejaVu Sans', sans-serif" transform="translate(437.595737 1161.145286) rotate(-45)">1.5</text>
</g>
</g>
<g id="xtick_78">
<g id="line2d_260">
<g>
<path d="M0 0L0 -11.4" transform="translate(487.327209 1107.6)" style="stroke: #000000; stroke-width: 2.5"/>
</g>
</g>
<g id="line2d_261">
<g>
<path d="M0 0L0 11.4" transform="translate(487.327209 933.8)" style="stroke: #000000; stroke-width: 2.5"/>
</g>
</g>
<g id="text_32">
<text style="font-size: 25px; font-family: 'DejaVu Sans', sans-serif" transform="translate(478.148632 1161.145286) rotate(-45)">2.0</text>
</g>
</g>
</g>
<g id="matplotlib.axis_34">
<g id="ytick_51">
<g id="line2d_262">
<g>
<path d="M0 0L11.4 0" transform="translate(309.3 1080.890476)" style="stroke: #000000; stroke-width: 2.5"/>
</g>
</g>
<g id="line2d_263">
<g>
<path d="M0 0L-11.4 0" transform="translate(495.6 1080.890476)" style="stroke: #000000; stroke-width: 2.5"/>
</g>
</g>
</g>
<g id="ytick_52">
<g id="line2d_264">
<g>
<path d="M0 0L11.4 0" transform="translate(309.3 1043.271429)" style="stroke: #000000; stroke-width: 2.5"/>
</g>
</g>
<g id="line2d_265">
<g>
<path d="M0 0L-11.4 0" transform="translate(495.6 1043.271429)" style="stroke: #000000; stroke-width: 2.5"/>
</g>
</g>
</g>
<g id="ytick_53">
<g id="line2d_266">
<g>
<path d="M0 0L11.4 0" transform="translate(309.3 1005.652381)" style="stroke: #000000; stroke-width: 2.5"/>
</g>
</g>
<g id="line2d_267">
<g>
<path d="M0 0L-11.4 0" transform="translate(495.6 1005.652381)" style="stroke: #000000; stroke-width: 2.5"/>
</g>
</g>
</g>
<g id="ytick_54">
<g id="line2d_268">
<g>
<path d="M0 0L11.4 0" transform="translate(309.3 968.033333)" style="stroke: #000000; stroke-width: 2.5"/>
</g>
</g>
<g id="line2d_269">
<g>
<path d="M0 0L-11.4 0" transform="translate(495.6 968.033333)" style="stroke: #000000; stroke-width: 2.5"/>
</g>
</g>
</g>
</g>
<g id="QuadContourSet_24">
<path d="M401.6 966L414.3 966L428.6 965.4L446.6 966.7L472.8 966.7L486.3 968.2L488.6 969.1L490.8 971.3L492.8 975L495.1 981L497.9 993L499.7 1010.3L499.9 1030.5L498.8 1047.8L496.3 1062L492.5 1076.3L490.8 1079.7L488.6 1082L483.3 1083.5L469.1 1084.6L446.6 1084.5L428.6 1085.8L397.8 1084.9L375.3 1082.6L370.8 1081.5L367.1 1079.8L364.1 1077.5L358.1 1070.8L350.1 1059L345 1050L341.9 1042.5L340 1035L339.3 1024.5L339.8 1014.8L341.4 1008L345.6 996.8L349.4 989.3L353.8 983.3L361.1 975.7L367.1 971.2L370.8 969.5L374.6 968.6L401.6 966Z" clip-path="url(#p263a6c56a1)" style="fill: none; stroke: #ff7f0e; stroke-width: 4.7"/>
<path d="M426.3 987.8L446.6 988.9L466.1 988.7L476.6 989.1L486.3 990.2L488.6 991.1L490.1 992.3L492.5 996.8L494.7 1005.8L495.7 1014L496 1023.8L495.7 1035L494.7 1043.3L492.7 1050.8L490.1 1055L487.8 1056.5L485.6 1057.1L471.3 1058.4L446.6 1058.3L428.6 1059.5L400.1 1058.8L372.3 1056.2L366.3 1053.9L361.1 1049.7L357 1044L354.4 1037.3L353.2 1029.8L353.2 1019.3L353.9 1013.3L356 1007.3L359.8 1000.5L364.1 995.5L369.3 992.1L375.3 990.6L399.3 988.4L426.3 987.8Z" clip-path="url(#p263a6c56a1)" style="fill: none; stroke: #ff7f0e; stroke-width: 4.7"/>
<path d="M423.3 1005L431.6 1004.9L447.3 1006.7L471.3 1006.6L480.3 1007.6L486.3 1009.1L487.8 1010.1L489.3 1012.1L490.7 1017.8L490.8 1029.2L490.3 1033.5L489.3 1036.7L487.8 1039L485.6 1040.3L476.6 1042.1L466.1 1042.8L446.6 1042.6L428.6 1044.4L414.3 1043.5L398.6 1043.3L385.1 1040.6L376.6 1039.5L373.1 1038.5L370.3 1036.5L368.6 1034.2L367.2 1030.5L366.6 1026L366.6 1020.8L367.3 1017L368.7 1014L371.6 1011.3L376.1 1009.6L385.1 1008.5L397.8 1006L414.3 1005.8L423.3 1005Z" clip-path="url(#p263a6c56a1)" style="fill: none; stroke: #ff7f0e; stroke-width: 4.7"/>
</g>
<g id="patch_83">
<path d="M309.3 1107.6L309.3 933.8" style="fill: none; stroke: #000000; stroke-width: 2.5; stroke-linejoin: miter; stroke-linecap: square"/>
</g>
<g id="patch_84">
<path d="M495.6 1107.6L495.6 933.8" style="fill: none; stroke: #000000; stroke-width: 2.5; stroke-linejoin: miter; stroke-linecap: square"/>
</g>
<g id="patch_85">
<path d="M309.3 1107.6L495.6 1107.6" style="fill: none; stroke: #000000; stroke-width: 2.5; stroke-linejoin: miter; stroke-linecap: square"/>
</g>
<g id="patch_86">
<path d="M309.3 933.8L495.6 933.8" style="fill: none; stroke: #000000; stroke-width: 2.5; stroke-linejoin: miter; stroke-linecap: square"/>
</g>
</g>
<g id="axes_18">
<g id="patch_87">
<path d="M505.2 1107.6L691.5 1107.6L691.5 933.8L505.2 933.8Z" style="fill: #ffffff"/>
</g>
<g id="QuadContourSet_25">
<path d="M555.5 961.5L563 961.7L569.7 962.5L576.5 964.1L583.2 966.4L593 971L620 986.6L632 996.3L648.4 1011.8L654.1 1020L659.2 1032L660.1 1036.5L660 1041L658.8 1045.5L656.8 1049.3L650.5 1056.8L632 1074.4L622.2 1082.8L617.7 1085.6L605 1090L594.5 1091.4L587.7 1091.2L581.7 1090.3L569 1086.7L557.7 1081.8L530.8 1068L521.7 1064.4L517.2 1061.2L513.7 1057.5L511.3 1053.8L509.3 1048.5L507.6 1041.8L506.3 1032L505.4 1017.8L505.5 1006.5L507.2 987L510.1 974.3L512.7 967.1L514.2 965L515.7 964L520.2 962.9L530 963.6L554.7 961.5ZM556 984.8L545.7 985.9L529.2 988.5L521.7 988.6L518 989.9L515 991.9L513.3 994.5L512 999L510.4 1011.8L510.6 1018.5L511.4 1026L512.4 1031.3L513.9 1035.8L517.2 1040.9L521.7 1044.6L553.2 1056.5L566 1060.8L575 1063.1L583.2 1064.3L591.5 1064.3L602 1062.4L611.7 1058.6L620 1054.2L626.2 1047.8L629.7 1041.8L630.8 1035.8L629.9 1029L626.3 1018.5L622.4 1011.8L618.5 1007.5L605 997.1L595.2 991.3L587 988.1L577.2 985.7L566.7 984.6L556.2 984.8Z" clip-path="url(#p836a0523de)" style="fill: #ff7f0e; fill-opacity: 0.25"/>
<path d="M556.2 984.8L566.7 984.6L577.2 985.7L587 988.1L595.2 991.3L605 997.1L618.5 1007.5L622.4 1011.8L626.3 1018.5L629.9 1029L630.8 1035.8L629.7 1041.8L626.2 1047.8L620 1054.2L611.7 1058.6L602 1062.4L591.5 1064.3L583.2 1064.3L575 1063.1L566 1060.8L553.2 1056.5L521.7 1044.6L517.2 1040.9L513.9 1035.8L512.4 1031.3L511.4 1026L510.6 1018.5L510.4 1011.8L512 999L513.3 994.5L515 991.9L518 989.9L521.7 988.6L529.2 988.5L545.7 985.9L556 984.8ZM566.7 999.8L560 1000.4L552.5 1002.2L545 1004.9L538.5 1008L535.2 1010.3L532.6 1013.3L531.7 1016.3L532.4 1020L535.4 1026L539.9 1032L544.9 1036.5L551 1040.5L559.2 1044.5L568.2 1047.6L576.5 1049.3L584.7 1049.8L592.2 1049L598.2 1047.2L603.5 1044.4L607 1041L609.1 1037.3L609.9 1033.5L609.4 1028.3L607.7 1022.3L605.7 1017.8L602.7 1013.6L599 1010.2L593.7 1006.7L587.7 1003.8L581 1001.5L574.2 1000.2L567.5 999.8Z" clip-path="url(#p836a0523de)" style="fill: #ff7f0e; fill-opacity: 0.5"/>
<path d="M567.5 999.8L574.2 1000.2L581 1001.5L587.7 1003.8L593.7 1006.7L599 1010.2L602.7 1013.6L605.7 1017.8L607.7 1022.3L609.4 1028.3L609.9 1033.5L609.1 1037.3L607 1041L603.5 1044.4L598.2 1047.2L592.2 1049L584.7 1049.8L576.5 1049.3L568.2 1047.6L559.2 1044.5L551 1040.5L544.9 1036.5L539.9 1032L535.4 1026L532.4 1020L531.7 1016.3L532.6 1013.3L535.2 1010.3L538.5 1008L545 1004.9L552.5 1002.2L560 1000.4L566.7 999.8Z" clip-path="url(#p836a0523de)" style="fill: #ff7f0e"/>
</g>
<g id="matplotlib.axis_35">
<g id="xtick_79">
<g id="line2d_270">
<g>
<path d="M0 0L0 -11.4" transform="translate(513.387313 1107.6)" style="stroke: #000000; stroke-width: 2.5"/>
</g>
</g>
<g id="line2d_271">
<g>
<path d="M0 0L0 11.4" transform="translate(513.387313 933.8)" style="stroke: #000000; stroke-width: 2.5"/>
</g>
</g>
<g id="text_33">
<text style="font-size: 25px; font-family: 'DejaVu Sans', sans-serif" transform="translate(504.208736 1161.145286) rotate(-45)">5.0</text>
</g>
</g>
<g id="xtick_80">
<g id="line2d_272">
<g>
<path d="M0 0L0 -11.4" transform="translate(552.006716 1107.6)" style="stroke: #000000; stroke-width: 2.5"/>
</g>
</g>
<g id="line2d_273">
<g>
<path d="M0 0L0 11.4" transform="translate(552.006716 933.8)" style="stroke: #000000; stroke-width: 2.5"/>
</g>
</g>
<g id="text_34">
<text style="font-size: 25px; font-family: 'DejaVu Sans', sans-serif" transform="translate(542.828139 1161.145286) rotate(-45)">7.5</text>
</g>
</g>
<g id="xtick_81">
<g id="line2d_274">
<g>
<path d="M0 0L0 -11.4" transform="translate(590.626119 1107.6)" style="stroke: #000000; stroke-width: 2.5"/>
</g>
</g>
<g id="line2d_275">
<g>
<path d="M0 0L0 11.4" transform="translate(590.626119 933.8)" style="stroke: #000000; stroke-width: 2.5"/>
</g>
</g>
<g id="text_35">
<text style="font-size: 25px; font-family: 'DejaVu Sans', sans-serif" transform="translate(575.823833 1172.392703) rotate(-45)">10.0</text>
</g>
</g>
<g id="xtick_82">
<g id="line2d_276">
<g>
<path d="M0 0L0 -11.4" transform="translate(629.245522 1107.6)" style="stroke: #000000; stroke-width: 2.5"/>
</g>
</g>
<g id="line2d_277">
<g>
<path d="M0 0L0 11.4" transform="translate(629.245522 933.8)" style="stroke: #000000; stroke-width: 2.5"/>
</g>
</g>
<g id="text_36">
<text style="font-size: 25px; font-family: 'DejaVu Sans', sans-serif" transform="translate(614.443236 1172.392703) rotate(-45)">12.5</text>
</g>
</g>
<g id="xtick_83">
<g id="line2d_278">
<g>
<path d="M0 0L0 -11.4" transform="translate(667.864925 1107.6)" style="stroke: #000000; stroke-width: 2.5"/>
</g>
</g>
<g id="line2d_279">
<g>
<path d="M0 0L0 11.4" transform="translate(667.864925 933.8)" style="stroke: #000000; stroke-width: 2.5"/>
</g>
</g>
<g id="text_37">
<text style="font-size: 25px; font-family: 'DejaVu Sans', sans-serif" transform="translate(653.062639 1172.392703) rotate(-45)">15.0</text>
</g>
</g>
</g>
<g id="matplotlib.axis_36">
<g id="ytick_55">
<g id="line2d_280">
<g>
<path d="M0 0L11.4 0" transform="translate(505.2 1080.890476)" style="stroke: #000000; stroke-width: 2.5"/>
</g>
</g>
<g id="line2d_281">
<g>
<path d="M0 0L-11.4 0" transform="translate(691.5 1080.890476)" style="stroke: #000000; stroke-width: 2.5"/>
</g>
</g>
</g>
<g id="ytick_56">
<g id="line2d_282">
<g>
<path d="M0 0L11.4 0" transform="translate(505.2 1043.271429)" style="stroke: #000000; stroke-width: 2.5"/>
</g>
</g>
<g id="line2d_283">
<g>
<path d="M0 0L-11.4 0" transform="translate(691.5 1043.271429)" style="stroke: #000000; stroke-width: 2.5"/>
</g>
</g>
</g>
<g id="ytick_57">
<g id="line2d_284">
<g>
<path d="M0 0L11.4 0" transform="translate(505.2 1005.652381)" style="stroke: #000000; stroke-width: 2.5"/>
</g>
</g>
<g id="line2d_285">
<g>
<path d="M0 0L-11.4 0" transform="translate(691.5 1005.652381)" style="stroke: #000000; stroke-width: 2.5"/>
</g>
</g>
</g>
<g id="ytick_58">
<g id="line2d_286">
<g>
<path d="M0 0L11.4 0" transform="translate(505.2 968.033333)" style="stroke: #000000; stroke-width: 2.5"/>
</g>
</g>
<g id="line2d_287">
<g>
<path d="M0 0L-11.4 0" transform="translate(691.5 968.033333)" style="stroke: #000000; stroke-width: 2.5"/>
</g>
</g>
</g>
</g>
<g id="QuadContourSet_26">
<path d="M555.5 961.5L562.2 961.7L569 962.4L575 963.7L581.7 965.8L593 971L618.5 985.7L629.7 994.3L644.8 1008L650.3 1014L654.1 1020L658.1 1029L660 1035.8L659.9 1041.8L657.7 1047.8L654 1053L649 1058.3L630.5 1075.7L619.2 1084.9L607.2 1089.4L598.2 1091.1L587 1091.1L575.7 1088.9L561.5 1083.6L532.4 1068.8L521.7 1064.4L515.7 1059.8L511.7 1054.5L509.3 1048.5L507.1 1038.8L505.7 1024.5L505.3 1011.8L506.1 996L507.1 987.8L509.9 975L512.5 967.5L515 964.4L520.2 962.9L530 963.6L555.5 961.5Z" clip-path="url(#p836a0523de)" style="fill: none; stroke: #ff7f0e; stroke-width: 4.7"/>
<path d="M556.2 984.8L565.2 984.5L573.5 985.1L581.7 986.6L590 989.1L596.7 992.1L602.7 995.6L620 1008.9L623.4 1013.3L626.6 1019.3L629.5 1027.5L630.8 1034.3L630.6 1038.8L629.1 1043.3L626.2 1047.8L622.2 1052.3L617 1056L608 1060.3L602 1062.4L592.2 1064.2L581.7 1064.1L571.2 1062.3L557 1057.9L522.5 1045L518 1041.7L515 1038L513 1033.5L511.7 1027.5L510.6 1018.5L510.4 1011.8L511 1004.3L512.6 996.8L514.2 992.9L517.2 990.2L521.7 988.6L529.2 988.5L545.7 985.9L556.2 984.8Z" clip-path="url(#p836a0523de)" style="fill: none; stroke: #ff7f0e; stroke-width: 4.7"/>
<path d="M567.5 999.8L578 1000.8L587.7 1003.8L596.7 1008.6L603.1 1014L605.3 1017L607.4 1021.5L609.1 1026.8L609.9 1031.3L609.7 1035L608.9 1038L607 1041L604.9 1043.3L599 1046.9L591.5 1049.1L582.5 1049.7L573.5 1048.8L563.7 1046.2L554 1042.1L545.7 1037.1L539.2 1031.3L535 1025.3L532.2 1019.3L531.8 1015.5L533.7 1011.8L536.2 1009.5L539.7 1007.4L548.7 1003.4L558.5 1000.7L567.5 999.8Z" clip-path="url(#p836a0523de)" style="fill: none; stroke: #ff7f0e; stroke-width: 4.7"/>
</g>
<g id="patch_88">
<path d="M505.2 1107.6L505.2 933.8" style="fill: none; stroke: #000000; stroke-width: 2.5; stroke-linejoin: miter; stroke-linecap: square"/>
</g>
<g id="patch_89">
<path d="M691.5 1107.6L691.5 933.8" style="fill: none; stroke: #000000; stroke-width: 2.5; stroke-linejoin: miter; stroke-linecap: square"/>
</g>
<g id="patch_90">
<path d="M505.2 1107.6L691.5 1107.6" style="fill: none; stroke: #000000; stroke-width: 2.5; stroke-linejoin: miter; stroke-linecap: square"/>
</g>
<g id="patch_91">
<path d="M505.2 933.8L691.5 933.8" style="fill: none; stroke: #000000; stroke-width: 2.5; stroke-linejoin: miter; stroke-linecap: square"/>
</g>
</g>
<g id="axes_19">
<g id="patch_92">
<path d="M701.1 1107.6L887.4 1107.6L887.4 933.8L701.1 933.8Z" style="fill: #ffffff"/>
</g>
<g id="QuadContourSet_27">
<path d="M802.4 958.5L806.9 958.6L812.1 959.6L818.9 961.9L824.1 964.2L834.6 970.9L854.7 986.3L861.5 993.8L868.1 1005L871 1012.5L872.1 1020.8L871.8 1031.3L870.1 1039.5L866 1047.8L859.4 1056.2L842.1 1073.6L830.9 1082.9L825.6 1086.2L820.4 1088.7L812.9 1091.4L806.9 1092.6L799.4 1092.2L785.9 1088.8L781.4 1086.3L774.6 1081.8L765.6 1074.6L748.4 1057.4L740.6 1047.8L738.1 1043.3L736.1 1038L735 1032.8L734.5 1026.8L734.9 1016.3L736.8 1008.8L743.6 996L749.5 988.5L755.1 983.6L764.9 976.2L782.9 963.9L788.9 961.4L802.3 958.5ZM800.9 982.5L788.9 984.8L783.6 986.5L773.9 992.1L767.1 997.6L760.1 1005.8L756.3 1012.5L754.8 1019.3L754.8 1028.3L756 1035L758.5 1041L763.2 1047L769.4 1052.3L780.6 1059.3L786.6 1062.2L800.1 1065.5L806.9 1065.8L815.1 1063.8L825.6 1059.5L836.1 1053.2L843.5 1047L847.6 1041.8L850.4 1035.8L851.7 1029L851.8 1020L850.6 1013.3L847.6 1007.3L840.9 999L833.9 992.6L826.4 988.1L818.9 985.1L809.1 982.7L801.6 982.5Z" clip-path="url(#pf6bf1bd8ca)" style="fill: #ff7f0e; fill-opacity: 0.25"/>
<path d="M801.6 982.5L809.1 982.7L818.9 985.1L826.4 988.1L833.9 992.6L840.9 999L847.6 1007.3L850.6 1013.3L851.8 1020L851.7 1029L850.4 1035.8L847.6 1041.8L843.5 1047L836.1 1053.2L825.6 1059.5L815.1 1063.8L806.9 1065.8L800.1 1065.5L786.6 1062.2L780.6 1059.3L769.4 1052.3L763.2 1047L758.5 1041L756 1035L754.8 1028.3L754.8 1019.3L756.3 1012.5L760.1 1005.8L767.1 997.6L773.9 992.1L783.6 986.5L788.9 984.8L800.9 982.5ZM802.1 999L797.9 1000L788.1 1003.4L784.4 1005.6L780.9 1008.8L778.1 1012.5L776.2 1017L775.6 1022.3L775.8 1028.3L776.7 1032.8L778.7 1037.3L781.6 1041L785.1 1044.1L788.9 1046L799.4 1049L803.9 1049.6L807.6 1049.3L813.6 1047.7L819.6 1045L824.1 1041.9L827.1 1038.8L829.4 1035L830.7 1031.3L831.4 1026L831.3 1020L830.5 1016.3L828.8 1012.5L826.4 1009.4L822.6 1006.1L817.4 1002.9L811.4 1000.3L806.9 999.1L802.4 999Z" clip-path="url(#pf6bf1bd8ca)" style="fill: #ff7f0e; fill-opacity: 0.5"/>
<path d="M802.4 999L806.9 999.1L811.4 1000.3L817.4 1002.9L822.6 1006.1L826.4 1009.4L828.8 1012.5L830.5 1016.3L831.3 1020L831.4 1026L830.7 1031.3L829.4 1035L827.1 1038.8L824.1 1041.9L819.6 1045L813.6 1047.7L807.6 1049.3L803.9 1049.6L799.4 1049L788.9 1046L785.1 1044.1L781.6 1041L778.7 1037.3L776.7 1032.8L775.8 1028.3L775.6 1022.3L776.2 1017L778.1 1012.5L780.9 1008.8L784.4 1005.6L788.1 1003.4L797.9 1000L802.1 999Z" clip-path="url(#pf6bf1bd8ca)" style="fill: #ff7f0e"/>
</g>
<g id="matplotlib.axis_37">
<g id="xtick_84">
<g id="line2d_288">
<g>
<path d="M0 0L0 -11.4" transform="translate(717.3 1107.6)" style="stroke: #000000; stroke-width: 2.5"/>
</g>
</g>
<g id="line2d_289">
<g>
<path d="M0 0L0 11.4" transform="translate(717.3 933.8)" style="stroke: #000000; stroke-width: 2.5"/>
</g>
</g>
<g id="text_38">
<text style="font-size: 25px; font-family: 'DejaVu Sans', sans-serif" transform="translate(700.714755 1175.95862) rotate(-45)">−1.5</text>
</g>
</g>
<g id="xtick_85">
<g id="line2d_290">
<g>
<path d="M0 0L0 -11.4" transform="translate(757.8 1107.6)" style="stroke: #000000; stroke-width: 2.5"/>
</g>
</g>
<g id="line2d_291">
<g>
<path d="M0 0L0 11.4" transform="translate(757.8 933.8)" style="stroke: #000000; stroke-width: 2.5"/>
</g>
</g>
<g id="text_39">
<text style="font-size: 25px; font-family: 'DejaVu Sans', sans-serif" transform="translate(741.214755 1175.95862) rotate(-45)">−1.0</text>
</g>
</g>
<g id="xtick_86">
<g id="line2d_292">
<g>
<path d="M0 0L0 -11.4" transform="translate(798.3 1107.6)" style="stroke: #000000; stroke-width: 2.5"/>
</g>
</g>
<g id="line2d_293">
<g>
<path d="M0 0L0 11.4" transform="translate(798.3 933.8)" style="stroke: #000000; stroke-width: 2.5"/>
</g>
</g>
<g id="text_40">
<text style="font-size: 25px; font-family: 'DejaVu Sans', sans-serif" transform="translate(781.714755 1175.95862) rotate(-45)">−0.5</text>
</g>
</g>
<g id="xtick_87">
<g id="line2d_294">
<g>
<path d="M0 0L0 -11.4" transform="translate(838.8 1107.6)" style="stroke: #000000; stroke-width: 2.5"/>
</g>
</g>
<g id="line2d_295">
<g>
<path d="M0 0L0 11.4" transform="translate(838.8 933.8)" style="stroke: #000000; stroke-width: 2.5"/>
</g>
</g>
<g id="text_41">
<text style="font-size: 25px; font-family: 'DejaVu Sans', sans-serif" transform="translate(829.621423 1161.145286) rotate(-45)">0.0</text>
</g>
</g>
<g id="xtick_88">
<g id="line2d_296">
<g>
<path d="M0 0L0 -11.4" transform="translate(879.3 1107.6)" style="stroke: #000000; stroke-width: 2.5"/>
</g>
</g>
<g id="line2d_297">
<g>
<path d="M0 0L0 11.4" transform="translate(879.3 933.8)" style="stroke: #000000; stroke-width: 2.5"/>
</g>
</g>
<g id="text_42">
<text style="font-size: 25px; font-family: 'DejaVu Sans', sans-serif" transform="translate(870.121423 1161.145286) rotate(-45)">0.5</text>
</g>
</g>
</g>
<g id="matplotlib.axis_38">
<g id="ytick_59">
<g id="line2d_298">
<g>
<path d="M0 0L11.4 0" transform="translate(701.1 1080.890476)" style="stroke: #000000; stroke-width: 2.5"/>
</g>
</g>
<g id="line2d_299">
<g>
<path d="M0 0L-11.4 0" transform="translate(887.4 1080.890476)" style="stroke: #000000; stroke-width: 2.5"/>
</g>
</g>
</g>
<g id="ytick_60">
<g id="line2d_300">
<g>
<path d="M0 0L11.4 0" transform="translate(701.1 1043.271429)" style="stroke: #000000; stroke-width: 2.5"/>
</g>
</g>
<g id="line2d_301">
<g>
<path d="M0 0L-11.4 0" transform="translate(887.4 1043.271429)" style="stroke: #000000; stroke-width: 2.5"/>
</g>
</g>
</g>
<g id="ytick_61">
<g id="line2d_302">
<g>
<path d="M0 0L11.4 0" transform="translate(701.1 1005.652381)" style="stroke: #000000; stroke-width: 2.5"/>
</g>
</g>
<g id="line2d_303">
<g>
<path d="M0 0L-11.4 0" transform="translate(887.4 1005.652381)" style="stroke: #000000; stroke-width: 2.5"/>
</g>
</g>
</g>
<g id="ytick_62">
<g id="line2d_304">
<g>
<path d="M0 0L11.4 0" transform="translate(701.1 968.033333)" style="stroke: #000000; stroke-width: 2.5"/>
</g>
</g>
<g id="line2d_305">
<g>
<path d="M0 0L-11.4 0" transform="translate(887.4 968.033333)" style="stroke: #000000; stroke-width: 2.5"/>
</g>
</g>
</g>
</g>
<g id="QuadContourSet_28">
<path d="M802.4 958.5L806.9 958.6L812.1 959.6L818.9 961.9L824.1 964.2L834.6 970.9L854.9 986.4L858.6 990.2L862.1 994.5L868.4 1005.8L871.2 1013.3L872.1 1022.3L871.5 1033.5L869.2 1041.8L864.4 1050L856.7 1059L839.9 1075.7L828.6 1084.4L822.6 1087.7L816.6 1090.2L809.9 1092.1L804.6 1092.7L797.1 1091.7L788.1 1089.6L784.4 1088.1L771.6 1079.6L762.6 1071.8L747.1 1056L742.7 1050.8L739.7 1046.3L737.4 1041.8L735.9 1037.3L734.9 1032L734.5 1025.3L735 1015.5L736.8 1008.8L743.6 996L749.9 988.2L755.9 983L767.1 974.6L782.9 963.9L788.9 961.4L802.4 958.5Z" clip-path="url(#pf6bf1bd8ca)" style="fill: none; stroke: #ff7f0e; stroke-width: 4.7"/>
<path d="M801.6 982.5L809.1 982.7L818.9 985.1L827.1 988.5L834.4 993L841.6 999.8L848.1 1008L850.8 1014L851.9 1020.8L851.6 1029.8L850.2 1036.5L847.1 1042.5L842.7 1047.8L834.6 1054.3L824.9 1059.9L814.4 1064L809.1 1065.4L805.4 1065.9L799.4 1065.4L785.9 1061.9L774.6 1055.7L767.9 1051.2L762.4 1046.3L758.1 1040.3L755.8 1034.3L754.8 1026.8L755 1017.8L756.9 1011L761.2 1004.3L768 996.8L775.4 991.1L784.4 986.2L789.6 984.6L801.6 982.5Z" clip-path="url(#pf6bf1bd8ca)" style="fill: none; stroke: #ff7f0e; stroke-width: 4.7"/>
<path d="M802.4 999L806.9 999.1L811.4 1000.3L818.1 1003.3L823.4 1006.7L826.5 1009.5L829.3 1013.3L830.8 1017L831.4 1021.5L831.3 1027.5L830.3 1032.8L828.6 1036.5L825.8 1040.3L821.9 1043.6L816.6 1046.5L810.6 1048.7L805.4 1049.6L800.1 1049.2L791.1 1046.7L787.4 1045.4L784 1043.3L780.3 1039.5L777.9 1035.8L776.3 1031.3L775.6 1026L775.6 1020.8L776.4 1016.3L778.6 1011.8L781.6 1008L785.1 1005.1L788.1 1003.4L797.9 1000L802.4 999Z" clip-path="url(#pf6bf1bd8ca)" style="fill: none; stroke: #ff7f0e; stroke-width: 4.7"/>
</g>
<g id="patch_93">
<path d="M701.1 1107.6L701.1 933.8" style="fill: none; stroke: #000000; stroke-width: 2.5; stroke-linejoin: miter; stroke-linecap: square"/>
</g>
<g id="patch_94">
<path d="M887.4 1107.6L887.4 933.8" style="fill: none; stroke: #000000; stroke-width: 2.5; stroke-linejoin: miter; stroke-linecap: square"/>
</g>
<g id="patch_95">
<path d="M701.1 1107.6L887.4 1107.6" style="fill: none; stroke: #000000; stroke-width: 2.5; stroke-linejoin: miter; stroke-linecap: square"/>
</g>
<g id="patch_96">
<path d="M701.1 933.8L887.4 933.8" style="fill: none; stroke: #000000; stroke-width: 2.5; stroke-linejoin: miter; stroke-linecap: square"/>
</g>
</g>
<g id="axes_20">
<g id="patch_97">
<path d="M897 1107.6L1083.3 1107.6L1083.3 933.8L897 933.8Z" style="fill: #ffffff"/>
</g>
<g id="QuadContourSet_29">
<path d="M1053 963.7L1054.5 963.8L1055.2 964.3L1055.3 966.8L1052.7 972L1048.3 978L1032.2 996L1010.2 1017.4L985.5 1039.2L960 1059.4L949.5 1066.9L939 1073.7L932.2 1077.3L927 1079.2L925.5 1079.3L924.3 1078.5L924.2 1076.3L926.4 1071.8L931.8 1064.3L948 1046.3L972.8 1022.5L996.8 1001.6L1021.5 982.2L1040.2 969.5L1047.8 965.5L1052.7 963.8ZM1033.9 980.3L1029.8 982.1L1024.5 985.1L1009.5 995.6L990.8 1010.6L972 1027.4L956.7 1042.5L946.4 1054.5L943.9 1058.3L942.6 1061.3L943.1 1062.8L945.8 1062.7L950.2 1060.7L956.2 1057.2L971.2 1046.6L987.8 1033.3L1006.5 1016.7L1022.1 1001.3L1032.6 989.3L1035.7 984.8L1037 981.8L1036.5 980.2L1034.2 980.2Z" clip-path="url(#p824a0c52c8)" style="fill: #ff7f0e; fill-opacity: 0.25"/>
<path d="M1034.2 980.2L1036.5 980.2L1037 981.8L1035.7 984.8L1032.6 989.3L1022.1 1001.3L1006.5 1016.7L987.8 1033.3L971.2 1046.6L956.2 1057.2L950.2 1060.7L945.8 1062.7L943.1 1062.8L942.6 1061.3L943.9 1058.3L946.4 1054.5L956.7 1042.5L972 1027.4L990.8 1010.6L1009.5 995.6L1024.5 985.1L1029.8 982.1L1033.9 980.3ZM1017.3 996L1011.8 998.7L1002.8 1004.9L991.5 1013.9L981 1023.1L971 1032.8L963.7 1041L960.9 1045.5L960.8 1046.5L961.4 1047L962.2 1047L967.5 1044.5L976.5 1038.3L987.8 1029.4L999 1019.5L1008.5 1010.3L1015.2 1002.8L1018.7 997.5L1018.6 996L1017.8 996Z" clip-path="url(#p824a0c52c8)" style="fill: #ff7f0e; fill-opacity: 0.5"/>
<path d="M1017.8 996L1018.6 996L1018.7 997.5L1015.2 1002.8L1008.5 1010.3L999 1019.5L987.8 1029.4L976.5 1038.3L967.5 1044.5L962.2 1047L961.4 1047L960.8 1046.5L960.9 1045.5L963.7 1041L971 1032.8L981 1023.1L991.5 1013.9L1002.8 1004.9L1011.8 998.7L1017.3 996Z" clip-path="url(#p824a0c52c8)" style="fill: #ff7f0e"/>
</g>
<g id="matplotlib.axis_39">
<g id="xtick_89">
<g id="line2d_306">
<g>
<path d="M0 0L0 -11.4" transform="translate(905.483607 1107.6)" style="stroke: #000000; stroke-width: 2.5"/>
</g>
</g>
<g id="line2d_307">
<g>
<path d="M0 0L0 11.4" transform="translate(905.483607 933.8)" style="stroke: #000000; stroke-width: 2.5"/>
</g>
</g>
<g id="text_43">
<text style="font-size: 25px; font-family: 'DejaVu Sans', sans-serif" transform="translate(893.490413 1166.774518) rotate(-45)">165</text>
</g>
</g>
<g id="xtick_90">
<g id="line2d_308">
<g>
<path d="M0 0L0 -11.4" transform="translate(956.385246 1107.6)" style="stroke: #000000; stroke-width: 2.5"/>
</g>
</g>
<g id="line2d_309">
<g>
<path d="M0 0L0 11.4" transform="translate(956.385246 933.8)" style="stroke: #000000; stroke-width: 2.5"/>
</g>
</g>
<g id="text_44">
<text style="font-size: 25px; font-family: 'DejaVu Sans', sans-serif" transform="translate(944.392052 1166.774518) rotate(-45)">180</text>
</g>
</g>
<g id="xtick_91">
<g id="line2d_310">
<g>
<path d="M0 0L0 -11.4" transform="translate(1007.286885 1107.6)" style="stroke: #000000; stroke-width: 2.5"/>
</g>
</g>
<g id="line2d_311">
<g>
<path d="M0 0L0 11.4" transform="translate(1007.286885 933.8)" style="stroke: #000000; stroke-width: 2.5"/>
</g>
</g>
<g id="text_45">
<text style="font-size: 25px; font-family: 'DejaVu Sans', sans-serif" transform="translate(995.293691 1166.774518) rotate(-45)">195</text>
</g>
</g>
<g id="xtick_92">
<g id="line2d_312">
<g>
<path d="M0 0L0 -11.4" transform="translate(1058.188525 1107.6)" style="stroke: #000000; stroke-width: 2.5"/>
</g>
</g>
<g id="line2d_313">
<g>
<path d="M0 0L0 11.4" transform="translate(1058.188525 933.8)" style="stroke: #000000; stroke-width: 2.5"/>
</g>
</g>
<g id="text_46">
<text style="font-size: 25px; font-family: 'DejaVu Sans', sans-serif" transform="translate(1046.195331 1166.774518) rotate(-45)">210</text>
</g>
</g>
</g>
<g id="matplotlib.axis_40">
<g id="ytick_63">
<g id="line2d_314">
<g>
<path d="M0 0L11.4 0" transform="translate(897 1080.890476)" style="stroke: #000000; stroke-width: 2.5"/>
</g>
</g>
<g id="line2d_315">
<g>
<path d="M0 0L-11.4 0" transform="translate(1083.3 1080.890476)" style="stroke: #000000; stroke-width: 2.5"/>
</g>
</g>
</g>
<g id="ytick_64">
<g id="line2d_316">
<g>
<path d="M0 0L11.4 0" transform="translate(897 1043.271429)" style="stroke: #000000; stroke-width: 2.5"/>
</g>
</g>
<g id="line2d_317">
<g>
<path d="M0 0L-11.4 0" transform="translate(1083.3 1043.271429)" style="stroke: #000000; stroke-width: 2.5"/>
</g>
</g>
</g>
<g id="ytick_65">
<g id="line2d_318">
<g>
<path d="M0 0L11.4 0" transform="translate(897 1005.652381)" style="stroke: #000000; stroke-width: 2.5"/>
</g>
</g>
<g id="line2d_319">
<g>
<path d="M0 0L-11.4 0" transform="translate(1083.3 1005.652381)" style="stroke: #000000; stroke-width: 2.5"/>
</g>
</g>
</g>
<g id="ytick_66">
<g id="line2d_320">
<g>
<path d="M0 0L11.4 0" transform="translate(897 968.033333)" style="stroke: #000000; stroke-width: 2.5"/>
</g>
</g>
<g id="line2d_321">
<g>
<path d="M0 0L-11.4 0" transform="translate(1083.3 968.033333)" style="stroke: #000000; stroke-width: 2.5"/>
</g>
</g>
</g>
</g>
<g id="QuadContourSet_30">
<path d="M1053 963.7L1054.5 963.8L1055.4 964.5L1055.1 967.5L1051.6 973.5L1045.9 981L1027.8 1000.5L1002.8 1024.2L973.5 1049L949.5 1066.9L939 1073.7L932.2 1077.3L927 1079.2L925.5 1079.3L924.3 1078.5L924.1 1077L924.5 1075.5L927.4 1070.3L931.8 1064.3L939.5 1055.3L959.2 1035.2L980.2 1015.8L1005 994.9L1026.8 978.4L1043.2 967.8L1049.2 964.8L1053 963.7Z" clip-path="url(#p824a0c52c8)" style="fill: none; stroke: #ff7f0e; stroke-width: 4.7"/>
<path d="M1034.2 980.2L1036.7 980.3L1037 981L1036.8 982.5L1034.7 986.3L1030.8 991.5L1017.7 1005.8L999 1023.5L978.8 1040.7L960.8 1054.2L954 1058.6L948 1061.8L944.2 1063L942.8 1062.5L942.8 1060.5L944.3 1057.5L951.2 1048.5L963.3 1035.8L979.5 1020.5L996 1006.2L1012.5 993.3L1025.2 984.6L1030.5 981.7L1034.2 980.2Z" clip-path="url(#p824a0c52c8)" style="fill: none; stroke: #ff7f0e; stroke-width: 4.7"/>
<path d="M1017.8 996L1018.6 996L1018.9 996.8L1018.4 998.3L1014 1004.3L1005.5 1013.3L993.8 1024.3L982.5 1033.7L971.2 1042.1L963.8 1046.5L961.5 1047.1L960.8 1046.5L962.1 1043.3L966.8 1037.3L974.7 1029L984.8 1019.7L995.2 1010.8L1005 1003.3L1012.5 998.3L1017.8 996Z" clip-path="url(#p824a0c52c8)" style="fill: none; stroke: #ff7f0e; stroke-width: 4.7"/>
</g>
<g id="patch_98">
<path d="M897 1107.6L897 933.8" style="fill: none; stroke: #000000; stroke-width: 2.5; stroke-linejoin: miter; stroke-linecap: square"/>
</g>
<g id="patch_99">
<path d="M1083.3 1107.6L1083.3 933.8" style="fill: none; stroke: #000000; stroke-width: 2.5; stroke-linejoin: miter; stroke-linecap: square"/>
</g>
<g id="patch_100">
<path d="M897 1107.6L1083.3 1107.6" style="fill: none; stroke: #000000; stroke-width: 2.5; stroke-linejoin: miter; stroke-linecap: square"/>
</g>
<g id="patch_101">
<path d="M897 933.8L1083.3 933.8" style="fill: none; stroke: #000000; stroke-width: 2.5; stroke-linejoin: miter; stroke-linecap: square"/>
</g>
</g>
<g id="axes_21">
<g id="patch_102">
<path d="M1092.9 1107.6L1279.2 1107.6L1279.2 933.8L1092.9 933.8Z" style="fill: #ffffff"/>
</g>
<g id="matplotlib.axis_41">
<g id="xtick_93">
<g id="line2d_322">
<g>
<path d="M0 0L0 -11.4" transform="translate(1121.530519 1107.6)" style="stroke: #000000; stroke-width: 2.5"/>
</g>
</g>
<g id="line2d_323">
<g>
<path d="M0 0L0 11.4" transform="translate(1121.530519 933.8)" style="stroke: #000000; stroke-width: 2.5"/>
</g>
</g>
<g id="text_47">
<text style="font-size: 25px; font-family: 'DejaVu Sans', sans-serif" transform="translate(1120.784743 1144.279684) rotate(-45)">0</text>
</g>
</g>
<g id="xtick_94">
<g id="line2d_324">
<g>
<path d="M0 0L0 -11.4" transform="translate(1161.855195 1107.6)" style="stroke: #000000; stroke-width: 2.5"/>
</g>
</g>
<g id="line2d_325">
<g>
<path d="M0 0L0 11.4" transform="translate(1161.855195 933.8)" style="stroke: #000000; stroke-width: 2.5"/>
</g>
</g>
<g id="text_48">
<text style="font-size: 25px; font-family: 'DejaVu Sans', sans-serif" transform="translate(1155.48571 1155.527101) rotate(-45)">10</text>
</g>
</g>
<g id="xtick_95">
<g id="line2d_326">
<g>
<path d="M0 0L0 -11.4" transform="translate(1202.17987 1107.6)" style="stroke: #000000; stroke-width: 2.5"/>
</g>
</g>
<g id="line2d_327">
<g>
<path d="M0 0L0 11.4" transform="translate(1202.17987 933.8)" style="stroke: #000000; stroke-width: 2.5"/>
</g>
</g>
<g id="text_49">
<text style="font-size: 25px; font-family: 'DejaVu Sans', sans-serif" transform="translate(1195.810385 1155.527101) rotate(-45)">20</text>
</g>
</g>
<g id="xtick_96">
<g id="line2d_328">
<g>
<path d="M0 0L0 -11.4" transform="translate(1242.504545 1107.6)" style="stroke: #000000; stroke-width: 2.5"/>
</g>
</g>
<g id="line2d_329">
<g>
<path d="M0 0L0 11.4" transform="translate(1242.504545 933.8)" style="stroke: #000000; stroke-width: 2.5"/>
</g>
</g>
<g id="text_50">
<text style="font-size: 25px; font-family: 'DejaVu Sans', sans-serif" transform="translate(1236.13506 1155.527101) rotate(-45)">30</text>
</g>
</g>
</g>
<g id="matplotlib.axis_42"/>
<g id="line2d_330">
<path d="M1099.2 1107.4L1116.6 1107.4L1116.6 1105.9L1128.1 1105.9L1128.1 1103.5L1135.4 1103.5L1135.4 1101.4L1141.1 1101.4L1141.1 1094.8L1146.9 1094.8L1146.9 1082.6L1152.7 1082.6L1152.7 1059.4L1158.5 1059.4L1158.5 1024.8L1164.3 1024.8L1164.3 986.5L1170 986.5L1170 965.5L1175.1 965.5L1175.1 949.6L1180.9 949.6L1180.9 950.3L1186.7 950.3L1186.7 954L1192.4 954L1192.4 978.5L1198.2 978.5L1198.2 1014.6L1203.3 1014.6L1203.3 1048.6L1209.1 1048.6L1209.1 1068.8L1214.8 1068.8L1214.8 1086.9L1220.6 1086.9L1220.6 1097.7L1226.4 1097.7L1226.4 1102.8L1232.2 1102.8L1232.2 1104.2L1238 1104.2L1238 1106.8L1272.6 1106.8" clip-path="url(#p831e0020ad)" style="fill: none; stroke: #ff7f0e; stroke-width: 4.7; stroke-linecap: square"/>
</g>
<g id="patch_103">
<path d="M1092.9 1107.6L1092.9 933.8" style="fill: none; stroke: #000000; stroke-width: 2.5; stroke-linejoin: miter; stroke-linecap: square"/>
</g>
<g id="patch_104">
<path d="M1279.2 1107.6L1279.2 933.8" style="fill: none; stroke: #000000; stroke-width: 2.5; stroke-linejoin: miter; stroke-linecap: square"/>
</g>
<g id="patch_105">
<path d="M1092.9 1107.6L1279.2 1107.6" style="fill: none; stroke: #000000; stroke-width: 2.5; stroke-linejoin: miter; stroke-linecap: square"/>
</g>
<g id="patch_106">
<path d="M1092.9 933.8L1279.2 933.8" style="fill: none; stroke: #000000; stroke-width: 2.5; stroke-linejoin: miter; stroke-linecap: square"/>
</g>
</g>
<g id="axes_22">
<g id="patch_107">
<path d="M903.4 551.3L1279.3 551.3L1279.3 21L903.4 21Z" style="fill: #ffffff"/>
</g>
<g id="patch_108">
<path d="M930.8 19L936 50L935.2 85L930.8 117L932.5 150L929 166.4L929 192.7L926.7 213.8L931.6 236.7L931.9 240L930.6 256.5L933.1 264.8L940.6 277.2L946.3 289.5L949.6 301.9L952.9 310.2L959.5 318.4L967.8 326.7L975.2 335L987 350.3L994 367.9L995.8 385.5L1001.1 403L1006 412L1016 427.6L1033.6 445.2L1044.1 454L1045.9 462.7L1049.4 471.5L1051.2 480.3L1049.4 497.9L1045.9 515.5L1043.3 524.3L1038 533L1030 554L1282 554L1282 515L1223.3 495.5L1140 464L1098.6 445.2L1042 410L1031 385.5L1028.3 367.9L1024.8 350.3L1020.7 339L1014.9 285.6L1016.5 265L1016.5 256.5L1009.9 236.7L1007.2 213.8L1009.9 192.7L1014.3 175.2L1023 157.6L1052.9 129.3L1095.1 94.1L1119.7 76.5L1146.1 59L1174.2 41.4L1205 19Z" clip-path="url(#pf93519a822)" style="fill: #fdd0a2"/>
</g>
<g id="patch_109">
<path d="M960.6 19L961.9 50L959.8 67.7L952.7 102.9L950.1 120.5L945.7 140L943 166.4L939.6 213.8L944.7 240L945.5 256.5L948 264.8L963.7 289.5L969.5 301.9L973.6 314.3L982.7 326.7L990.1 339L998.4 350.3L1003.7 367.9L1005.5 385.5L1009 403L1011 410L1026.6 427.6L1044.1 445.2L1058.2 462.7L1071.4 480.3L1082.8 497.9L1093.4 515.5L1112 554L1282 554L1282 545L1251 528.8L1223.3 515.9L1195.5 504.8L1140 478.9L1075.8 443L1049.4 427.6L1027 410L1023 403L1019.5 385.5L1016.9 367.9L1013.4 350.3L1005.8 322.6L1002.1 306L994.2 256.5L993.2 236.7L989.6 213.8L989.6 192.7L993.2 166.4L1005.5 138L1014.3 120.5L1030 102.9L1047.7 85.3L1067 67.7L1093.4 41.4L1112.7 19Z" clip-path="url(#pf93519a822)" style="fill: #fdae6b"/>
</g>
<g id="matplotlib.axis_43">
<g id="xtick_97">
<g id="line2d_331">

<g>
<path d="M0 0L0 -9.6" transform="translate(921.776698 551.3)" style="stroke: #000000; stroke-width: 2.5"/>
</g>
</g>
<g id="line2d_332">

<g>
<path d="M0 0L0 9.6" transform="translate(921.776698 21)" style="stroke: #000000; stroke-width: 2.5"/>
</g>
</g>
<g id="text_51">
<text style="font-size: 31.3px; font-family: 'DejaVu Sans', sans-serif; text-anchor: middle" x="921.776698" y="586.083109" transform="rotate(-0 921.776698 586.083109)">0</text>
</g>
</g>
<g id="xtick_98">
<g id="line2d_333">
<g>
<path d="M0 0L0 -9.6" transform="translate(1064.786019 551.3)" style="stroke: #000000; stroke-width: 2.5"/>
</g>
</g>
<g id="line2d_334">
<g>
<path d="M0 0L0 9.6" transform="translate(1064.786019 21)" style="stroke: #000000; stroke-width: 2.5"/>
</g>
</g>
<g id="text_52">
<text style="font-size: 31.3px; font-family: 'DejaVu Sans', sans-serif; text-anchor: middle" x="1064.786019" y="586.083109" transform="rotate(-0 1064.786019 586.083109)">2000</text>
</g>
</g>
<g id="xtick_99">
<g id="line2d_335">
<g>
<path d="M0 0L0 -9.6" transform="translate(1207.79534 551.3)" style="stroke: #000000; stroke-width: 2.5"/>
</g>
</g>
<g id="line2d_336">
<g>
<path d="M0 0L0 9.6" transform="translate(1207.79534 21)" style="stroke: #000000; stroke-width: 2.5"/>
</g>
</g>
<g id="text_53">
<text style="font-size: 31.3px; font-family: 'DejaVu Sans', sans-serif; text-anchor: middle" x="1207.79534" y="586.083109" transform="rotate(-0 1207.79534 586.083109)">4000</text>
</g>
</g>
</g>
<g id="matplotlib.axis_44">
<g id="ytick_67">
<g id="line2d_337">

<g>
<path d="M0 0L9.6 0" transform="translate(903.4 21)" style="stroke: #000000; stroke-width: 2.5"/>
</g>
</g>
<g id="line2d_338">

<g>
<path d="M0 0L-9.6 0" transform="translate(1279.3 21)" style="stroke: #000000; stroke-width: 2.5"/>
</g>
</g>
<g id="text_54">
<!-- $\mathdefault{10^{-5}}$ -->
<g transform="translate(818.845 32.891555)">
<text>
<tspan x="0" y="-0.317188" style="font-size: 31.3px; font-family: 'DejaVu Sans', sans-serif">1</tspan>
<tspan x="19.882202" y="-0.317188" style="font-size: 31.3px; font-family: 'DejaVu Sans', sans-serif">0</tspan>
<tspan x="40.061084" y="-12.184375" style="font-size: 21.91px; font-family: 'DejaVu Sans', sans-serif">−</tspan>
<tspan x="58.389941" y="-12.184375" style="font-size: 21.91px; font-family: 'DejaVu Sans', sans-serif">5</tspan>
</text>
</g>
</g>
</g>
<g id="ytick_68">
<g id="line2d_339">
<g>
<path d="M0 0L9.6 0" transform="translate(903.4 172.514286)" style="stroke: #000000; stroke-width: 2.5"/>
</g>
</g>
<g id="line2d_340">
<g>
<path d="M0 0L-9.6 0" transform="translate(1279.3 172.514286)" style="stroke: #000000; stroke-width: 2.5"/>
</g>
</g>
<g id="text_55">
<!-- $\mathdefault{10^{-3}}$ -->
<g transform="translate(818.845 184.40584)">
<text>
<tspan x="0" y="-0.021875" style="font-size: 31.3px; font-family: 'DejaVu Sans', sans-serif">1</tspan>
<tspan x="19.882202" y="-0.021875" style="font-size: 31.3px; font-family: 'DejaVu Sans', sans-serif">0</tspan>
<tspan x="40.061084" y="-11.889063" style="font-size: 21.91px; font-family: 'DejaVu Sans', sans-serif">−</tspan>
<tspan x="58.389941" y="-11.889063" style="font-size: 21.91px; font-family: 'DejaVu Sans', sans-serif">3</tspan>
</text>
</g>
</g>
</g>
<g id="ytick_69">
<g id="line2d_341">
<g>
<path d="M0 0L9.6 0" transform="translate(903.4 324.028571)" style="stroke: #000000; stroke-width: 2.5"/>
</g>
</g>
<g id="line2d_342">
<g>
<path d="M0 0L-9.6 0" transform="translate(1279.3 324.028571)" style="stroke: #000000; stroke-width: 2.5"/>
</g>
</g>
<g id="text_56">
<!-- $\mathdefault{10^{-1}}$ -->
<g transform="translate(818.845 335.920126)">
<text>
<tspan x="0" y="-0.317188" style="font-size: 31.3px; font-family: 'DejaVu Sans', sans-serif">1</tspan>
<tspan x="19.882202" y="-0.317188" style="font-size: 31.3px; font-family: 'DejaVu Sans', sans-serif">0</tspan>
<tspan x="40.061084" y="-12.184375" style="font-size: 21.91px; font-family: 'DejaVu Sans', sans-serif">−</tspan>
<tspan x="58.389941" y="-12.184375" style="font-size: 21.91px; font-family: 'DejaVu Sans', sans-serif">1</tspan>
</text>
</g>
</g>
</g>
<g id="ytick_70">
<g id="line2d_343">
<g>
<path d="M0 0L9.6 0" transform="translate(903.4 475.542857)" style="stroke: #000000; stroke-width: 2.5"/>
</g>
</g>
<g id="line2d_344">
<g>
<path d="M0 0L-9.6 0" transform="translate(1279.3 475.542857)" style="stroke: #000000; stroke-width: 2.5"/>
</g>
</g>
<g id="text_57">
<!-- $\mathdefault{10^{1}}$ -->
<g transform="translate(837.312 487.434412)">
<text>
<tspan x="0" y="-0.317188" style="font-size: 31.3px; font-family: 'DejaVu Sans', sans-serif">1</tspan>
<tspan x="19.882202" y="-0.317188" style="font-size: 31.3px; font-family: 'DejaVu Sans', sans-serif">0</tspan>
<tspan x="40.061084" y="-12.184375" style="font-size: 21.91px; font-family: 'DejaVu Sans', sans-serif">1</tspan>
</text>
</g>
</g>
</g>
</g>
<g id="line2d_345">
<path d="M1025.2 21L1001.2 77.8L987.9 107.9L974.4 141.6L968.7 159.3L964 187.7L962.5 201.9L962.1 214.3L962.6 226.7L964.2 240.9L967.6 260.4L969.4 267.5L974 278.2L986.2 299.5L990.8 308.3L1000.4 331.4L1005 343.8L1008.1 354.4L1010.1 365.1L1014.6 402.3L1016.6 409.4L1020.1 414.7L1023.4 418.3L1031.9 425.4L1072.1 452L1153.1 515.8L1199.2 551.3" clip-path="url(#pf93519a822)" style="fill: none; stroke: #ff7f0e; stroke-width: 4.7"/>
</g>
<g id="line2d_346">
<path d="M1013 21.4L1017.8 140L1028.7 304L1035.4 385L1043.3 455.7L1051.4 553" clip-path="url(#pf93519a822)" style="fill: none; stroke-dasharray: 40.064,10.016,6.26,10.016; stroke-dashoffset: 0; stroke: #008080; stroke-width: 6.26"/>
</g>
<g id="patch_110">
<path d="M903.4 551.3L903.4 21" style="fill: none; stroke: #000000; stroke-width: 2.5; stroke-linejoin: miter; stroke-linecap: square"/>
</g>
<g id="patch_111">
<path d="M1279.3 551.3L1279.3 21" style="fill: none; stroke: #000000; stroke-width: 2.5; stroke-linejoin: miter; stroke-linecap: square"/>
</g>
<g id="patch_112">
<path d="M903.4 551.3L1279.3 551.3" style="fill: none; stroke: #000000; stroke-width: 2.5; stroke-linejoin: miter; stroke-linecap: square"/>
</g>
<g id="patch_113">
<path d="M903.4 21L1279.3 21" style="fill: none; stroke: #000000; stroke-width: 2.5; stroke-linejoin: miter; stroke-linecap: square"/>
</g>
<g id="line2d_347">
<path d="M1279 100L1278.9 198.6L1278.2 206.7L1276.3 211.9L1272.3 226.4L1266.5 237.3L1262.3 247.4L1258 254.4L1252.8 260.7L1242.8 269.9L1231.7 278.2L1197.4 301.1L1193.6 304.8L1191.2 308.3L1189.8 310.8L1189.2 313.4L1190.2 317.3L1193.1 321.9L1205.1 331.2L1214.5 336.9L1226.6 343.2L1241.7 349.8L1256.1 354.7L1262.2 357.4L1267 360.4L1271.2 364.1L1274.2 369.8L1275.7 375.3L1276.8 383.5L1278.7 419L1279 560" clip-path="url(#pf93519a822)" style="fill: none; stroke: #ff0000; stroke-width: 4.7; stroke-linecap: square"/>
</g>
<g id="line2d_348">
<path d="M1279 15L1278.9 244L1277.8 259.4L1274.5 284.8L1270.6 303.2L1263.9 324.4L1259.4 340.9L1254.9 353.9L1250.4 362.9L1246 368.3L1238.5 375.2L1218.6 388.6L1211.1 392.6L1190.5 401.1L1168.5 411.3L1166.2 413.4L1165.5 415.1L1165.5 416.6L1166.5 418.1L1169.4 420.2L1175.4 422.6L1200.9 428.2L1254.8 438.4L1268.3 442.5L1271.2 444.1L1273.3 446L1276.1 452.4L1278.1 460.9L1278.9 467.7L1279 560" clip-path="url(#pf93519a822)" style="fill: none; stroke: #0000ff; stroke-width: 4.7; stroke-linecap: square"/>
</g>
<g id="line2d_349">

<g clip-path="url(#pf93519a822)">
<path d="M 0 9.4 C 2.492909 9.4 4.884051 8.409557 6.646804 6.646804 C 8.409557 4.884051 9.4 2.492909 9.4 0 C 9.4 -2.492909 8.409557 -4.884051 6.646804 -6.646804 C 4.884051 -8.409557 2.492909 -9.4 0 -9.4 C -2.492909 -9.4 -4.884051 -8.409557 -6.646804 -6.646804 C -8.409557 -4.884051 -9.4 -2.492909 -9.4 0 C -9.4 2.492909 -8.409557 4.884051 -6.646804 6.646804 C -4.884051 8.409557 -2.492909 9.4 0 9.4 z" transform="translate(1025.2 21)"/>
<path d="M 0 9.4 C 2.492909 9.4 4.884051 8.409557 6.646804 6.646804 C 8.409557 4.884051 9.4 2.492909 9.4 0 C 9.4 -2.492909 8.409557 -4.884051 6.646804 -6.646804 C 4.884051 -8.409557 2.492909 -9.4 0 -9.4 C -2.492909 -9.4 -4.884051 -8.409557 -6.646804 -6.646804 C -8.409557 -4.884051 -9.4 -2.492909 -9.4 0 C -9.4 2.492909 -8.409557 4.884051 -6.646804 6.646804 C -4.884051 8.409557 -2.492909 9.4 0 9.4 z" transform="translate(1004.9 69.209091)"/>
<path d="M 0 9.4 C 2.492909 9.4 4.884051 8.409557 6.646804 6.646804 C 8.409557 4.884051 9.4 2.492909 9.4 0 C 9.4 -2.492909 8.409557 -4.884051 6.646804 -6.646804 C 4.884051 -8.409557 2.492909 -9.4 0 -9.4 C -2.492909 -9.4 -4.884051 -8.409557 -6.646804 -6.646804 C -8.409557 -4.884051 -9.4 -2.492909 -9.4 0 C -9.4 2.492909 -8.409557 4.884051 -6.646804 6.646804 C -4.884051 8.409557 -2.492909 9.4 0 9.4 z" transform="translate(984.1 117.418182)"/>
<path d="M 0 9.4 C 2.492909 9.4 4.884051 8.409557 6.646804 6.646804 C 8.409557 4.884051 9.4 2.492909 9.4 0 C 9.4 -2.492909 8.409557 -4.884051 6.646804 -6.646804 C 4.884051 -8.409557 2.492909 -9.4 0 -9.4 C -2.492909 -9.4 -4.884051 -8.409557 -6.646804 -6.646804 C -8.409557 -4.884051 -9.4 -2.492909 -9.4 0 C -9.4 2.492909 -8.409557 4.884051 -6.646804 6.646804 C -4.884051 8.409557 -2.492909 9.4 0 9.4 z" transform="translate(967.4 165.627273)"/>
<path d="M 0 9.4 C 2.492909 9.4 4.884051 8.409557 6.646804 6.646804 C 8.409557 4.884051 9.4 2.492909 9.4 0 C 9.4 -2.492909 8.409557 -4.884051 6.646804 -6.646804 C 4.884051 -8.409557 2.492909 -9.4 0 -9.4 C -2.492909 -9.4 -4.884051 -8.409557 -6.646804 -6.646804 C -8.409557 -4.884051 -9.4 -2.492909 -9.4 0 C -9.4 2.492909 -8.409557 4.884051 -6.646804 6.646804 C -4.884051 8.409557 -2.492909 9.4 0 9.4 z" transform="translate(962.1 213.836364)"/>
<path d="M 0 9.4 C 2.492909 9.4 4.884051 8.409557 6.646804 6.646804 C 8.409557 4.884051 9.4 2.492909 9.4 0 C 9.4 -2.492909 8.409557 -4.884051 6.646804 -6.646804 C 4.884051 -8.409557 2.492909 -9.4 0 -9.4 C -2.492909 -9.4 -4.884051 -8.409557 -6.646804 -6.646804 C -8.409557 -4.884051 -9.4 -2.492909 -9.4 0 C -9.4 2.492909 -8.409557 4.884051 -6.646804 6.646804 C -4.884051 8.409557 -2.492909 9.4 0 9.4 z" transform="translate(967.9 262.045455)"/>
<path d="M 0 9.4 C 2.492909 9.4 4.884051 8.409557 6.646804 6.646804 C 8.409557 4.884051 9.4 2.492909 9.4 0 C 9.4 -2.492909 8.409557 -4.884051 6.646804 -6.646804 C 4.884051 -8.409557 2.492909 -9.4 0 -9.4 C -2.492909 -9.4 -4.884051 -8.409557 -6.646804 -6.646804 C -8.409557 -4.884051 -9.4 -2.492909 -9.4 0 C -9.4 2.492909 -8.409557 4.884051 -6.646804 6.646804 C -4.884051 8.409557 -2.492909 9.4 0 9.4 z" transform="translate(991.6 310.254545)"/>
<path d="M 0 9.4 C 2.492909 9.4 4.884051 8.409557 6.646804 6.646804 C 8.409557 4.884051 9.4 2.492909 9.4 0 C 9.4 -2.492909 8.409557 -4.884051 6.646804 -6.646804 C 4.884051 -8.409557 2.492909 -9.4 0 -9.4 C -2.492909 -9.4 -4.884051 -8.409557 -6.646804 -6.646804 C -8.409557 -4.884051 -9.4 -2.492909 -9.4 0 C -9.4 2.492909 -8.409557 4.884051 -6.646804 6.646804 C -4.884051 8.409557 -2.492909 9.4 0 9.4 z" transform="translate(1009 358.463636)"/>
<path d="M 0 9.4 C 2.492909 9.4 4.884051 8.409557 6.646804 6.646804 C 8.409557 4.884051 9.4 2.492909 9.4 0 C 9.4 -2.492909 8.409557 -4.884051 6.646804 -6.646804 C 4.884051 -8.409557 2.492909 -9.4 0 -9.4 C -2.492909 -9.4 -4.884051 -8.409557 -6.646804 -6.646804 C -8.409557 -4.884051 -9.4 -2.492909 -9.4 0 C -9.4 2.492909 -8.409557 4.884051 -6.646804 6.646804 C -4.884051 8.409557 -2.492909 9.4 0 9.4 z" transform="translate(1015.6 406.672727)"/>
<path d="M 0 9.4 C 2.492909 9.4 4.884051 8.409557 6.646804 6.646804 C 8.409557 4.884051 9.4 2.492909 9.4 0 C 9.4 -2.492909 8.409557 -4.884051 6.646804 -6.646804 C 4.884051 -8.409557 2.492909 -9.4 0 -9.4 C -2.492909 -9.4 -4.884051 -8.409557 -6.646804 -6.646804 C -8.409557 -4.884051 -9.4 -2.492909 -9.4 0 C -9.4 2.492909 -8.409557 4.884051 -6.646804 6.646804 C -4.884051 8.409557 -2.492909 9.4 0 9.4 z" transform="translate(1075.9 454.881818)"/>
<path d="M 0 9.4 C 2.492909 9.4 4.884051 8.409557 6.646804 6.646804 C 8.409557 4.884051 9.4 2.492909 9.4 0 C 9.4 -2.492909 8.409557 -4.884051 6.646804 -6.646804 C 4.884051 -8.409557 2.492909 -9.4 0 -9.4 C -2.492909 -9.4 -4.884051 -8.409557 -6.646804 -6.646804 C -8.409557 -4.884051 -9.4 -2.492909 -9.4 0 C -9.4 2.492909 -8.409557 4.884051 -6.646804 6.646804 C -4.884051 8.409557 -2.492909 9.4 0 9.4 z" transform="translate(1136.8 503.090909)"/>
<path d="M 0 9.4 C 2.492909 9.4 4.884051 8.409557 6.646804 6.646804 C 8.409557 4.884051 9.4 2.492909 9.4 0 C 9.4 -2.492909 8.409557 -4.884051 6.646804 -6.646804 C 4.884051 -8.409557 2.492909 -9.4 0 -9.4 C -2.492909 -9.4 -4.884051 -8.409557 -6.646804 -6.646804 C -8.409557 -4.884051 -9.4 -2.492909 -9.4 0 C -9.4 2.492909 -8.409557 4.884051 -6.646804 6.646804 C -4.884051 8.409557 -2.492909 9.4 0 9.4 z" transform="translate(1199.2 551.3)"/>
</g>
</g>
</g>
<g id="axes_23">
<g id="patch_114">
<path d="M1369.4 197L1728.1 197L1728.1 1.6L1369.4 1.6Z" style="fill: #ffffff"/>
</g>
<g id="matplotlib.axis_45">
<g id="xtick_100">
<g id="line2d_350">

<g>
<path d="M0 0L0 -11" transform="translate(1429.183333 197)" style="stroke: #000000; stroke-width: 2.5"/>
</g>
</g>
<g id="text_58">
<text style="font-size: 31.3px; font-family: 'DejaVu Sans', sans-serif; text-anchor: middle" x="1429.183333" y="231.783109" transform="rotate(-0 1429.183333 231.783109)">−10</text>
</g>
</g>
<g id="xtick_101">
<g id="line2d_351">
<g>
<path d="M0 0L0 -11" transform="translate(1578.641667 197)" style="stroke: #000000; stroke-width: 2.5"/>
</g>
</g>
<g id="text_59">
<text style="font-size: 31.3px; font-family: 'DejaVu Sans', sans-serif; text-anchor: middle" x="1578.641667" y="231.783109" transform="rotate(-0 1578.641667 231.783109)">−5</text>
</g>
</g>
<g id="xtick_102">
<g id="line2d_352">
<g>
<path d="M0 0L0 -11" transform="translate(1728.1 197)" style="stroke: #000000; stroke-width: 2.5"/>
</g>
</g>
<g id="text_60">
<text style="font-size: 31.3px; font-family: 'DejaVu Sans', sans-serif; text-anchor: middle" x="1728.1" y="231.783109" transform="rotate(-0 1728.1 231.783109)">0</text>
</g>
</g>
</g>
<g id="matplotlib.axis_46"/>
<g id="line2d_353">
<path d="M1560 197L1579.7 197L1579.7 192.5L1581.7 192.5L1581.7 189L1583.7 189L1583.7 176.5L1585.7 176.5L1585.7 163.5L1587.6 163.5L1587.6 134.5L1589.7 134.5L1589.7 90.7L1591.6 90.7L1591.6 42.8L1593.5 42.8L1593.5 11.4L1595.7 11.4L1595.7 18L1597.7 18L1597.7 51.8L1599.5 51.8L1599.5 81.6L1601.6 81.6L1601.6 126.3L1603.9 126.3L1603.9 156.8L1605.5 156.8L1605.5 177.3L1607.6 177.3L1607.6 185.7L1609.6 185.7L1609.6 192.5L1612.9 192.5L1612.9 197L1627 197" clip-path="url(#pe4f5a4375f)" style="fill: none; stroke: #ff7f0e; stroke-width: 4.7; stroke-linecap: square"/>
</g>
<g id="patch_115">
<path d="M1369.4 197L1369.4 1.6" style="fill: none; stroke: #000000; stroke-width: 2.5; stroke-linejoin: miter; stroke-linecap: square"/>
</g>
<g id="patch_116">
<path d="M1728.1 197L1728.1 1.6" style="fill: none; stroke: #000000; stroke-width: 2.5; stroke-linejoin: miter; stroke-linecap: square"/>
</g>
<g id="patch_117">
<path d="M1369.4 197L1728.1 197" style="fill: none; stroke: #000000; stroke-width: 2.5; stroke-linejoin: miter; stroke-linecap: square"/>
</g>
<g id="patch_118">
<path d="M1369.4 1.6L1728.1 1.6" style="fill: none; stroke: #000000; stroke-width: 2.5; stroke-linejoin: miter; stroke-linecap: square"/>
</g>
<g id="line2d_354">
<path d="M1623.5 197L1623.5 1.6" clip-path="url(#pe4f5a4375f)" style="fill: none; stroke: #000000; stroke-width: 3.13; stroke-linecap: square"/>
</g>
<g id="line2d_355">
<path d="M1579.9 197L1579.9 1.6" clip-path="url(#pe4f5a4375f)" style="fill: none; stroke-dasharray: 11.581,5.008; stroke-dashoffset: 0; stroke: #000000; stroke-width: 3.13"/>
</g>
</g>
<g id="axes_24">
<g id="patch_119">
<path d="M1795.7 197L2154.4 197L2154.4 1.6L1795.7 1.6Z" style="fill: #ffffff"/>
</g>
<g id="matplotlib.axis_47">
<g id="xtick_103">
<g id="line2d_356">
<g>
<path d="M0 0L0 -11" transform="translate(1855.483333 197)" style="stroke: #000000; stroke-width: 2.5"/>
</g>
</g>
<g id="text_61">
<text style="font-size: 31.3px; font-family: 'DejaVu Sans', sans-serif; text-anchor: middle" x="1855.483333" y="231.783109" transform="rotate(-0 1855.483333 231.783109)">−10</text>
</g>
</g>
<g id="xtick_104">
<g id="line2d_357">
<g>
<path d="M0 0L0 -11" transform="translate(2004.941667 197)" style="stroke: #000000; stroke-width: 2.5"/>
</g>
</g>
<g id="text_62">
<text style="font-size: 31.3px; font-family: 'DejaVu Sans', sans-serif; text-anchor: middle" x="2004.941667" y="231.783109" transform="rotate(-0 2004.941667 231.783109)">−5</text>
</g>
</g>
<g id="xtick_105">
<g id="line2d_358">
<g>
<path d="M0 0L0 -11" transform="translate(2154.4 197)" style="stroke: #000000; stroke-width: 2.5"/>
</g>
</g>
<g id="text_63">
<text style="font-size: 31.3px; font-family: 'DejaVu Sans', sans-serif; text-anchor: middle" x="2154.4" y="231.783109" transform="rotate(-0 2154.4 231.783109)">0</text>
</g>
</g>
</g>
<g id="matplotlib.axis_48"/>
<g id="line2d_359">
<path d="M1946 197L1946 196.6L2004 196.6L2004 192.7L2009.3 192.7L2009.3 188.1L2014.7 188.1L2014.7 175.4L2019.6 175.4L2019.6 149L2025 149L2025 103L2030.3 103L2030.3 49.3L2035.7 49.3L2035.7 11L2040.6 11L2040.6 22.1L2046 22.1L2046 81.8L2050.8 81.8L2050.8 145L2055.9 145L2055.9 166.5L2061.4 166.5L2061.4 185.5L2066.7 185.5L2066.7 192.9L2072 192.9L2072 196.6L2104 196.6L2104 197" clip-path="url(#pa0e2d96ad4)" style="fill: none; stroke: #ff7f0e; stroke-width: 4.7; stroke-linecap: square"/>
</g>
<g id="patch_120">
<path d="M1795.7 197L1795.7 1.6" style="fill: none; stroke: #000000; stroke-width: 2.5; stroke-linejoin: miter; stroke-linecap: square"/>
</g>
<g id="patch_121">
<path d="M2154.4 197L2154.4 1.6" style="fill: none; stroke: #000000; stroke-width: 2.5; stroke-linejoin: miter; stroke-linecap: square"/>
</g>
<g id="patch_122">
<path d="M1795.7 197L2154.4 197" style="fill: none; stroke: #000000; stroke-width: 2.5; stroke-linejoin: miter; stroke-linecap: square"/>
</g>
<g id="patch_123">
<path d="M1795.7 1.6L2154.4 1.6" style="fill: none; stroke: #000000; stroke-width: 2.5; stroke-linejoin: miter; stroke-linecap: square"/>
</g>
<g id="line2d_360">
<path d="M2053.6 197L2053.6 1.6" clip-path="url(#pa0e2d96ad4)" style="fill: none; stroke: #000000; stroke-width: 3.13; stroke-linecap: square"/>
</g>
<g id="line2d_361">
<path d="M2057.1 197L2057.1 1.6" clip-path="url(#pa0e2d96ad4)" style="fill: none; stroke-dasharray: 11.581,5.008; stroke-dashoffset: 0; stroke: #000000; stroke-width: 3.13"/>
</g>
</g>
<g id="axes_25">
<g id="patch_124">
<path d="M1369.4 509.3L1728.1 509.3L1728.1 313.9L1369.4 313.9Z" style="fill: #ffffff"/>
</g>
<g id="matplotlib.axis_49">
<g id="xtick_106">
<g id="line2d_362">
<g>
<path d="M0 0L0 -11" transform="translate(1429.183333 509.27)" style="stroke: #000000; stroke-width: 2.5"/>
</g>
</g>
<g id="text_64">
<text style="font-size: 31.3px; font-family: 'DejaVu Sans', sans-serif; text-anchor: middle" x="1429.183333" y="544.053109" transform="rotate(-0 1429.183333 544.053109)">−10</text>
</g>
</g>
<g id="xtick_107">
<g id="line2d_363">
<g>
<path d="M0 0L0 -11" transform="translate(1578.641667 509.27)" style="stroke: #000000; stroke-width: 2.5"/>
</g>
</g>
<g id="text_65">
<text style="font-size: 31.3px; font-family: 'DejaVu Sans', sans-serif; text-anchor: middle" x="1578.641667" y="544.053109" transform="rotate(-0 1578.641667 544.053109)">−5</text>
</g>
</g>
<g id="xtick_108">
<g id="line2d_364">
<g>
<path d="M0 0L0 -11" transform="translate(1728.1 509.27)" style="stroke: #000000; stroke-width: 2.5"/>
</g>
</g>
<g id="text_66">
<text style="font-size: 31.3px; font-family: 'DejaVu Sans', sans-serif; text-anchor: middle" x="1728.1" y="544.053109" transform="rotate(-0 1728.1 544.053109)">0</text>
</g>
</g>
</g>
<g id="matplotlib.axis_50"/>
<g id="line2d_365">
<path d="M1369.4 509.3L1369.4 364.4L1378.5 364.4L1378.5 342.8L1387.2 342.8L1387.2 350.4L1396 350.4L1396 339.8L1405.4 339.8L1405.4 355.6L1414.1 355.6L1414.1 346.3L1422.4 346.3L1422.4 332.2L1431.2 332.2L1431.2 322.9L1440 322.9L1440 330.5L1448.8 330.5L1448.8 335.8L1457.6 335.8L1457.6 336.6L1466.3 336.6L1466.3 338L1476 338L1476 360.9L1484.8 360.9L1484.8 365.6L1493.6 365.6L1493.6 362.1L1502.4 362.1L1502.4 359.1L1511.2 359.1L1511.2 363L1520 363L1520 370.4L1528.7 370.4L1528.7 360.4L1537.5 360.4L1537.5 365.6L1546.3 365.6L1546.3 366.2L1555.1 366.2L1555.1 366.5L1564.8 366.5L1564.8 380.6L1573.6 380.6L1573.6 388.5L1582.4 388.5L1582.4 404.7L1591.1 404.7L1591.1 410.5L1599.9 410.5L1599.9 402.2L1608.7 402.2L1608.7 437.7L1617.5 437.7L1617.5 495.7L1627.2 495.7L1627.2 508.6L1636.9 508.6L1636.9 509.3" clip-path="url(#p6b5af138cc)" style="fill: none; stroke: #ff7f0e; stroke-width: 4.7; stroke-linecap: square"/>
</g>
<g id="patch_125">
<path d="M1369.4 509.3L1369.4 313.9" style="fill: none; stroke: #000000; stroke-width: 2.5; stroke-linejoin: miter; stroke-linecap: square"/>
</g>
<g id="patch_126">
<path d="M1728.1 509.3L1728.1 313.9" style="fill: none; stroke: #000000; stroke-width: 2.5; stroke-linejoin: miter; stroke-linecap: square"/>
</g>
<g id="patch_127">
<path d="M1369.4 509.3L1728.1 509.3" style="fill: none; stroke: #000000; stroke-width: 2.5; stroke-linejoin: miter; stroke-linecap: square"/>
</g>
<g id="patch_128">
<path d="M1369.4 313.9L1728.1 313.9" style="fill: none; stroke: #000000; stroke-width: 2.5; stroke-linejoin: miter; stroke-linecap: square"/>
</g>
<g id="line2d_366">
<path d="M1514.7 509.3L1514.7 313.9" clip-path="url(#p6b5af138cc)" style="fill: none; stroke: #000000; stroke-width: 3.13; stroke-linecap: square"/>
</g>
<g id="line2d_367">
<path d="M1475.1 509.3L1475.1 313.9" clip-path="url(#p6b5af138cc)" style="fill: none; stroke-dasharray: 11.581,5.008; stroke-dashoffset: 0; stroke: #000000; stroke-width: 3.13"/>
</g>
</g>
<g id="axes_26">
<g id="patch_129">
<path d="M1795.7 509.3L2154.4 509.3L2154.4 313.9L1795.7 313.9Z" style="fill: #ffffff"/>
</g>
<g id="matplotlib.axis_51">
<g id="xtick_109">
<g id="line2d_368">
<g>
<path d="M0 0L0 -11" transform="translate(1855.483333 509.27)" style="stroke: #000000; stroke-width: 2.5"/>
</g>
</g>
<g id="text_67">
<text style="font-size: 31.3px; font-family: 'DejaVu Sans', sans-serif; text-anchor: middle" x="1855.483333" y="544.053109" transform="rotate(-0 1855.483333 544.053109)">−10</text>
</g>
</g>
<g id="xtick_110">
<g id="line2d_369">
<g>
<path d="M0 0L0 -11" transform="translate(2004.941667 509.27)" style="stroke: #000000; stroke-width: 2.5"/>
</g>
</g>
<g id="text_68">
<text style="font-size: 31.3px; font-family: 'DejaVu Sans', sans-serif; text-anchor: middle" x="2004.941667" y="544.053109" transform="rotate(-0 2004.941667 544.053109)">−5</text>
</g>
</g>
<g id="xtick_111">
<g id="line2d_370">
<g>
<path d="M0 0L0 -11" transform="translate(2154.4 509.27)" style="stroke: #000000; stroke-width: 2.5"/>
</g>
</g>
<g id="text_69">
<text style="font-size: 31.3px; font-family: 'DejaVu Sans', sans-serif; text-anchor: middle" x="2154.4" y="544.053109" transform="rotate(-0 2154.4 544.053109)">0</text>
</g>
</g>
</g>
<g id="matplotlib.axis_52"/>
<g id="line2d_371">
<path d="M1795.7 509.3L1795.7 345.3L1806.9 345.3L1806.9 336L1818.2 336L1818.2 341.9L1829.5 341.9L1829.5 343.3L1841.7 343.3L1841.7 344.7L1853 344.7L1853 343.6L1863.4 343.6L1863.4 345L1874.7 345L1874.7 343.6L1886.9 343.6L1886.9 349.3L1898.2 349.3L1898.2 342.4L1909.5 342.4L1909.5 341.5L1920.8 341.5L1920.8 323.3L1932.1 323.3L1932.1 332L1943.4 332L1943.4 337.2L1966.9 337.2L1966.9 341.2L1977.3 341.2L1977.3 336L1988.6 336L1988.6 346.4L1999.9 346.4L1999.9 342.4L2012.1 342.4L2012.1 331.4L2023.4 331.4L2023.4 333.2L2034.7 333.2L2034.7 337.2L2046 337.2L2046 335.4L2057.3 335.4L2057.3 338.4L2068.6 338.4L2068.6 364.1L2079.9 364.1L2079.9 385L2091.2 385L2091.2 426.7L2102.5 426.7L2102.5 471.1L2114.7 471.1L2114.7 493.7L2126 493.7L2126 505L2137.3 505L2137.3 509.3" clip-path="url(#pd9fce0dad3)" style="fill: none; stroke: #ff7f0e; stroke-width: 4.7; stroke-linecap: square"/>
</g>
<g id="patch_130">
<path d="M1795.7 509.3L1795.7 313.9" style="fill: none; stroke: #000000; stroke-width: 2.5; stroke-linejoin: miter; stroke-linecap: square"/>
</g>
<g id="patch_131">
<path d="M2154.4 509.3L2154.4 313.9" style="fill: none; stroke: #000000; stroke-width: 2.5; stroke-linejoin: miter; stroke-linecap: square"/>
</g>
<g id="patch_132">
<path d="M1795.7 509.3L2154.4 509.3" style="fill: none; stroke: #000000; stroke-width: 2.5; stroke-linejoin: miter; stroke-linecap: square"/>
</g>
<g id="patch_133">
<path d="M1795.7 313.9L2154.4 313.9" style="fill: none; stroke: #000000; stroke-width: 2.5; stroke-linejoin: miter; stroke-linecap: square"/>
</g>
<g id="line2d_372">
<path d="M2025.7 509.3L2025.7 313.9" clip-path="url(#pd9fce0dad3)" style="fill: none; stroke: #000000; stroke-width: 3.13; stroke-linecap: square"/>
</g>
<g id="line2d_373">
<path d="M2020.8 509.3L2020.8 313.9" clip-path="url(#pd9fce0dad3)" style="fill: none; stroke-dasharray: 11.581,5.008; stroke-dashoffset: 0; stroke: #000000; stroke-width: 3.13"/>
</g>
</g>
<g id="axes_27">
<g id="patch_134">
<path d="M1369.4 821.5L1728.1 821.5L1728.1 626.1L1369.4 626.1Z" style="fill: #ffffff"/>
</g>
<g id="matplotlib.axis_53">
<g id="xtick_112">
<g id="line2d_374">
<g>
<path d="M0 0L0 -11" transform="translate(1429.183333 821.54)" style="stroke: #000000; stroke-width: 2.5"/>
</g>
</g>
<g id="text_70">
<text style="font-size: 31.3px; font-family: 'DejaVu Sans', sans-serif; text-anchor: middle" x="1429.183333" y="856.323109" transform="rotate(-0 1429.183333 856.323109)">−10</text>
</g>
</g>
<g id="xtick_113">
<g id="line2d_375">
<g>
<path d="M0 0L0 -11" transform="translate(1578.641667 821.54)" style="stroke: #000000; stroke-width: 2.5"/>
</g>
</g>
<g id="text_71">
<text style="font-size: 31.3px; font-family: 'DejaVu Sans', sans-serif; text-anchor: middle" x="1578.641667" y="856.323109" transform="rotate(-0 1578.641667 856.323109)">−5</text>
</g>
</g>
<g id="xtick_114">
<g id="line2d_376">
<g>
<path d="M0 0L0 -11" transform="translate(1728.1 821.54)" style="stroke: #000000; stroke-width: 2.5"/>
</g>
</g>
<g id="text_72">
<text style="font-size: 31.3px; font-family: 'DejaVu Sans', sans-serif; text-anchor: middle" x="1728.1" y="856.323109" transform="rotate(-0 1728.1 856.323109)">0</text>
</g>
</g>
</g>
<g id="matplotlib.axis_54"/>
<g id="line2d_377">
<path d="M1369.4 821.5L1369.4 718.6L1375.8 718.6L1375.8 714L1384.6 714L1384.6 722.1L1391.6 722.1L1391.6 716.8L1399.6 716.8L1399.6 719.3L1406.6 719.3L1406.6 716.8L1412.7 716.8L1412.7 719.8L1426.8 719.8L1426.8 722.5L1432.9 722.5L1432.9 726.9L1439.1 726.9L1439.1 716L1447 716L1447 717.5L1453.2 717.5L1453.2 723.3L1462 723.3L1462 726.3L1468.1 726.3L1468.1 729.5L1474.3 729.5L1474.3 727.7L1483 727.7L1483 728.6L1487.4 728.6L1487.4 724.6L1495.3 724.6L1495.3 726.9L1508.5 726.9L1508.5 711.6L1515.6 711.6L1515.6 698.2L1522.6 698.2L1522.6 681.2L1529.6 681.2L1529.6 653.6L1535.8 653.6L1535.8 635.5L1543.7 635.5L1543.7 685.6L1550.7 685.6L1550.7 757.6L1557.8 757.6L1557.8 808.6L1564.8 808.6L1564.8 820.3L1578.8 820.3L1578.8 821.5" clip-path="url(#p5cd8cf5c5c)" style="fill: none; stroke: #ff7f0e; stroke-width: 4.7; stroke-linecap: square"/>
</g>
<g id="patch_135">
<path d="M1369.4 821.5L1369.4 626.1" style="fill: none; stroke: #000000; stroke-width: 2.5; stroke-linejoin: miter; stroke-linecap: square"/>
</g>
<g id="patch_136">
<path d="M1728.1 821.5L1728.1 626.1" style="fill: none; stroke: #000000; stroke-width: 2.5; stroke-linejoin: miter; stroke-linecap: square"/>
</g>
<g id="patch_137">
<path d="M1369.4 821.5L1728.1 821.5" style="fill: none; stroke: #000000; stroke-width: 2.5; stroke-linejoin: miter; stroke-linecap: square"/>
</g>
<g id="patch_138">
<path d="M1369.4 626.1L1728.1 626.1" style="fill: none; stroke: #000000; stroke-width: 2.5; stroke-linejoin: miter; stroke-linecap: square"/>
</g>
<g id="line2d_378">
<path d="M1389.5 821.5L1389.5 626.1" clip-path="url(#p5cd8cf5c5c)" style="fill: none; stroke: #000000; stroke-width: 3.13; stroke-linecap: square"/>
</g>
<g id="line2d_379">
<path d="M1483.9 821.5L1483.9 626.1" clip-path="url(#p5cd8cf5c5c)" style="fill: none; stroke-dasharray: 11.581,5.008; stroke-dashoffset: 0; stroke: #000000; stroke-width: 3.13"/>
</g>
</g>
<g id="axes_28">
<g id="patch_139">
<path d="M1795.7 821.5L2154.4 821.5L2154.4 626.1L1795.7 626.1Z" style="fill: #ffffff"/>
</g>
<g id="matplotlib.axis_55">
<g id="xtick_115">
<g id="line2d_380">
<g>
<path d="M0 0L0 -11" transform="translate(1855.483333 821.54)" style="stroke: #000000; stroke-width: 2.5"/>
</g>
</g>
<g id="text_73">
<text style="font-size: 31.3px; font-family: 'DejaVu Sans', sans-serif; text-anchor: middle" x="1855.483333" y="856.323109" transform="rotate(-0 1855.483333 856.323109)">−10</text>
</g>
</g>
<g id="xtick_116">
<g id="line2d_381">
<g>
<path d="M0 0L0 -11" transform="translate(2004.941667 821.54)" style="stroke: #000000; stroke-width: 2.5"/>
</g>
</g>
<g id="text_74">
<text style="font-size: 31.3px; font-family: 'DejaVu Sans', sans-serif; text-anchor: middle" x="2004.941667" y="856.323109" transform="rotate(-0 2004.941667 856.323109)">−5</text>
</g>
</g>
<g id="xtick_117">
<g id="line2d_382">
<g>
<path d="M0 0L0 -11" transform="translate(2154.4 821.54)" style="stroke: #000000; stroke-width: 2.5"/>
</g>
</g>
<g id="text_75">
<text style="font-size: 31.3px; font-family: 'DejaVu Sans', sans-serif; text-anchor: middle" x="2154.4" y="856.323109" transform="rotate(-0 2154.4 856.323109)">0</text>
</g>
</g>
</g>
<g id="matplotlib.axis_56"/>
<g id="line2d_383">
<path d="M1795.7 821.5L1795.7 704L1809.5 704L1809.5 709.2L1815.6 709.2L1815.6 710.9L1825.1 710.9L1825.1 706.6L1831.2 706.6L1831.2 698.7L1845.1 698.7L1845.1 687.1L1859 687.1L1859 683.1L1867.7 683.1L1867.7 688.3L1876.4 688.3L1876.4 684L1880.8 684L1880.8 674.9L1890.3 674.9L1890.3 683.6L1896.4 683.6L1896.4 692.7L1905.1 692.7L1905.1 684L1913 684L1913 689.7L1919.9 689.7L1919.9 684L1926.9 684L1926.9 674.4L1933.8 674.4L1933.8 682.2L1939 682.2L1939 677L1947.7 677L1947.7 651.8L1953.8 651.8L1953.8 635.8L1962.5 635.8L1962.5 651.8L1968.6 651.8L1968.6 721.3L1976.4 721.3L1976.4 789.2L1983.4 789.2L1983.4 815.3L1992.1 815.3L1992.1 820.2L2013.8 820.2L2013.8 821.5" clip-path="url(#p99c3dd9e61)" style="fill: none; stroke: #ff7f0e; stroke-width: 4.7; stroke-linecap: square"/>
</g>
<g id="patch_140">
<path d="M1795.7 821.5L1795.7 626.1" style="fill: none; stroke: #000000; stroke-width: 2.5; stroke-linejoin: miter; stroke-linecap: square"/>
</g>
<g id="patch_141">
<path d="M2154.4 821.5L2154.4 626.1" style="fill: none; stroke: #000000; stroke-width: 2.5; stroke-linejoin: miter; stroke-linecap: square"/>
</g>
<g id="patch_142">
<path d="M1795.7 821.5L2154.4 821.5" style="fill: none; stroke: #000000; stroke-width: 2.5; stroke-linejoin: miter; stroke-linecap: square"/>
</g>
<g id="patch_143">
<path d="M1795.7 626.1L2154.4 626.1" style="fill: none; stroke: #000000; stroke-width: 2.5; stroke-linejoin: miter; stroke-linecap: square"/>
</g>
<g id="line2d_384">
<path d="M1905.3 821.5L1905.3 626.1" clip-path="url(#p99c3dd9e61)" style="fill: none; stroke: #000000; stroke-width: 3.13; stroke-linecap: square"/>
</g>
<g id="line2d_385">
<path d="M1952.4 821.5L1952.4 626.1" clip-path="url(#p99c3dd9e61)" style="fill: none; stroke-dasharray: 11.581,5.008; stroke-dashoffset: 0; stroke: #000000; stroke-width: 3.13"/>
</g>
</g>
<g id="axes_29">
<g id="patch_144">
<path d="M1369.4 1133.8L1728.1 1133.8L1728.1 938.4L1369.4 938.4Z" style="fill: #ffffff"/>
</g>
<g id="matplotlib.axis_57">
<g id="xtick_118">
<g id="line2d_386">
<g>
<path d="M0 0L0 -11" transform="translate(1429.183333 1133.81)" style="stroke: #000000; stroke-width: 2.5"/>
</g>
</g>
<g id="text_76">
<text style="font-size: 31.3px; font-family: 'DejaVu Sans', sans-serif; text-anchor: middle" x="1429.183333" y="1168.593109" transform="rotate(-0 1429.183333 1168.593109)">−10</text>
</g>
</g>
<g id="xtick_119">
<g id="line2d_387">
<g>
<path d="M0 0L0 -11" transform="translate(1578.641667 1133.81)" style="stroke: #000000; stroke-width: 2.5"/>
</g>
</g>
<g id="text_77">
<text style="font-size: 31.3px; font-family: 'DejaVu Sans', sans-serif; text-anchor: middle" x="1578.641667" y="1168.593109" transform="rotate(-0 1578.641667 1168.593109)">−5</text>
</g>
</g>
<g id="xtick_120">
<g id="line2d_388">
<g>
<path d="M0 0L0 -11" transform="translate(1728.1 1133.81)" style="stroke: #000000; stroke-width: 2.5"/>
</g>
</g>
<g id="text_78">
<text style="font-size: 31.3px; font-family: 'DejaVu Sans', sans-serif; text-anchor: middle" x="1728.1" y="1168.593109" transform="rotate(-0 1728.1 1168.593109)">0</text>
</g>
</g>
</g>
<g id="matplotlib.axis_58"/>
<g id="line2d_389">
<path d="M1369.4 1133.8L1369.4 1107.9L1382.9 1107.9L1382.9 1109.2L1390.8 1109.2L1390.8 1108.6L1405.7 1108.6L1405.7 1110.1L1412.7 1110.1L1412.7 1107.9L1427.7 1107.9L1427.7 1106.5L1442.6 1106.5L1442.6 1105.7L1449.6 1105.7L1449.6 1103.9L1456.7 1103.9L1456.7 1102.1L1463.7 1102.1L1463.7 1104.4L1470.7 1104.4L1470.7 1101.6L1481.3 1101.6L1481.3 1104.4L1488.3 1104.4L1488.3 1105.7L1495.3 1105.7L1495.3 1103L1501.5 1103L1501.5 1100.9L1508.5 1100.9L1508.5 1098.6L1515.6 1098.6L1515.6 1091.6L1523.5 1091.6L1523.5 1081.6L1530.5 1081.6L1530.5 1060.8L1538.4 1060.8L1538.4 1005.5L1545.4 1005.5L1545.4 947.5L1553.4 947.5L1553.4 964.2L1561.3 964.2L1561.3 1067.9L1569.2 1067.9L1569.2 1120.6L1576.2 1120.6L1576.2 1130.8L1584.1 1130.8L1584.1 1133.8L1593.8 1133.8" clip-path="url(#p311699efaf)" style="fill: none; stroke: #ff7f0e; stroke-width: 4.7; stroke-linecap: square"/>
</g>
<g id="patch_145">
<path d="M1369.4 1133.8L1369.4 938.4" style="fill: none; stroke: #000000; stroke-width: 2.5; stroke-linejoin: miter; stroke-linecap: square"/>
</g>
<g id="patch_146">
<path d="M1728.1 1133.8L1728.1 938.4" style="fill: none; stroke: #000000; stroke-width: 2.5; stroke-linejoin: miter; stroke-linecap: square"/>
</g>
<g id="patch_147">
<path d="M1369.4 1133.8L1728.1 1133.8" style="fill: none; stroke: #000000; stroke-width: 2.5; stroke-linejoin: miter; stroke-linecap: square"/>
</g>
<g id="patch_148">
<path d="M1369.4 938.4L1728.1 938.4" style="fill: none; stroke: #000000; stroke-width: 2.5; stroke-linejoin: miter; stroke-linecap: square"/>
</g>
<g id="line2d_390">
<path d="M1552.1 1133.8L1552.1 938.4" clip-path="url(#p311699efaf)" style="fill: none; stroke: #000000; stroke-width: 3.13; stroke-linecap: square"/>
</g>
<g id="line2d_391">
<path d="M1599 1133.8L1599 938.4" clip-path="url(#p311699efaf)" style="fill: none; stroke-dasharray: 11.581,5.008; stroke-dashoffset: 0; stroke: #000000; stroke-width: 3.13"/>
</g>
</g>
<g id="text_79">
<text style="font-size: 25px; font-family: 'DejaVu Sans', sans-serif; text-anchor: middle" x="206.55" y="1199" transform="rotate(-0 206.55 1199)">log(Σ(VMR))</text>
</g>
<g id="text_80">
<!-- log(P$_{\rm Cloud}$) [bar] -->
<g transform="translate(306.075 1199)">
<text>
<tspan x="0" y="-0" style="font-size: 25px; font-family: 'DejaVu Sans', sans-serif">l</tspan>
<tspan x="6.945801" y="-0" style="font-size: 25px; font-family: 'DejaVu Sans', sans-serif">o</tspan>
<tspan x="22.241211" y="-0" style="font-size: 25px; font-family: 'DejaVu Sans', sans-serif">g</tspan>
<tspan x="38.110352" y="-0" style="font-size: 25px; font-family: 'DejaVu Sans', sans-serif">(</tspan>
<tspan x="47.86377" y="-0" style="font-size: 25px; font-family: 'DejaVu Sans', sans-serif">P</tspan>
<tspan x="113.850098" y="-0" style="font-size: 25px; font-family: 'DejaVu Sans', sans-serif">)</tspan>
<tspan x="123.603516" y="-0" style="font-size: 25px; font-family: 'DejaVu Sans', sans-serif"> </tspan>
<tspan x="131.550293" y="-0" style="font-size: 25px; font-family: 'DejaVu Sans', sans-serif">[</tspan>
<tspan x="141.303711" y="-0" style="font-size: 25px; font-family: 'DejaVu Sans', sans-serif">b</tspan>
<tspan x="157.172852" y="-0" style="font-size: 25px; font-family: 'DejaVu Sans', sans-serif">a</tspan>
<tspan x="172.492676" y="-0" style="font-size: 25px; font-family: 'DejaVu Sans', sans-serif">r</tspan>
<tspan x="182.770996" y="-0" style="font-size: 25px; font-family: 'DejaVu Sans', sans-serif">]</tspan>
<tspan x="63.178711" y="4.101562" style="font-size: 17.5px; font-family: 'DejaVu Sans', sans-serif">C</tspan>
<tspan x="75.397949" y="4.101562" style="font-size: 17.5px; font-family: 'DejaVu Sans', sans-serif">l</tspan>
<tspan x="80.26001" y="4.101562" style="font-size: 17.5px; font-family: 'DejaVu Sans', sans-serif">o</tspan>
<tspan x="90.966797" y="4.101562" style="font-size: 17.5px; font-family: 'DejaVu Sans', sans-serif">u</tspan>
<tspan x="102.058105" y="4.101562" style="font-size: 17.5px; font-family: 'DejaVu Sans', sans-serif">d</tspan>
</text>
</g>
</g>
<g id="text_81">
<!-- V$_{\rm rot}$ [km$\,$s$^{-1}$] -->
<g transform="translate(521.85 1203.2)">
<text>
<tspan x="0" y="-0.676563" style="font-size: 25px; font-family: 'DejaVu Sans', sans-serif">V</tspan>
<tspan x="42.788086" y="-0.676563" style="font-size: 25px; font-family: 'DejaVu Sans', sans-serif"> </tspan>
<tspan x="50.734863" y="-0.676563" style="font-size: 25px; font-family: 'DejaVu Sans', sans-serif">[</tspan>
<tspan x="60.488281" y="-0.676563" style="font-size: 25px; font-family: 'DejaVu Sans', sans-serif">k</tspan>
<tspan x="74.96582" y="-0.676563" style="font-size: 25px; font-family: 'DejaVu Sans', sans-serif">m</tspan>
<tspan x="103.377767" y="-0.676563" style="font-size: 25px; font-family: 'DejaVu Sans', sans-serif">s</tspan>
<tspan x="143.12264" y="-0.676563" style="font-size: 25px; font-family: 'DejaVu Sans', sans-serif">]</tspan>
<tspan x="17.341309" y="3.425" style="font-size: 17.5px; font-family: 'DejaVu Sans', sans-serif">r</tspan>
<tspan x="24.536133" y="3.425" style="font-size: 17.5px; font-family: 'DejaVu Sans', sans-serif">o</tspan>
<tspan x="35.24292" y="3.425" style="font-size: 17.5px; font-family: 'DejaVu Sans', sans-serif">t</tspan>
<tspan x="116.641927" y="-10.246875" style="font-size: 17.5px; font-family: 'DejaVu Sans', sans-serif">−</tspan>
<tspan x="131.305013" y="-10.246875" style="font-size: 17.5px; font-family: 'DejaVu Sans', sans-serif">1</tspan>
</text>
</g>
</g>
<g id="text_82">
<!-- log($\alpha$) -->
<g transform="translate(757.125 1199)">
<text>
<tspan x="0" y="-0" style="font-size: 25px; font-family: 'DejaVu Sans', sans-serif">l</tspan>
<tspan x="6.945801" y="-0" style="font-size: 25px; font-family: 'DejaVu Sans', sans-serif">o</tspan>
<tspan x="22.241211" y="-0" style="font-size: 25px; font-family: 'DejaVu Sans', sans-serif">g</tspan>
<tspan x="38.110352" y="-0" style="font-size: 25px; font-family: 'DejaVu Sans', sans-serif">(</tspan>
<tspan x="64.343262" y="-0" style="font-size: 25px; font-family: 'DejaVu Sans', sans-serif">)</tspan>
<tspan x="47.86377" y="-0" style="font-style: oblique; font-size: 25px; font-family: 'DejaVu Sans', sans-serif">α</tspan>
</text>
</g>
</g>
<g id="text_83">
<!-- K$_p$ [km$\,$s$^{-1}$] -->
<g transform="translate(920.775 1202.8)">
<text>
<tspan x="0" y="-0.676563" style="font-size: 25px; font-family: 'DejaVu Sans', sans-serif">K</tspan>
<tspan x="28.425293" y="-0.676563" style="font-size: 25px; font-family: 'DejaVu Sans', sans-serif"> </tspan>
<tspan x="36.37207" y="-0.676563" style="font-size: 25px; font-family: 'DejaVu Sans', sans-serif">[</tspan>
<tspan x="46.125488" y="-0.676563" style="font-size: 25px; font-family: 'DejaVu Sans', sans-serif">k</tspan>
<tspan x="60.603027" y="-0.676563" style="font-size: 25px; font-family: 'DejaVu Sans', sans-serif">m</tspan>
<tspan x="89.014974" y="-0.676563" style="font-size: 25px; font-family: 'DejaVu Sans', sans-serif">s</tspan>
<tspan x="128.759847" y="-0.676563" style="font-size: 25px; font-family: 'DejaVu Sans', sans-serif">]</tspan>
<tspan x="16.633301" y="3.425" style="font-style: oblique; font-size: 17.5px; font-family: 'DejaVu Sans', sans-serif">p</tspan>
<tspan x="102.279134" y="-10.246875" style="font-size: 17.5px; font-family: 'DejaVu Sans', sans-serif">−</tspan>
<tspan x="116.94222" y="-10.246875" style="font-size: 17.5px; font-family: 'DejaVu Sans', sans-serif">1</tspan>
</text>
</g>
</g>
<g id="text_84">
<!-- V$_{\rm sys}$ [km$\,$s$^{-1}$] -->
<g transform="translate(1107.675 1202.8)">
<text>
<tspan x="0" y="-0.676563" style="font-size: 25px; font-family: 'DejaVu Sans', sans-serif">V</tspan>
<tspan x="46.616211" y="-0.676563" style="font-size: 25px; font-family: 'DejaVu Sans', sans-serif"> </tspan>
<tspan x="54.562988" y="-0.676563" style="font-size: 25px; font-family: 'DejaVu Sans', sans-serif">[</tspan>
<tspan x="64.316406" y="-0.676563" style="font-size: 25px; font-family: 'DejaVu Sans', sans-serif">k</tspan>
<tspan x="78.793945" y="-0.676563" style="font-size: 25px; font-family: 'DejaVu Sans', sans-serif">m</tspan>
<tspan x="107.205892" y="-0.676563" style="font-size: 25px; font-family: 'DejaVu Sans', sans-serif">s</tspan>
<tspan x="146.950765" y="-0.676563" style="font-size: 25px; font-family: 'DejaVu Sans', sans-serif">]</tspan>
<tspan x="17.341309" y="3.425" style="font-size: 17.5px; font-family: 'DejaVu Sans', sans-serif">s</tspan>
<tspan x="26.45874" y="3.425" style="font-size: 17.5px; font-family: 'DejaVu Sans', sans-serif">y</tspan>
<tspan x="36.815186" y="3.425" style="font-size: 17.5px; font-family: 'DejaVu Sans', sans-serif">s</tspan>
<tspan x="120.470052" y="-10.246875" style="font-size: 17.5px; font-family: 'DejaVu Sans', sans-serif">−</tspan>
<tspan x="135.133138" y="-10.246875" style="font-size: 17.5px; font-family: 'DejaVu Sans', sans-serif">1</tspan>
</text>
</g>
</g>
<g id="text_85">
<!-- log(P$_{\rm Cloud}$) [bar] -->
<g transform="translate(25.6 387.075) rotate(-90)">
<text>
<tspan x="0" y="-0" style="font-size: 25px; font-family: 'DejaVu Sans', sans-serif">l</tspan>
<tspan x="6.945801" y="-0" style="font-size: 25px; font-family: 'DejaVu Sans', sans-serif">o</tspan>
<tspan x="22.241211" y="-0" style="font-size: 25px; font-family: 'DejaVu Sans', sans-serif">g</tspan>
<tspan x="38.110352" y="-0" style="font-size: 25px; font-family: 'DejaVu Sans', sans-serif">(</tspan>
<tspan x="47.86377" y="-0" style="font-size: 25px; font-family: 'DejaVu Sans', sans-serif">P</tspan>
<tspan x="113.850098" y="-0" style="font-size: 25px; font-family: 'DejaVu Sans', sans-serif">)</tspan>
<tspan x="123.603516" y="-0" style="font-size: 25px; font-family: 'DejaVu Sans', sans-serif"> </tspan>
<tspan x="131.550293" y="-0" style="font-size: 25px; font-family: 'DejaVu Sans', sans-serif">[</tspan>
<tspan x="141.303711" y="-0" style="font-size: 25px; font-family: 'DejaVu Sans', sans-serif">b</tspan>
<tspan x="157.172852" y="-0" style="font-size: 25px; font-family: 'DejaVu Sans', sans-serif">a</tspan>
<tspan x="172.492676" y="-0" style="font-size: 25px; font-family: 'DejaVu Sans', sans-serif">r</tspan>
<tspan x="182.770996" y="-0" style="font-size: 25px; font-family: 'DejaVu Sans', sans-serif">]</tspan>
<tspan x="63.178711" y="4.101562" style="font-size: 17.5px; font-family: 'DejaVu Sans', sans-serif">C</tspan>
<tspan x="75.397949" y="4.101562" style="font-size: 17.5px; font-family: 'DejaVu Sans', sans-serif">l</tspan>
<tspan x="80.26001" y="4.101562" style="font-size: 17.5px; font-family: 'DejaVu Sans', sans-serif">o</tspan>
<tspan x="90.966797" y="4.101562" style="font-size: 17.5px; font-family: 'DejaVu Sans', sans-serif">u</tspan>
<tspan x="102.058105" y="4.101562" style="font-size: 17.5px; font-family: 'DejaVu Sans', sans-serif">d</tspan>
</text>
</g>
</g>
<g id="text_86">
<!-- V$_{\rm rot}$ [km$\,$s$^{-1}$] -->
<g transform="translate(26.7 549.7) rotate(-90)">
<text>
<tspan x="0" y="-0.676563" style="font-size: 25px; font-family: 'DejaVu Sans', sans-serif">V</tspan>
<tspan x="42.788086" y="-0.676563" style="font-size: 25px; font-family: 'DejaVu Sans', sans-serif"> </tspan>
<tspan x="50.734863" y="-0.676563" style="font-size: 25px; font-family: 'DejaVu Sans', sans-serif">[</tspan>
<tspan x="60.488281" y="-0.676563" style="font-size: 25px; font-family: 'DejaVu Sans', sans-serif">k</tspan>
<tspan x="74.96582" y="-0.676563" style="font-size: 25px; font-family: 'DejaVu Sans', sans-serif">m</tspan>
<tspan x="103.377767" y="-0.676563" style="font-size: 25px; font-family: 'DejaVu Sans', sans-serif">s</tspan>
<tspan x="143.12264" y="-0.676563" style="font-size: 25px; font-family: 'DejaVu Sans', sans-serif">]</tspan>
<tspan x="17.341309" y="3.425" style="font-size: 17.5px; font-family: 'DejaVu Sans', sans-serif">r</tspan>
<tspan x="24.536133" y="3.425" style="font-size: 17.5px; font-family: 'DejaVu Sans', sans-serif">o</tspan>
<tspan x="35.24292" y="3.425" style="font-size: 17.5px; font-family: 'DejaVu Sans', sans-serif">t</tspan>
<tspan x="116.641927" y="-10.246875" style="font-size: 17.5px; font-family: 'DejaVu Sans', sans-serif">−</tspan>
<tspan x="131.305013" y="-10.246875" style="font-size: 17.5px; font-family: 'DejaVu Sans', sans-serif">1</tspan>
</text>
</g>
</g>
<g id="text_87">
<!-- log($\alpha$) -->
<g transform="translate(26 692.825) rotate(-90)">
<text>
<tspan x="0" y="-0" style="font-size: 25px; font-family: 'DejaVu Sans', sans-serif">l</tspan>
<tspan x="6.945801" y="-0" style="font-size: 25px; font-family: 'DejaVu Sans', sans-serif">o</tspan>
<tspan x="22.241211" y="-0" style="font-size: 25px; font-family: 'DejaVu Sans', sans-serif">g</tspan>
<tspan x="38.110352" y="-0" style="font-size: 25px; font-family: 'DejaVu Sans', sans-serif">(</tspan>
<tspan x="64.343262" y="-0" style="font-size: 25px; font-family: 'DejaVu Sans', sans-serif">)</tspan>
<tspan x="47.86377" y="-0" style="font-style: oblique; font-size: 25px; font-family: 'DejaVu Sans', sans-serif">α</tspan>
</text>
</g>
</g>
<g id="text_88">
<!-- K$_p$ [km$\,$s$^{-1}$] -->
<g transform="translate(23 907.575) rotate(-90)">
<text>
<tspan x="0" y="-0.676563" style="font-size: 25px; font-family: 'DejaVu Sans', sans-serif">K</tspan>
<tspan x="28.425293" y="-0.676563" style="font-size: 25px; font-family: 'DejaVu Sans', sans-serif"> </tspan>
<tspan x="36.37207" y="-0.676563" style="font-size: 25px; font-family: 'DejaVu Sans', sans-serif">[</tspan>
<tspan x="46.125488" y="-0.676563" style="font-size: 25px; font-family: 'DejaVu Sans', sans-serif">k</tspan>
<tspan x="60.603027" y="-0.676563" style="font-size: 25px; font-family: 'DejaVu Sans', sans-serif">m</tspan>
<tspan x="89.014974" y="-0.676563" style="font-size: 25px; font-family: 'DejaVu Sans', sans-serif">s</tspan>
<tspan x="128.759847" y="-0.676563" style="font-size: 25px; font-family: 'DejaVu Sans', sans-serif">]</tspan>
<tspan x="16.633301" y="3.425" style="font-style: oblique; font-size: 17.5px; font-family: 'DejaVu Sans', sans-serif">p</tspan>
<tspan x="102.279134" y="-10.246875" style="font-size: 17.5px; font-family: 'DejaVu Sans', sans-serif">−</tspan>
<tspan x="116.94222" y="-10.246875" style="font-size: 17.5px; font-family: 'DejaVu Sans', sans-serif">1</tspan>
</text>
</g>
</g>
<g id="text_89">
<!-- V$_{\rm sys}$ [km$\,$s$^{-1}$] -->
<g transform="translate(23.8 1099.075) rotate(-90)">
<text>
<tspan x="0" y="-0.676563" style="font-size: 25px; font-family: 'DejaVu Sans', sans-serif">V</tspan>
<tspan x="46.616211" y="-0.676563" style="font-size: 25px; font-family: 'DejaVu Sans', sans-serif"> </tspan>
<tspan x="54.562988" y="-0.676563" style="font-size: 25px; font-family: 'DejaVu Sans', sans-serif">[</tspan>
<tspan x="64.316406" y="-0.676563" style="font-size: 25px; font-family: 'DejaVu Sans', sans-serif">k</tspan>
<tspan x="78.793945" y="-0.676563" style="font-size: 25px; font-family: 'DejaVu Sans', sans-serif">m</tspan>
<tspan x="107.205892" y="-0.676563" style="font-size: 25px; font-family: 'DejaVu Sans', sans-serif">s</tspan>
<tspan x="146.950765" y="-0.676563" style="font-size: 25px; font-family: 'DejaVu Sans', sans-serif">]</tspan>
<tspan x="17.341309" y="3.425" style="font-size: 17.5px; font-family: 'DejaVu Sans', sans-serif">s</tspan>
<tspan x="26.45874" y="3.425" style="font-size: 17.5px; font-family: 'DejaVu Sans', sans-serif">y</tspan>
<tspan x="36.815186" y="3.425" style="font-size: 17.5px; font-family: 'DejaVu Sans', sans-serif">s</tspan>
<tspan x="120.470052" y="-10.246875" style="font-size: 17.5px; font-family: 'DejaVu Sans', sans-serif">−</tspan>
<tspan x="135.133138" y="-10.246875" style="font-size: 17.5px; font-family: 'DejaVu Sans', sans-serif">1</tspan>
</text>
</g>
</g>
<g id="text_90">
<!-- MgSiO$_3$ -->
<g style="fill: #008080" transform="translate(1038 243.7)">
<text>
<tspan x="0" y="-0.453125" style="font-size: 31.3px; font-family: 'DejaVu Sans', sans-serif; fill: #008080">M</tspan>
<tspan x="26.96228" y="-0.453125" style="font-size: 31.3px; font-family: 'DejaVu Sans', sans-serif; fill: #008080">g</tspan>
<tspan x="46.798706" y="-0.453125" style="font-size: 31.3px; font-family: 'DejaVu Sans', sans-serif; fill: #008080">S</tspan>
<tspan x="66.635132" y="-0.453125" style="font-size: 31.3px; font-family: 'DejaVu Sans', sans-serif; fill: #008080">i</tspan>
<tspan x="75.317383" y="-0.453125" style="font-size: 31.3px; font-family: 'DejaVu Sans', sans-serif; fill: #008080">O</tspan>
<tspan x="100.21123" y="4.632812" style="font-size: 21.91px; font-family: 'DejaVu Sans', sans-serif; fill: #008080">3</tspan>
</text>
</g>
</g>
<g id="text_91">
<text style="font-size: 31.3px; font-family: 'DejaVu Sans', sans-serif; text-anchor: start; fill: #ff0000" x="1174" y="278" transform="rotate(-0 1174 278)">CO</text>
</g>
<g id="text_92">
<!-- H$_2$O -->
<g style="fill: #0000ff" transform="translate(1165.8 462.6)">
<text>
<tspan x="0" y="-0.984375" style="font-size: 31.3px; font-family: 'DejaVu Sans', sans-serif; fill: #0000ff">H</tspan>
<tspan x="38.560413" y="-0.984375" style="font-size: 31.3px; font-family: 'DejaVu Sans', sans-serif; fill: #0000ff">O</tspan>
<tspan x="23.795215" y="4.101562" style="font-size: 21.91px; font-family: 'DejaVu Sans', sans-serif; fill: #0000ff">2</tspan>
</text>
</g>
</g>
<g id="text_93">
<text style="font-size: 31.3px; font-family: 'DejaVu Sans', sans-serif; text-anchor: middle" x="1091.35" y="628.5" transform="rotate(-0 1091.35 628.5)">Temperature [K]</text>
</g>
<g id="text_94">
<text style="font-size: 31.3px; font-family: 'DejaVu Sans', sans-serif; text-anchor: middle" x="811.2" y="286.15" transform="rotate(-90 811.2 286.15)">Pressure [bar]</text>
</g>
<g id="text_95">
<!-- log(H$_2$O) -->
<g transform="translate(1480.9855 261.9)">
<text>
<tspan x="0" y="-0.453125" style="font-size: 31.3px; font-family: 'DejaVu Sans', sans-serif">l</tspan>
<tspan x="8.682251" y="-0.453125" style="font-size: 31.3px; font-family: 'DejaVu Sans', sans-serif">o</tspan>
<tspan x="27.801514" y="-0.453125" style="font-size: 31.3px; font-family: 'DejaVu Sans', sans-serif">g</tspan>
<tspan x="47.637939" y="-0.453125" style="font-size: 31.3px; font-family: 'DejaVu Sans', sans-serif">(</tspan>
<tspan x="59.829712" y="-0.453125" style="font-size: 31.3px; font-family: 'DejaVu Sans', sans-serif">H</tspan>
<tspan x="98.390125" y="-0.453125" style="font-size: 31.3px; font-family: 'DejaVu Sans', sans-serif">O</tspan>
<tspan x="122.987292" y="-0.453125" style="font-size: 31.3px; font-family: 'DejaVu Sans', sans-serif">)</tspan>
<tspan x="83.624927" y="4.632812" style="font-size: 21.91px; font-family: 'DejaVu Sans', sans-serif">2</tspan>
</text>
</g>
</g>
<g id="text_96">
<text style="font-size: 31.3px; font-family: 'DejaVu Sans', sans-serif; text-anchor: middle" x="1975.05" y="261.9" transform="rotate(-0 1975.05 261.9)">log(CO)</text>
</g>
<g id="text_97">
<!-- log(CO$_2$) -->
<g transform="translate(1481.768 574.17)">
<text>
<tspan x="0" y="-0.453125" style="font-size: 31.3px; font-family: 'DejaVu Sans', sans-serif">l</tspan>
<tspan x="8.682251" y="-0.453125" style="font-size: 31.3px; font-family: 'DejaVu Sans', sans-serif">o</tspan>
<tspan x="27.801514" y="-0.453125" style="font-size: 31.3px; font-family: 'DejaVu Sans', sans-serif">g</tspan>
<tspan x="47.637939" y="-0.453125" style="font-size: 31.3px; font-family: 'DejaVu Sans', sans-serif">(</tspan>
<tspan x="59.829712" y="-0.453125" style="font-size: 31.3px; font-family: 'DejaVu Sans', sans-serif">C</tspan>
<tspan x="81.64978" y="-0.453125" style="font-size: 31.3px; font-family: 'DejaVu Sans', sans-serif">O</tspan>
<tspan x="121.308826" y="-0.453125" style="font-size: 31.3px; font-family: 'DejaVu Sans', sans-serif">)</tspan>
<tspan x="106.543628" y="4.632812" style="font-size: 21.91px; font-family: 'DejaVu Sans', sans-serif">2</tspan>
</text>
</g>
</g>
<g id="text_98">
<text style="font-size: 31.3px; font-family: 'DejaVu Sans', sans-serif; text-anchor: middle" x="1975.05" y="574.17" transform="rotate(-0 1975.05 574.17)">log(SiO)</text>
</g>
<g id="text_99">
<!-- log(C$_2$H$_2$) -->
<g transform="translate(1474.882 886.44)">
<text>
<tspan x="0" y="-0.453125" style="font-size: 31.3px; font-family: 'DejaVu Sans', sans-serif">l</tspan>
<tspan x="8.682251" y="-0.453125" style="font-size: 31.3px; font-family: 'DejaVu Sans', sans-serif">o</tspan>
<tspan x="27.801514" y="-0.453125" style="font-size: 31.3px; font-family: 'DejaVu Sans', sans-serif">g</tspan>
<tspan x="47.637939" y="-0.453125" style="font-size: 31.3px; font-family: 'DejaVu Sans', sans-serif">(</tspan>
<tspan x="59.829712" y="-0.453125" style="font-size: 31.3px; font-family: 'DejaVu Sans', sans-serif">C</tspan>
<tspan x="96.711658" y="-0.453125" style="font-size: 31.3px; font-family: 'DejaVu Sans', sans-serif">H</tspan>
<tspan x="135.27207" y="-0.453125" style="font-size: 31.3px; font-family: 'DejaVu Sans', sans-serif">)</tspan>
<tspan x="81.94646" y="4.632812" style="font-size: 21.91px; font-family: 'DejaVu Sans', sans-serif">2</tspan>
<tspan x="120.506873" y="4.632812" style="font-size: 21.91px; font-family: 'DejaVu Sans', sans-serif">2</tspan>
</text>
</g>
</g>
<g id="text_100">
<text style="font-size: 31.3px; font-family: 'DejaVu Sans', sans-serif; text-anchor: middle" x="1975.05" y="886.44" transform="rotate(-0 1975.05 886.44)">log(HCN)</text>
</g>
<g id="text_101">
<!-- log(CH$_4$) -->
<g transform="translate(1482.394 1198.71)">
<text>
<tspan x="0" y="-0.453125" style="font-size: 31.3px; font-family: 'DejaVu Sans', sans-serif">l</tspan>
<tspan x="8.682251" y="-0.453125" style="font-size: 31.3px; font-family: 'DejaVu Sans', sans-serif">o</tspan>
<tspan x="27.801514" y="-0.453125" style="font-size: 31.3px; font-family: 'DejaVu Sans', sans-serif">g</tspan>
<tspan x="47.637939" y="-0.453125" style="font-size: 31.3px; font-family: 'DejaVu Sans', sans-serif">(</tspan>
<tspan x="59.829712" y="-0.453125" style="font-size: 31.3px; font-family: 'DejaVu Sans', sans-serif">C</tspan>
<tspan x="81.64978" y="-0.453125" style="font-size: 31.3px; font-family: 'DejaVu Sans', sans-serif">H</tspan>
<tspan x="120.210193" y="-0.453125" style="font-size: 31.3px; font-family: 'DejaVu Sans', sans-serif">)</tspan>
<tspan x="105.444995" y="4.632812" style="font-size: 21.91px; font-family: 'DejaVu Sans', sans-serif">4</tspan>
</text>
</g>
</g>
<g id="patch_149">
<path d="M 1803.8 954 L 2048.7 954 Q 2054.9 954 2054.9 960.2 L 2054.9 1048.5 Q 2054.9 1054.7 2048.7 1054.7 L 1803.8 1054.7 Q 1797.6 1054.7 1797.6 1048.5 L 1797.6 960.2 Q 1797.6 954 1803.8 954 z" style="fill: #ffffff; stroke: #cccccc; stroke-width: 2.6; stroke-linejoin: miter"/>
</g>
<g id="line2d_392">
<path d="M1809.8 978.9L1871.9 978.9" style="fill: none; stroke: #000000; stroke-width: 3.13"/>
</g>
<g id="line2d_393">
<path d="M1809.8 1024.8L1871.9 1024.8" style="fill: none; stroke-dasharray: 11.581,5.008; stroke-dashoffset: 0; stroke: #000000; stroke-width: 3.13"/>
</g>
<g id="text_102">
<text style="font-size: 31.3px; font-family: 'DejaVu Sans', sans-serif; text-anchor: start" x="1897.4" y="990.2" transform="rotate(-0 1897.4 990.2)">Solar C/O</text>
</g>
<g id="text_103">
<text style="font-size: 31.3px; font-family: 'DejaVu Sans', sans-serif; text-anchor: start" x="1897.4" y="1035" transform="rotate(-0 1897.4 1035)">C/O=1</text>
</g>
</g>
<defs>
<clipPath id="p1be38e4489">
<rect x="113.4" y="21.3" width="186.3" height="173.8"/>
</clipPath>
<clipPath id="p639ee60610">
<rect x="113.4" y="203.8" width="186.3" height="173.8"/>
</clipPath>
<clipPath id="p97ba4817ba">
<rect x="309.3" y="203.8" width="186.3" height="173.8"/>
</clipPath>
<clipPath id="paacbe56d17">
<rect x="113.4" y="386.3" width="186.3" height="173.8"/>
</clipPath>
<clipPath id="pcf2dee9362">
<rect x="309.3" y="386.3" width="186.3" height="173.8"/>
</clipPath>
<clipPath id="p2f7e1b8e32">
<rect x="505.2" y="386.3" width="186.3" height="173.8"/>
</clipPath>
<clipPath id="pd17db7706b">
<rect x="113.4" y="568.8" width="186.3" height="173.8"/>
</clipPath>
<clipPath id="pf4d4a8c978">
<rect x="309.3" y="568.8" width="186.3" height="173.8"/>
</clipPath>
<clipPath id="pb583dfc140">
<rect x="505.2" y="568.8" width="186.3" height="173.8"/>
</clipPath>
<clipPath id="p5c2c47b434">
<rect x="701.1" y="568.8" width="186.3" height="173.8"/>
</clipPath>
<clipPath id="pd31951fc2e">
<rect x="113.4" y="751.3" width="186.3" height="173.8"/>
</clipPath>
<clipPath id="p104d18492d">
<rect x="309.3" y="751.3" width="186.3" height="173.8"/>
</clipPath>
<clipPath id="pd84e1abe8b">
<rect x="505.2" y="751.3" width="186.3" height="173.8"/>
</clipPath>
<clipPath id="p919ea310ab">
<rect x="701.1" y="751.3" width="186.3" height="173.8"/>
</clipPath>
<clipPath id="p958466ab37">
<rect x="897" y="751.3" width="186.3" height="173.8"/>
</clipPath>
<clipPath id="pf7a11a838c">
<rect x="113.4" y="933.8" width="186.3" height="173.8"/>
</clipPath>
<clipPath id="p263a6c56a1">
<rect x="309.3" y="933.8" width="186.3" height="173.8"/>
</clipPath>
<clipPath id="p836a0523de">
<rect x="505.2" y="933.8" width="186.3" height="173.8"/>
</clipPath>
<clipPath id="pf6bf1bd8ca">
<rect x="701.1" y="933.8" width="186.3" height="173.8"/>
</clipPath>
<clipPath id="p824a0c52c8">
<rect x="897" y="933.8" width="186.3" height="173.8"/>
</clipPath>
<clipPath id="p831e0020ad">
<rect x="1092.9" y="933.8" width="186.3" height="173.8"/>
</clipPath>
<clipPath id="pf93519a822">
<rect x="903.4" y="21" width="375.9" height="530.3"/>
</clipPath>
<clipPath id="pe4f5a4375f">
<rect x="1369.4" y="1.6" width="358.7" height="195.4"/>
</clipPath>
<clipPath id="pa0e2d96ad4">
<rect x="1795.7" y="1.6" width="358.7" height="195.4"/>
</clipPath>
<clipPath id="p6b5af138cc">
<rect x="1369.4" y="313.87" width="358.7" height="195.4"/>
</clipPath>
<clipPath id="pd9fce0dad3">
<rect x="1795.7" y="313.87" width="358.7" height="195.4"/>
</clipPath>
<clipPath id="p5cd8cf5c5c">
<rect x="1369.4" y="626.14" width="358.7" height="195.4"/>
</clipPath>
<clipPath id="p99c3dd9e61">
<rect x="1795.7" y="626.14" width="358.7" height="195.4"/>
</clipPath>
<clipPath id="p311699efaf">
<rect x="1369.4" y="938.41" width="358.7" height="195.4"/>
</clipPath>
</defs>
</svg>

</body></html>
